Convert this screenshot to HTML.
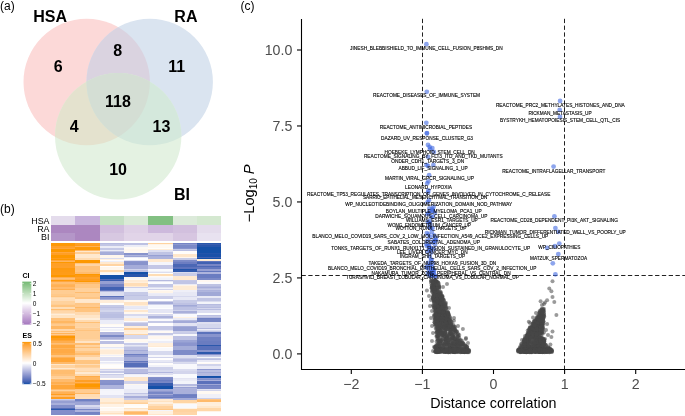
<!DOCTYPE html>
<html><head><meta charset="utf-8"><style>
html,body{margin:0;padding:0;background:#fff;overflow:hidden;}
svg{display:block;}
.wrap{will-change:transform;}
text{font-family:"Liberation Sans",sans-serif;}
</style></head><body>
<div class="wrap"><svg width="685" height="416" viewBox="0 0 685 416">
<text x="0" y="10" font-size="12" text-anchor="start" font-weight="normal" fill="#000" >(a)</text>
<text x="0" y="213" font-size="12" text-anchor="start" font-weight="normal" fill="#000" >(b)</text>
<text x="240.5" y="10" font-size="12" text-anchor="start" font-weight="normal" fill="#000" >(c)</text>
<defs><clipPath id="cR"><circle cx="86.7" cy="82" r="63.2" fill="#000" /></clipPath><clipPath id="cB"><circle cx="149.7" cy="82" r="63.2" fill="#000" /></clipPath></defs>
<circle cx="86.7" cy="82" r="63.2" fill="rgb(252,217,216)" />
<circle cx="149.7" cy="82" r="63.2" fill="rgb(218,228,240)" />
<circle cx="118.2" cy="136.3" r="63.2" fill="rgb(228,242,226)" />
<circle cx="149.7" cy="82" r="63.2" fill="rgb(218,211,224)" clip-path="url(#cR)"/>
<circle cx="118.2" cy="136.3" r="63.2" fill="rgb(228,226,206)" clip-path="url(#cR)"/>
<circle cx="118.2" cy="136.3" r="63.2" fill="rgb(212,232,220)" clip-path="url(#cB)"/>
<g clip-path="url(#cB)"><circle cx="118.2" cy="136.3" r="63.2" fill="rgb(212,222,212)" clip-path="url(#cR)"/></g>
<text x="50.2" y="22.3" font-size="16" text-anchor="middle" font-weight="bold" fill="#000" >HSA</text>
<text x="185.9" y="22.3" font-size="16" text-anchor="middle" font-weight="bold" fill="#000" >RA</text>
<text x="182" y="200.1" font-size="16" text-anchor="middle" font-weight="bold" fill="#000" >BI</text>
<text x="58.3" y="72.1" font-size="16" text-anchor="middle" font-weight="bold" fill="#000" >6</text>
<text x="117.6" y="56.2" font-size="16" text-anchor="middle" font-weight="bold" fill="#000" >8</text>
<text x="176.8" y="72" font-size="16" text-anchor="middle" font-weight="bold" fill="#000" >11</text>
<text x="118" y="106.6" font-size="16" text-anchor="middle" font-weight="bold" fill="#000" >118</text>
<text x="74.1" y="131.9" font-size="16" text-anchor="middle" font-weight="bold" fill="#000" >4</text>
<text x="161.5" y="131.9" font-size="16" text-anchor="middle" font-weight="bold" fill="#000" >13</text>
<text x="118.1" y="174.8" font-size="16" text-anchor="middle" font-weight="bold" fill="#000" >10</text>
<g shape-rendering="crispEdges">
<rect x="51" y="216" width="24.30" height="8.50" fill="rgb(228, 220, 236)"/>
<rect x="75.3" y="216" width="24.40" height="8.50" fill="rgb(200, 180, 220)"/>
<rect x="99.7" y="216" width="24.30" height="8.50" fill="rgb(198, 226, 196)"/>
<rect x="124" y="216" width="24.40" height="8.50" fill="rgb(218, 234, 215)"/>
<rect x="148.4" y="216" width="24.40" height="8.50" fill="rgb(130, 192, 130)"/>
<rect x="172.8" y="216" width="24.20" height="8.50" fill="rgb(220, 234, 218)"/>
<rect x="197" y="216" width="24.20" height="8.50" fill="rgb(212, 232, 208)"/>
<rect x="51" y="224.5" width="24.30" height="8.00" fill="rgb(172, 135, 192)"/>
<rect x="75.3" y="224.5" width="24.40" height="8.00" fill="rgb(172, 135, 192)"/>
<rect x="99.7" y="224.5" width="24.30" height="8.00" fill="rgb(210, 192, 222)"/>
<rect x="124" y="224.5" width="24.40" height="8.00" fill="rgb(222, 208, 230)"/>
<rect x="148.4" y="224.5" width="24.40" height="8.00" fill="rgb(205, 185, 220)"/>
<rect x="172.8" y="224.5" width="24.20" height="8.00" fill="rgb(210, 192, 222)"/>
<rect x="197" y="224.5" width="24.20" height="8.00" fill="rgb(228, 220, 236)"/>
<rect x="51" y="232.5" width="24.30" height="8.50" fill="rgb(180, 150, 200)"/>
<rect x="75.3" y="232.5" width="24.40" height="8.50" fill="rgb(172, 135, 192)"/>
<rect x="99.7" y="232.5" width="24.30" height="8.50" fill="rgb(215, 200, 225)"/>
<rect x="124" y="232.5" width="24.40" height="8.50" fill="rgb(225, 212, 232)"/>
<rect x="148.4" y="232.5" width="24.40" height="8.50" fill="rgb(225, 212, 232)"/>
<rect x="172.8" y="232.5" width="24.20" height="8.50" fill="rgb(215, 198, 225)"/>
<rect x="197" y="232.5" width="24.20" height="8.50" fill="rgb(232, 226, 240)"/>
</g>
<text x="49.5" y="223.6" font-size="8.9" text-anchor="end" font-weight="normal" fill="#000" >HSA</text>
<text x="49.5" y="231.6" font-size="8.9" text-anchor="end" font-weight="normal" fill="#000" >RA</text>
<text x="49.5" y="239.6" font-size="8.9" text-anchor="end" font-weight="normal" fill="#000" >BI</text>
<g shape-rendering="crispEdges">
<rect x="51" y="243" width="24.30" height="1" fill="rgb(253, 153, 7)"/>
<rect x="51" y="244" width="24.30" height="1" fill="rgb(253, 153, 7)"/>
<rect x="51" y="245" width="24.30" height="1" fill="rgb(253, 153, 7)"/>
<rect x="51" y="246" width="24.30" height="1" fill="rgb(255, 160, 42)"/>
<rect x="51" y="247" width="24.30" height="1" fill="rgb(255, 160, 42)"/>
<rect x="51" y="248" width="24.30" height="1" fill="rgb(255, 166, 58)"/>
<rect x="51" y="249" width="24.30" height="1" fill="rgb(253, 152, 0)"/>
<rect x="51" y="250" width="24.30" height="1" fill="rgb(253, 152, 0)"/>
<rect x="51" y="251" width="24.30" height="1" fill="rgb(253, 152, 0)"/>
<rect x="51" y="252" width="24.30" height="1" fill="rgb(255, 167, 62)"/>
<rect x="51" y="253" width="24.30" height="1" fill="rgb(255, 159, 38)"/>
<rect x="51" y="254" width="24.30" height="1" fill="rgb(255, 159, 38)"/>
<rect x="51" y="255" width="24.30" height="1" fill="rgb(253, 152, 0)"/>
<rect x="51" y="256" width="24.30" height="1" fill="rgb(253, 152, 0)"/>
<rect x="51" y="257" width="24.30" height="1" fill="rgb(253, 152, 0)"/>
<rect x="51" y="258" width="24.30" height="1" fill="rgb(255, 157, 29)"/>
<rect x="51" y="259" width="24.30" height="1" fill="rgb(253, 152, 0)"/>
<rect x="51" y="260" width="24.30" height="1" fill="rgb(255, 167, 62)"/>
<rect x="51" y="261" width="24.30" height="1" fill="rgb(255, 181, 94)"/>
<rect x="51" y="262" width="24.30" height="1" fill="rgb(253, 152, 0)"/>
<rect x="51" y="263" width="24.30" height="1" fill="rgb(255, 159, 38)"/>
<rect x="51" y="264" width="24.30" height="1" fill="rgb(255, 159, 38)"/>
<rect x="51" y="265" width="24.30" height="1" fill="rgb(255, 159, 38)"/>
<rect x="51" y="266" width="24.30" height="1" fill="rgb(255, 160, 41)"/>
<rect x="51" y="267" width="24.30" height="1" fill="rgb(255, 160, 41)"/>
<rect x="51" y="268" width="24.30" height="1" fill="rgb(254, 154, 15)"/>
<rect x="51" y="269" width="24.30" height="1" fill="rgb(254, 154, 15)"/>
<rect x="51" y="270" width="24.30" height="1" fill="rgb(254, 155, 20)"/>
<rect x="51" y="271" width="24.30" height="1" fill="rgb(254, 155, 20)"/>
<rect x="51" y="272" width="24.30" height="1" fill="rgb(254, 156, 24)"/>
<rect x="51" y="273" width="24.30" height="1" fill="rgb(254, 156, 24)"/>
<rect x="51" y="274" width="24.30" height="1" fill="rgb(255, 156, 26)"/>
<rect x="51" y="275" width="24.30" height="1" fill="rgb(253, 152, 0)"/>
<rect x="51" y="276" width="24.30" height="1" fill="rgb(253, 152, 0)"/>
<rect x="51" y="277" width="24.30" height="1" fill="rgb(255, 174, 79)"/>
<rect x="51" y="278" width="24.30" height="1" fill="rgb(255, 192, 120)"/>
<rect x="51" y="279" width="24.30" height="1" fill="rgb(255, 184, 102)"/>
<rect x="51" y="280" width="24.30" height="1" fill="rgb(254, 154, 13)"/>
<rect x="51" y="281" width="24.30" height="1" fill="rgb(255, 167, 62)"/>
<rect x="51" y="282" width="24.30" height="1" fill="rgb(255, 190, 115)"/>
<rect x="51" y="283" width="24.30" height="1" fill="rgb(255, 190, 115)"/>
<rect x="51" y="284" width="24.30" height="1" fill="rgb(255, 181, 94)"/>
<rect x="51" y="285" width="24.30" height="1" fill="rgb(255, 177, 86)"/>
<rect x="51" y="286" width="24.30" height="1" fill="rgb(255, 177, 86)"/>
<rect x="51" y="287" width="24.30" height="1" fill="rgb(255, 187, 109)"/>
<rect x="51" y="288" width="24.30" height="1" fill="rgb(255, 187, 109)"/>
<rect x="51" y="289" width="24.30" height="1" fill="rgb(255, 175, 80)"/>
<rect x="51" y="290" width="24.30" height="1" fill="rgb(255, 205, 147)"/>
<rect x="51" y="291" width="24.30" height="1" fill="rgb(255, 205, 147)"/>
<rect x="51" y="292" width="24.30" height="1" fill="rgb(255, 205, 147)"/>
<rect x="51" y="293" width="24.30" height="1" fill="rgb(255, 205, 147)"/>
<rect x="51" y="294" width="24.30" height="1" fill="rgb(255, 201, 138)"/>
<rect x="51" y="295" width="24.30" height="1" fill="rgb(255, 201, 138)"/>
<rect x="51" y="296" width="24.30" height="1" fill="rgb(255, 196, 128)"/>
<rect x="51" y="297" width="24.30" height="1" fill="rgb(255, 217, 172)"/>
<rect x="51" y="298" width="24.30" height="1" fill="rgb(255, 223, 186)"/>
<rect x="51" y="299" width="24.30" height="1" fill="rgb(255, 221, 183)"/>
<rect x="51" y="300" width="24.30" height="1" fill="rgb(255, 221, 183)"/>
<rect x="51" y="301" width="24.30" height="1" fill="rgb(255, 210, 157)"/>
<rect x="51" y="302" width="24.30" height="1" fill="rgb(255, 210, 157)"/>
<rect x="51" y="303" width="24.30" height="1" fill="rgb(255, 210, 157)"/>
<rect x="51" y="304" width="24.30" height="1" fill="rgb(255, 206, 149)"/>
<rect x="51" y="305" width="24.30" height="1" fill="rgb(255, 196, 127)"/>
<rect x="51" y="306" width="24.30" height="1" fill="rgb(255, 196, 127)"/>
<rect x="51" y="307" width="24.30" height="1" fill="rgb(255, 221, 181)"/>
<rect x="51" y="308" width="24.30" height="1" fill="rgb(255, 221, 181)"/>
<rect x="51" y="309" width="24.30" height="1" fill="rgb(255, 190, 114)"/>
<rect x="51" y="310" width="24.30" height="1" fill="rgb(255, 210, 159)"/>
<rect x="51" y="311" width="24.30" height="1" fill="rgb(255, 215, 170)"/>
<rect x="51" y="312" width="24.30" height="1" fill="rgb(255, 215, 170)"/>
<rect x="51" y="313" width="24.30" height="1" fill="rgb(255, 224, 189)"/>
<rect x="51" y="314" width="24.30" height="1" fill="rgb(255, 237, 216)"/>
<rect x="51" y="315" width="24.30" height="1" fill="rgb(255, 227, 194)"/>
<rect x="51" y="316" width="24.30" height="1" fill="rgb(255, 227, 194)"/>
<rect x="51" y="317" width="24.30" height="1" fill="rgb(255, 227, 194)"/>
<rect x="51" y="318" width="24.30" height="1" fill="rgb(255, 194, 123)"/>
<rect x="51" y="319" width="24.30" height="1" fill="rgb(255, 194, 123)"/>
<rect x="51" y="320" width="24.30" height="1" fill="rgb(255, 195, 125)"/>
<rect x="51" y="321" width="24.30" height="1" fill="rgb(255, 183, 98)"/>
<rect x="51" y="322" width="24.30" height="1" fill="rgb(255, 183, 98)"/>
<rect x="51" y="323" width="24.30" height="1" fill="rgb(255, 195, 125)"/>
<rect x="51" y="324" width="24.30" height="1" fill="rgb(255, 202, 141)"/>
<rect x="51" y="325" width="24.30" height="1" fill="rgb(255, 202, 141)"/>
<rect x="51" y="326" width="24.30" height="1" fill="rgb(255, 183, 99)"/>
<rect x="51" y="327" width="24.30" height="1" fill="rgb(255, 183, 99)"/>
<rect x="51" y="328" width="24.30" height="1" fill="rgb(255, 183, 99)"/>
<rect x="51" y="329" width="24.30" height="1" fill="rgb(255, 215, 170)"/>
<rect x="51" y="330" width="24.30" height="1" fill="rgb(255, 215, 170)"/>
<rect x="51" y="331" width="24.30" height="1" fill="rgb(255, 192, 118)"/>
<rect x="51" y="332" width="24.30" height="1" fill="rgb(255, 212, 163)"/>
<rect x="51" y="333" width="24.30" height="1" fill="rgb(255, 179, 90)"/>
<rect x="51" y="334" width="24.30" height="1" fill="rgb(255, 203, 143)"/>
<rect x="51" y="335" width="24.30" height="1" fill="rgb(255, 174, 80)"/>
<rect x="51" y="336" width="24.30" height="1" fill="rgb(253, 152, 2)"/>
<rect x="51" y="337" width="24.30" height="1" fill="rgb(253, 152, 2)"/>
<rect x="51" y="338" width="24.30" height="1" fill="rgb(255, 157, 30)"/>
<rect x="51" y="339" width="24.30" height="1" fill="rgb(255, 157, 30)"/>
<rect x="51" y="340" width="24.30" height="1" fill="rgb(255, 165, 54)"/>
<rect x="51" y="341" width="24.30" height="1" fill="rgb(255, 174, 78)"/>
<rect x="51" y="342" width="24.30" height="1" fill="rgb(255, 174, 78)"/>
<rect x="51" y="343" width="24.30" height="1" fill="rgb(255, 191, 118)"/>
<rect x="51" y="344" width="24.30" height="1" fill="rgb(255, 184, 102)"/>
<rect x="51" y="345" width="24.30" height="1" fill="rgb(255, 168, 63)"/>
<rect x="51" y="346" width="24.30" height="1" fill="rgb(255, 168, 63)"/>
<rect x="51" y="347" width="24.30" height="1" fill="rgb(255, 168, 63)"/>
<rect x="51" y="348" width="24.30" height="1" fill="rgb(255, 179, 89)"/>
<rect x="51" y="349" width="24.30" height="1" fill="rgb(255, 170, 70)"/>
<rect x="51" y="350" width="24.30" height="1" fill="rgb(255, 170, 70)"/>
<rect x="51" y="351" width="24.30" height="1" fill="rgb(255, 170, 70)"/>
<rect x="51" y="352" width="24.30" height="1" fill="rgb(255, 170, 70)"/>
<rect x="51" y="353" width="24.30" height="1" fill="rgb(255, 175, 80)"/>
<rect x="51" y="354" width="24.30" height="1" fill="rgb(255, 175, 80)"/>
<rect x="51" y="355" width="24.30" height="1" fill="rgb(255, 196, 127)"/>
<rect x="51" y="356" width="24.30" height="1" fill="rgb(255, 196, 127)"/>
<rect x="51" y="357" width="24.30" height="1" fill="rgb(255, 177, 86)"/>
<rect x="51" y="358" width="24.30" height="1" fill="rgb(255, 165, 54)"/>
<rect x="51" y="359" width="24.30" height="1" fill="rgb(255, 165, 54)"/>
<rect x="51" y="360" width="24.30" height="1" fill="rgb(255, 165, 54)"/>
<rect x="51" y="361" width="24.30" height="1" fill="rgb(255, 165, 54)"/>
<rect x="51" y="362" width="24.30" height="1" fill="rgb(255, 186, 106)"/>
<rect x="51" y="363" width="24.30" height="1" fill="rgb(255, 186, 106)"/>
<rect x="51" y="364" width="24.30" height="1" fill="rgb(255, 231, 202)"/>
<rect x="51" y="365" width="24.30" height="1" fill="rgb(255, 212, 162)"/>
<rect x="51" y="366" width="24.30" height="1" fill="rgb(255, 212, 162)"/>
<rect x="51" y="367" width="24.30" height="1" fill="rgb(255, 212, 162)"/>
<rect x="51" y="368" width="24.30" height="1" fill="rgb(255, 233, 207)"/>
<rect x="51" y="369" width="24.30" height="1" fill="rgb(255, 212, 162)"/>
<rect x="51" y="370" width="24.30" height="1" fill="rgb(255, 189, 112)"/>
<rect x="51" y="371" width="24.30" height="1" fill="rgb(255, 189, 112)"/>
<rect x="51" y="372" width="24.30" height="1" fill="rgb(255, 189, 112)"/>
<rect x="51" y="373" width="24.30" height="1" fill="rgb(255, 189, 112)"/>
<rect x="51" y="374" width="24.30" height="1" fill="rgb(255, 194, 124)"/>
<rect x="51" y="375" width="24.30" height="1" fill="rgb(255, 194, 124)"/>
<rect x="51" y="376" width="24.30" height="1" fill="rgb(255, 207, 152)"/>
<rect x="51" y="377" width="24.30" height="1" fill="rgb(255, 207, 152)"/>
<rect x="51" y="378" width="24.30" height="1" fill="rgb(255, 212, 162)"/>
<rect x="51" y="379" width="24.30" height="1" fill="rgb(255, 187, 109)"/>
<rect x="51" y="380" width="24.30" height="1" fill="rgb(255, 187, 109)"/>
<rect x="51" y="381" width="24.30" height="1" fill="rgb(255, 187, 109)"/>
<rect x="51" y="382" width="24.30" height="1" fill="rgb(255, 175, 80)"/>
<rect x="51" y="383" width="24.30" height="1" fill="rgb(255, 175, 80)"/>
<rect x="51" y="384" width="24.30" height="1" fill="rgb(255, 183, 100)"/>
<rect x="51" y="385" width="24.30" height="1" fill="rgb(255, 166, 57)"/>
<rect x="51" y="386" width="24.30" height="1" fill="rgb(255, 166, 57)"/>
<rect x="51" y="387" width="24.30" height="1" fill="rgb(255, 166, 57)"/>
<rect x="51" y="388" width="24.30" height="1" fill="rgb(255, 166, 57)"/>
<rect x="51" y="389" width="24.30" height="1" fill="rgb(255, 187, 109)"/>
<rect x="51" y="390" width="24.30" height="1" fill="rgb(255, 209, 155)"/>
<rect x="51" y="391" width="24.30" height="1" fill="rgb(255, 188, 111)"/>
<rect x="51" y="392" width="24.30" height="1" fill="rgb(255, 177, 86)"/>
<rect x="51" y="393" width="24.30" height="1" fill="rgb(255, 177, 86)"/>
<rect x="51" y="394" width="24.30" height="1" fill="rgb(255, 158, 35)"/>
<rect x="51" y="395" width="24.30" height="1" fill="rgb(255, 187, 108)"/>
<rect x="51" y="396" width="24.30" height="1" fill="rgb(255, 187, 108)"/>
<rect x="51" y="397" width="24.30" height="1" fill="rgb(255, 158, 34)"/>
<rect x="51" y="398" width="24.30" height="1" fill="rgb(255, 158, 34)"/>
<rect x="51" y="399" width="24.30" height="1" fill="rgb(203, 206, 233)"/>
<rect x="51" y="400" width="24.30" height="1" fill="rgb(171, 177, 219)"/>
<rect x="51" y="401" width="24.30" height="1" fill="rgb(150, 159, 210)"/>
<rect x="51" y="402" width="24.30" height="1" fill="rgb(150, 159, 210)"/>
<rect x="51" y="403" width="24.30" height="1" fill="rgb(169, 176, 219)"/>
<rect x="51" y="404" width="24.30" height="1" fill="rgb(169, 176, 219)"/>
<rect x="51" y="405" width="24.30" height="1" fill="rgb(131, 143, 202)"/>
<rect x="51" y="406" width="24.30" height="1" fill="rgb(131, 143, 202)"/>
<rect x="51" y="407" width="24.30" height="1" fill="rgb(130, 143, 202)"/>
<rect x="51" y="408" width="24.30" height="1" fill="rgb(85, 109, 185)"/>
<rect x="51" y="409" width="24.30" height="1" fill="rgb(43, 87, 172)"/>
<rect x="51" y="410" width="24.30" height="1" fill="rgb(130, 142, 202)"/>
<rect x="51" y="411" width="24.30" height="1" fill="rgb(130, 142, 202)"/>
<rect x="51" y="412" width="24.30" height="1" fill="rgb(130, 142, 202)"/>
<rect x="51" y="413" width="24.30" height="1" fill="rgb(128, 141, 201)"/>
<rect x="51" y="414" width="24.30" height="1" fill="rgb(128, 141, 201)"/>
<rect x="75.3" y="243" width="24.40" height="1" fill="rgb(255, 159, 37)"/>
<rect x="75.3" y="244" width="24.40" height="1" fill="rgb(255, 159, 37)"/>
<rect x="75.3" y="245" width="24.40" height="1" fill="rgb(255, 156, 27)"/>
<rect x="75.3" y="246" width="24.40" height="1" fill="rgb(255, 177, 86)"/>
<rect x="75.3" y="247" width="24.40" height="1" fill="rgb(254, 153, 10)"/>
<rect x="75.3" y="248" width="24.40" height="1" fill="rgb(254, 153, 10)"/>
<rect x="75.3" y="249" width="24.40" height="1" fill="rgb(254, 153, 10)"/>
<rect x="75.3" y="250" width="24.40" height="1" fill="rgb(255, 186, 106)"/>
<rect x="75.3" y="251" width="24.40" height="1" fill="rgb(255, 231, 204)"/>
<rect x="75.3" y="252" width="24.40" height="1" fill="rgb(255, 205, 148)"/>
<rect x="75.3" y="253" width="24.40" height="1" fill="rgb(255, 205, 148)"/>
<rect x="75.3" y="254" width="24.40" height="1" fill="rgb(255, 232, 206)"/>
<rect x="75.3" y="255" width="24.40" height="1" fill="rgb(255, 232, 206)"/>
<rect x="75.3" y="256" width="24.40" height="1" fill="rgb(255, 232, 206)"/>
<rect x="75.3" y="257" width="24.40" height="1" fill="rgb(255, 232, 206)"/>
<rect x="75.3" y="258" width="24.40" height="1" fill="rgb(255, 219, 177)"/>
<rect x="75.3" y="259" width="24.40" height="1" fill="rgb(255, 219, 177)"/>
<rect x="75.3" y="260" width="24.40" height="1" fill="rgb(253, 152, 0)"/>
<rect x="75.3" y="261" width="24.40" height="1" fill="rgb(253, 152, 0)"/>
<rect x="75.3" y="262" width="24.40" height="1" fill="rgb(253, 152, 0)"/>
<rect x="75.3" y="263" width="24.40" height="1" fill="rgb(255, 196, 128)"/>
<rect x="75.3" y="264" width="24.40" height="1" fill="rgb(255, 212, 164)"/>
<rect x="75.3" y="265" width="24.40" height="1" fill="rgb(255, 212, 164)"/>
<rect x="75.3" y="266" width="24.40" height="1" fill="rgb(255, 194, 124)"/>
<rect x="75.3" y="267" width="24.40" height="1" fill="rgb(255, 194, 124)"/>
<rect x="75.3" y="268" width="24.40" height="1" fill="rgb(255, 194, 124)"/>
<rect x="75.3" y="269" width="24.40" height="1" fill="rgb(255, 194, 124)"/>
<rect x="75.3" y="270" width="24.40" height="1" fill="rgb(255, 197, 129)"/>
<rect x="75.3" y="271" width="24.40" height="1" fill="rgb(255, 197, 129)"/>
<rect x="75.3" y="272" width="24.40" height="1" fill="rgb(255, 188, 111)"/>
<rect x="75.3" y="273" width="24.40" height="1" fill="rgb(255, 188, 111)"/>
<rect x="75.3" y="274" width="24.40" height="1" fill="rgb(253, 152, 0)"/>
<rect x="75.3" y="275" width="24.40" height="1" fill="rgb(254, 155, 19)"/>
<rect x="75.3" y="276" width="24.40" height="1" fill="rgb(254, 155, 19)"/>
<rect x="75.3" y="277" width="24.40" height="1" fill="rgb(255, 161, 44)"/>
<rect x="75.3" y="278" width="24.40" height="1" fill="rgb(255, 161, 44)"/>
<rect x="75.3" y="279" width="24.40" height="1" fill="rgb(255, 157, 30)"/>
<rect x="75.3" y="280" width="24.40" height="1" fill="rgb(255, 157, 30)"/>
<rect x="75.3" y="281" width="24.40" height="1" fill="rgb(253, 152, 0)"/>
<rect x="75.3" y="282" width="24.40" height="1" fill="rgb(255, 187, 107)"/>
<rect x="75.3" y="283" width="24.40" height="1" fill="rgb(255, 187, 107)"/>
<rect x="75.3" y="284" width="24.40" height="1" fill="rgb(255, 199, 134)"/>
<rect x="75.3" y="285" width="24.40" height="1" fill="rgb(255, 199, 134)"/>
<rect x="75.3" y="286" width="24.40" height="1" fill="rgb(255, 199, 134)"/>
<rect x="75.3" y="287" width="24.40" height="1" fill="rgb(255, 199, 134)"/>
<rect x="75.3" y="288" width="24.40" height="1" fill="rgb(255, 209, 156)"/>
<rect x="75.3" y="289" width="24.40" height="1" fill="rgb(255, 209, 156)"/>
<rect x="75.3" y="290" width="24.40" height="1" fill="rgb(255, 209, 156)"/>
<rect x="75.3" y="291" width="24.40" height="1" fill="rgb(255, 209, 156)"/>
<rect x="75.3" y="292" width="24.40" height="1" fill="rgb(255, 188, 110)"/>
<rect x="75.3" y="293" width="24.40" height="1" fill="rgb(255, 205, 147)"/>
<rect x="75.3" y="294" width="24.40" height="1" fill="rgb(255, 205, 147)"/>
<rect x="75.3" y="295" width="24.40" height="1" fill="rgb(255, 205, 147)"/>
<rect x="75.3" y="296" width="24.40" height="1" fill="rgb(255, 205, 147)"/>
<rect x="75.3" y="297" width="24.40" height="1" fill="rgb(255, 198, 133)"/>
<rect x="75.3" y="298" width="24.40" height="1" fill="rgb(255, 198, 133)"/>
<rect x="75.3" y="299" width="24.40" height="1" fill="rgb(255, 232, 206)"/>
<rect x="75.3" y="300" width="24.40" height="1" fill="rgb(255, 232, 206)"/>
<rect x="75.3" y="301" width="24.40" height="1" fill="rgb(255, 232, 206)"/>
<rect x="75.3" y="302" width="24.40" height="1" fill="rgb(255, 230, 201)"/>
<rect x="75.3" y="303" width="24.40" height="1" fill="rgb(255, 199, 135)"/>
<rect x="75.3" y="304" width="24.40" height="1" fill="rgb(255, 199, 135)"/>
<rect x="75.3" y="305" width="24.40" height="1" fill="rgb(255, 201, 140)"/>
<rect x="75.3" y="306" width="24.40" height="1" fill="rgb(255, 201, 140)"/>
<rect x="75.3" y="307" width="24.40" height="1" fill="rgb(255, 184, 101)"/>
<rect x="75.3" y="308" width="24.40" height="1" fill="rgb(255, 196, 128)"/>
<rect x="75.3" y="309" width="24.40" height="1" fill="rgb(255, 196, 128)"/>
<rect x="75.3" y="310" width="24.40" height="1" fill="rgb(255, 196, 128)"/>
<rect x="75.3" y="311" width="24.40" height="1" fill="rgb(255, 196, 128)"/>
<rect x="75.3" y="312" width="24.40" height="1" fill="rgb(255, 218, 176)"/>
<rect x="75.3" y="313" width="24.40" height="1" fill="rgb(255, 218, 176)"/>
<rect x="75.3" y="314" width="24.40" height="1" fill="rgb(255, 218, 176)"/>
<rect x="75.3" y="315" width="24.40" height="1" fill="rgb(255, 229, 199)"/>
<rect x="75.3" y="316" width="24.40" height="1" fill="rgb(255, 229, 199)"/>
<rect x="75.3" y="317" width="24.40" height="1" fill="rgb(255, 229, 199)"/>
<rect x="75.3" y="318" width="24.40" height="1" fill="rgb(255, 238, 218)"/>
<rect x="75.3" y="319" width="24.40" height="1" fill="rgb(255, 238, 218)"/>
<rect x="75.3" y="320" width="24.40" height="1" fill="rgb(255, 218, 176)"/>
<rect x="75.3" y="321" width="24.40" height="1" fill="rgb(255, 218, 176)"/>
<rect x="75.3" y="322" width="24.40" height="1" fill="rgb(255, 192, 118)"/>
<rect x="75.3" y="323" width="24.40" height="1" fill="rgb(255, 212, 163)"/>
<rect x="75.3" y="324" width="24.40" height="1" fill="rgb(255, 212, 163)"/>
<rect x="75.3" y="325" width="24.40" height="1" fill="rgb(255, 212, 163)"/>
<rect x="75.3" y="326" width="24.40" height="1" fill="rgb(255, 212, 163)"/>
<rect x="75.3" y="327" width="24.40" height="1" fill="rgb(255, 215, 170)"/>
<rect x="75.3" y="328" width="24.40" height="1" fill="rgb(255, 205, 148)"/>
<rect x="75.3" y="329" width="24.40" height="1" fill="rgb(255, 205, 148)"/>
<rect x="75.3" y="330" width="24.40" height="1" fill="rgb(255, 195, 126)"/>
<rect x="75.3" y="331" width="24.40" height="1" fill="rgb(255, 206, 149)"/>
<rect x="75.3" y="332" width="24.40" height="1" fill="rgb(255, 206, 149)"/>
<rect x="75.3" y="333" width="24.40" height="1" fill="rgb(255, 206, 149)"/>
<rect x="75.3" y="334" width="24.40" height="1" fill="rgb(255, 206, 149)"/>
<rect x="75.3" y="335" width="24.40" height="1" fill="rgb(255, 206, 149)"/>
<rect x="75.3" y="336" width="24.40" height="1" fill="rgb(255, 206, 149)"/>
<rect x="75.3" y="337" width="24.40" height="1" fill="rgb(255, 206, 149)"/>
<rect x="75.3" y="338" width="24.40" height="1" fill="rgb(255, 206, 149)"/>
<rect x="75.3" y="339" width="24.40" height="1" fill="rgb(255, 211, 161)"/>
<rect x="75.3" y="340" width="24.40" height="1" fill="rgb(255, 211, 161)"/>
<rect x="75.3" y="341" width="24.40" height="1" fill="rgb(255, 228, 197)"/>
<rect x="75.3" y="342" width="24.40" height="1" fill="rgb(255, 228, 197)"/>
<rect x="75.3" y="343" width="24.40" height="1" fill="rgb(255, 189, 113)"/>
<rect x="75.3" y="344" width="24.40" height="1" fill="rgb(255, 189, 113)"/>
<rect x="75.3" y="345" width="24.40" height="1" fill="rgb(255, 211, 160)"/>
<rect x="75.3" y="346" width="24.40" height="1" fill="rgb(255, 209, 155)"/>
<rect x="75.3" y="347" width="24.40" height="1" fill="rgb(255, 193, 122)"/>
<rect x="75.3" y="348" width="24.40" height="1" fill="rgb(255, 212, 162)"/>
<rect x="75.3" y="349" width="24.40" height="1" fill="rgb(255, 212, 162)"/>
<rect x="75.3" y="350" width="24.40" height="1" fill="rgb(255, 212, 162)"/>
<rect x="75.3" y="351" width="24.40" height="1" fill="rgb(255, 199, 134)"/>
<rect x="75.3" y="352" width="24.40" height="1" fill="rgb(255, 199, 134)"/>
<rect x="75.3" y="353" width="24.40" height="1" fill="rgb(255, 188, 110)"/>
<rect x="75.3" y="354" width="24.40" height="1" fill="rgb(255, 188, 110)"/>
<rect x="75.3" y="355" width="24.40" height="1" fill="rgb(255, 208, 155)"/>
<rect x="75.3" y="356" width="24.40" height="1" fill="rgb(255, 208, 155)"/>
<rect x="75.3" y="357" width="24.40" height="1" fill="rgb(255, 225, 191)"/>
<rect x="75.3" y="358" width="24.40" height="1" fill="rgb(255, 225, 191)"/>
<rect x="75.3" y="359" width="24.40" height="1" fill="rgb(255, 225, 191)"/>
<rect x="75.3" y="360" width="24.40" height="1" fill="rgb(255, 197, 129)"/>
<rect x="75.3" y="361" width="24.40" height="1" fill="rgb(255, 197, 129)"/>
<rect x="75.3" y="362" width="24.40" height="1" fill="rgb(255, 197, 129)"/>
<rect x="75.3" y="363" width="24.40" height="1" fill="rgb(255, 197, 129)"/>
<rect x="75.3" y="364" width="24.40" height="1" fill="rgb(255, 219, 178)"/>
<rect x="75.3" y="365" width="24.40" height="1" fill="rgb(255, 203, 142)"/>
<rect x="75.3" y="366" width="24.40" height="1" fill="rgb(255, 203, 142)"/>
<rect x="75.3" y="367" width="24.40" height="1" fill="rgb(255, 209, 157)"/>
<rect x="75.3" y="368" width="24.40" height="1" fill="rgb(255, 222, 185)"/>
<rect x="75.3" y="369" width="24.40" height="1" fill="rgb(255, 222, 185)"/>
<rect x="75.3" y="370" width="24.40" height="1" fill="rgb(255, 222, 185)"/>
<rect x="75.3" y="371" width="24.40" height="1" fill="rgb(255, 215, 169)"/>
<rect x="75.3" y="372" width="24.40" height="1" fill="rgb(255, 234, 210)"/>
<rect x="75.3" y="373" width="24.40" height="1" fill="rgb(255, 234, 210)"/>
<rect x="75.3" y="374" width="24.40" height="1" fill="rgb(255, 217, 173)"/>
<rect x="75.3" y="375" width="24.40" height="1" fill="rgb(255, 217, 173)"/>
<rect x="75.3" y="376" width="24.40" height="1" fill="rgb(255, 172, 73)"/>
<rect x="75.3" y="377" width="24.40" height="1" fill="rgb(255, 181, 94)"/>
<rect x="75.3" y="378" width="24.40" height="1" fill="rgb(255, 181, 94)"/>
<rect x="75.3" y="379" width="24.40" height="1" fill="rgb(255, 181, 94)"/>
<rect x="75.3" y="380" width="24.40" height="1" fill="rgb(255, 159, 38)"/>
<rect x="75.3" y="381" width="24.40" height="1" fill="rgb(255, 159, 38)"/>
<rect x="75.3" y="382" width="24.40" height="1" fill="rgb(255, 176, 83)"/>
<rect x="75.3" y="383" width="24.40" height="1" fill="rgb(255, 159, 36)"/>
<rect x="75.3" y="384" width="24.40" height="1" fill="rgb(253, 152, 0)"/>
<rect x="75.3" y="385" width="24.40" height="1" fill="rgb(253, 152, 0)"/>
<rect x="75.3" y="386" width="24.40" height="1" fill="rgb(253, 152, 0)"/>
<rect x="75.3" y="387" width="24.40" height="1" fill="rgb(255, 157, 30)"/>
<rect x="75.3" y="388" width="24.40" height="1" fill="rgb(255, 157, 30)"/>
<rect x="75.3" y="389" width="24.40" height="1" fill="rgb(255, 199, 134)"/>
<rect x="75.3" y="390" width="24.40" height="1" fill="rgb(255, 204, 145)"/>
<rect x="75.3" y="391" width="24.40" height="1" fill="rgb(255, 204, 145)"/>
<rect x="75.3" y="392" width="24.40" height="1" fill="rgb(255, 204, 145)"/>
<rect x="75.3" y="393" width="24.40" height="1" fill="rgb(255, 184, 101)"/>
<rect x="75.3" y="394" width="24.40" height="1" fill="rgb(255, 220, 179)"/>
<rect x="75.3" y="395" width="24.40" height="1" fill="rgb(255, 220, 179)"/>
<rect x="75.3" y="396" width="24.40" height="1" fill="rgb(255, 220, 179)"/>
<rect x="75.3" y="397" width="24.40" height="1" fill="rgb(255, 223, 187)"/>
<rect x="75.3" y="398" width="24.40" height="1" fill="rgb(255, 223, 187)"/>
<rect x="75.3" y="399" width="24.40" height="1" fill="rgb(111, 128, 195)"/>
<rect x="75.3" y="400" width="24.40" height="1" fill="rgb(111, 128, 195)"/>
<rect x="75.3" y="401" width="24.40" height="1" fill="rgb(139, 150, 206)"/>
<rect x="75.3" y="402" width="24.40" height="1" fill="rgb(157, 165, 213)"/>
<rect x="75.3" y="403" width="24.40" height="1" fill="rgb(157, 165, 213)"/>
<rect x="75.3" y="404" width="24.40" height="1" fill="rgb(157, 165, 213)"/>
<rect x="75.3" y="405" width="24.40" height="1" fill="rgb(217, 219, 239)"/>
<rect x="75.3" y="406" width="24.40" height="1" fill="rgb(217, 219, 239)"/>
<rect x="75.3" y="407" width="24.40" height="1" fill="rgb(197, 200, 230)"/>
<rect x="75.3" y="408" width="24.40" height="1" fill="rgb(197, 200, 230)"/>
<rect x="75.3" y="409" width="24.40" height="1" fill="rgb(122, 136, 199)"/>
<rect x="75.3" y="410" width="24.40" height="1" fill="rgb(172, 179, 220)"/>
<rect x="75.3" y="411" width="24.40" height="1" fill="rgb(172, 179, 220)"/>
<rect x="75.3" y="412" width="24.40" height="1" fill="rgb(115, 131, 196)"/>
<rect x="75.3" y="413" width="24.40" height="1" fill="rgb(115, 131, 196)"/>
<rect x="75.3" y="414" width="24.40" height="1" fill="rgb(123, 137, 199)"/>
<rect x="99.7" y="243" width="24.30" height="1" fill="rgb(182, 187, 224)"/>
<rect x="99.7" y="244" width="24.30" height="1" fill="rgb(194, 198, 229)"/>
<rect x="99.7" y="245" width="24.30" height="1" fill="rgb(194, 198, 229)"/>
<rect x="99.7" y="246" width="24.30" height="1" fill="rgb(235, 236, 246)"/>
<rect x="99.7" y="247" width="24.30" height="1" fill="rgb(235, 236, 246)"/>
<rect x="99.7" y="248" width="24.30" height="1" fill="rgb(196, 200, 230)"/>
<rect x="99.7" y="249" width="24.30" height="1" fill="rgb(196, 200, 230)"/>
<rect x="99.7" y="250" width="24.30" height="1" fill="rgb(234, 235, 246)"/>
<rect x="99.7" y="251" width="24.30" height="1" fill="rgb(194, 198, 229)"/>
<rect x="99.7" y="252" width="24.30" height="1" fill="rgb(166, 173, 217)"/>
<rect x="99.7" y="253" width="24.30" height="1" fill="rgb(166, 173, 217)"/>
<rect x="99.7" y="254" width="24.30" height="1" fill="rgb(164, 171, 216)"/>
<rect x="99.7" y="255" width="24.30" height="1" fill="rgb(255, 246, 236)"/>
<rect x="99.7" y="256" width="24.30" height="1" fill="rgb(255, 246, 236)"/>
<rect x="99.7" y="257" width="24.30" height="1" fill="rgb(255, 246, 236)"/>
<rect x="99.7" y="258" width="24.30" height="1" fill="rgb(218, 220, 239)"/>
<rect x="99.7" y="259" width="24.30" height="1" fill="rgb(255, 241, 225)"/>
<rect x="99.7" y="260" width="24.30" height="1" fill="rgb(253, 253, 254)"/>
<rect x="99.7" y="261" width="24.30" height="1" fill="rgb(237, 238, 247)"/>
<rect x="99.7" y="262" width="24.30" height="1" fill="rgb(255, 233, 207)"/>
<rect x="99.7" y="263" width="24.30" height="1" fill="rgb(255, 233, 207)"/>
<rect x="99.7" y="264" width="24.30" height="1" fill="rgb(255, 212, 162)"/>
<rect x="99.7" y="265" width="24.30" height="1" fill="rgb(255, 212, 162)"/>
<rect x="99.7" y="266" width="24.30" height="1" fill="rgb(254, 254, 255)"/>
<rect x="99.7" y="267" width="24.30" height="1" fill="rgb(255, 246, 235)"/>
<rect x="99.7" y="268" width="24.30" height="1" fill="rgb(255, 247, 237)"/>
<rect x="99.7" y="269" width="24.30" height="1" fill="rgb(255, 247, 237)"/>
<rect x="99.7" y="270" width="24.30" height="1" fill="rgb(255, 218, 174)"/>
<rect x="99.7" y="271" width="24.30" height="1" fill="rgb(255, 218, 174)"/>
<rect x="99.7" y="272" width="24.30" height="1" fill="rgb(255, 245, 233)"/>
<rect x="99.7" y="273" width="24.30" height="1" fill="rgb(247, 247, 251)"/>
<rect x="99.7" y="274" width="24.30" height="1" fill="rgb(247, 247, 251)"/>
<rect x="99.7" y="275" width="24.30" height="1" fill="rgb(20, 80, 168)"/>
<rect x="99.7" y="276" width="24.30" height="1" fill="rgb(20, 80, 168)"/>
<rect x="99.7" y="277" width="24.30" height="1" fill="rgb(20, 80, 168)"/>
<rect x="99.7" y="278" width="24.30" height="1" fill="rgb(20, 80, 168)"/>
<rect x="99.7" y="279" width="24.30" height="1" fill="rgb(82, 107, 184)"/>
<rect x="99.7" y="280" width="24.30" height="1" fill="rgb(60, 95, 176)"/>
<rect x="99.7" y="281" width="24.30" height="1" fill="rgb(150, 159, 210)"/>
<rect x="99.7" y="282" width="24.30" height="1" fill="rgb(150, 159, 210)"/>
<rect x="99.7" y="283" width="24.30" height="1" fill="rgb(150, 159, 210)"/>
<rect x="99.7" y="284" width="24.30" height="1" fill="rgb(116, 131, 196)"/>
<rect x="99.7" y="285" width="24.30" height="1" fill="rgb(116, 131, 196)"/>
<rect x="99.7" y="286" width="24.30" height="1" fill="rgb(116, 131, 196)"/>
<rect x="99.7" y="287" width="24.30" height="1" fill="rgb(65, 97, 178)"/>
<rect x="99.7" y="288" width="24.30" height="1" fill="rgb(65, 97, 178)"/>
<rect x="99.7" y="289" width="24.30" height="1" fill="rgb(65, 97, 178)"/>
<rect x="99.7" y="290" width="24.30" height="1" fill="rgb(99, 119, 190)"/>
<rect x="99.7" y="291" width="24.30" height="1" fill="rgb(183, 188, 224)"/>
<rect x="99.7" y="292" width="24.30" height="1" fill="rgb(220, 222, 240)"/>
<rect x="99.7" y="293" width="24.30" height="1" fill="rgb(220, 222, 240)"/>
<rect x="99.7" y="294" width="24.30" height="1" fill="rgb(220, 222, 240)"/>
<rect x="99.7" y="295" width="24.30" height="1" fill="rgb(220, 222, 240)"/>
<rect x="99.7" y="296" width="24.30" height="1" fill="rgb(92, 114, 187)"/>
<rect x="99.7" y="297" width="24.30" height="1" fill="rgb(138, 149, 205)"/>
<rect x="99.7" y="298" width="24.30" height="1" fill="rgb(138, 149, 205)"/>
<rect x="99.7" y="299" width="24.30" height="1" fill="rgb(168, 174, 218)"/>
<rect x="99.7" y="300" width="24.30" height="1" fill="rgb(255, 237, 217)"/>
<rect x="99.7" y="301" width="24.30" height="1" fill="rgb(255, 237, 217)"/>
<rect x="99.7" y="302" width="24.30" height="1" fill="rgb(255, 237, 217)"/>
<rect x="99.7" y="303" width="24.30" height="1" fill="rgb(255, 253, 251)"/>
<rect x="99.7" y="304" width="24.30" height="1" fill="rgb(255, 253, 251)"/>
<rect x="99.7" y="305" width="24.30" height="1" fill="rgb(198, 202, 231)"/>
<rect x="99.7" y="306" width="24.30" height="1" fill="rgb(198, 202, 231)"/>
<rect x="99.7" y="307" width="24.30" height="1" fill="rgb(189, 193, 227)"/>
<rect x="99.7" y="308" width="24.30" height="1" fill="rgb(202, 205, 233)"/>
<rect x="99.7" y="309" width="24.30" height="1" fill="rgb(202, 205, 233)"/>
<rect x="99.7" y="310" width="24.30" height="1" fill="rgb(211, 214, 236)"/>
<rect x="99.7" y="311" width="24.30" height="1" fill="rgb(211, 214, 236)"/>
<rect x="99.7" y="312" width="24.30" height="1" fill="rgb(191, 195, 228)"/>
<rect x="99.7" y="313" width="24.30" height="1" fill="rgb(191, 195, 228)"/>
<rect x="99.7" y="314" width="24.30" height="1" fill="rgb(186, 191, 226)"/>
<rect x="99.7" y="315" width="24.30" height="1" fill="rgb(186, 191, 226)"/>
<rect x="99.7" y="316" width="24.30" height="1" fill="rgb(186, 191, 226)"/>
<rect x="99.7" y="317" width="24.30" height="1" fill="rgb(186, 191, 226)"/>
<rect x="99.7" y="318" width="24.30" height="1" fill="rgb(205, 208, 234)"/>
<rect x="99.7" y="319" width="24.30" height="1" fill="rgb(205, 208, 234)"/>
<rect x="99.7" y="320" width="24.30" height="1" fill="rgb(235, 236, 247)"/>
<rect x="99.7" y="321" width="24.30" height="1" fill="rgb(235, 236, 247)"/>
<rect x="99.7" y="322" width="24.30" height="1" fill="rgb(235, 236, 247)"/>
<rect x="99.7" y="323" width="24.30" height="1" fill="rgb(235, 236, 247)"/>
<rect x="99.7" y="324" width="24.30" height="1" fill="rgb(255, 249, 241)"/>
<rect x="99.7" y="325" width="24.30" height="1" fill="rgb(255, 252, 248)"/>
<rect x="99.7" y="326" width="24.30" height="1" fill="rgb(255, 252, 248)"/>
<rect x="99.7" y="327" width="24.30" height="1" fill="rgb(219, 221, 240)"/>
<rect x="99.7" y="328" width="24.30" height="1" fill="rgb(251, 251, 253)"/>
<rect x="99.7" y="329" width="24.30" height="1" fill="rgb(241, 242, 249)"/>
<rect x="99.7" y="330" width="24.30" height="1" fill="rgb(241, 242, 249)"/>
<rect x="99.7" y="331" width="24.30" height="1" fill="rgb(255, 254, 252)"/>
<rect x="99.7" y="332" width="24.30" height="1" fill="rgb(177, 182, 222)"/>
<rect x="99.7" y="333" width="24.30" height="1" fill="rgb(177, 182, 222)"/>
<rect x="99.7" y="334" width="24.30" height="1" fill="rgb(177, 182, 222)"/>
<rect x="99.7" y="335" width="24.30" height="1" fill="rgb(124, 138, 199)"/>
<rect x="99.7" y="336" width="24.30" height="1" fill="rgb(124, 138, 199)"/>
<rect x="99.7" y="337" width="24.30" height="1" fill="rgb(170, 176, 219)"/>
<rect x="99.7" y="338" width="24.30" height="1" fill="rgb(170, 176, 219)"/>
<rect x="99.7" y="339" width="24.30" height="1" fill="rgb(192, 196, 228)"/>
<rect x="99.7" y="340" width="24.30" height="1" fill="rgb(253, 253, 254)"/>
<rect x="99.7" y="341" width="24.30" height="1" fill="rgb(187, 191, 226)"/>
<rect x="99.7" y="342" width="24.30" height="1" fill="rgb(187, 191, 226)"/>
<rect x="99.7" y="343" width="24.30" height="1" fill="rgb(187, 191, 226)"/>
<rect x="99.7" y="344" width="24.30" height="1" fill="rgb(255, 249, 242)"/>
<rect x="99.7" y="345" width="24.30" height="1" fill="rgb(255, 249, 242)"/>
<rect x="99.7" y="346" width="24.30" height="1" fill="rgb(255, 249, 242)"/>
<rect x="99.7" y="347" width="24.30" height="1" fill="rgb(228, 230, 244)"/>
<rect x="99.7" y="348" width="24.30" height="1" fill="rgb(244, 245, 250)"/>
<rect x="99.7" y="349" width="24.30" height="1" fill="rgb(255, 243, 228)"/>
<rect x="99.7" y="350" width="24.30" height="1" fill="rgb(255, 236, 215)"/>
<rect x="99.7" y="351" width="24.30" height="1" fill="rgb(255, 236, 215)"/>
<rect x="99.7" y="352" width="24.30" height="1" fill="rgb(255, 236, 215)"/>
<rect x="99.7" y="353" width="24.30" height="1" fill="rgb(255, 236, 215)"/>
<rect x="99.7" y="354" width="24.30" height="1" fill="rgb(255, 246, 235)"/>
<rect x="99.7" y="355" width="24.30" height="1" fill="rgb(241, 241, 249)"/>
<rect x="99.7" y="356" width="24.30" height="1" fill="rgb(255, 251, 246)"/>
<rect x="99.7" y="357" width="24.30" height="1" fill="rgb(222, 223, 241)"/>
<rect x="99.7" y="358" width="24.30" height="1" fill="rgb(222, 223, 241)"/>
<rect x="99.7" y="359" width="24.30" height="1" fill="rgb(222, 223, 241)"/>
<rect x="99.7" y="360" width="24.30" height="1" fill="rgb(222, 223, 241)"/>
<rect x="99.7" y="361" width="24.30" height="1" fill="rgb(250, 251, 253)"/>
<rect x="99.7" y="362" width="24.30" height="1" fill="rgb(232, 233, 245)"/>
<rect x="99.7" y="363" width="24.30" height="1" fill="rgb(240, 241, 249)"/>
<rect x="99.7" y="364" width="24.30" height="1" fill="rgb(255, 251, 246)"/>
<rect x="99.7" y="365" width="24.30" height="1" fill="rgb(255, 254, 253)"/>
<rect x="99.7" y="366" width="24.30" height="1" fill="rgb(255, 254, 253)"/>
<rect x="99.7" y="367" width="24.30" height="1" fill="rgb(255, 254, 253)"/>
<rect x="99.7" y="368" width="24.30" height="1" fill="rgb(255, 248, 240)"/>
<rect x="99.7" y="369" width="24.30" height="1" fill="rgb(209, 212, 236)"/>
<rect x="99.7" y="370" width="24.30" height="1" fill="rgb(228, 229, 244)"/>
<rect x="99.7" y="371" width="24.30" height="1" fill="rgb(200, 203, 232)"/>
<rect x="99.7" y="372" width="24.30" height="1" fill="rgb(198, 202, 231)"/>
<rect x="99.7" y="373" width="24.30" height="1" fill="rgb(248, 248, 252)"/>
<rect x="99.7" y="374" width="24.30" height="1" fill="rgb(200, 204, 232)"/>
<rect x="99.7" y="375" width="24.30" height="1" fill="rgb(221, 222, 240)"/>
<rect x="99.7" y="376" width="24.30" height="1" fill="rgb(221, 222, 240)"/>
<rect x="99.7" y="377" width="24.30" height="1" fill="rgb(221, 222, 240)"/>
<rect x="99.7" y="378" width="24.30" height="1" fill="rgb(255, 252, 248)"/>
<rect x="99.7" y="379" width="24.30" height="1" fill="rgb(255, 245, 233)"/>
<rect x="99.7" y="380" width="24.30" height="1" fill="rgb(136, 147, 204)"/>
<rect x="99.7" y="381" width="24.30" height="1" fill="rgb(136, 147, 204)"/>
<rect x="99.7" y="382" width="24.30" height="1" fill="rgb(136, 147, 204)"/>
<rect x="99.7" y="383" width="24.30" height="1" fill="rgb(132, 144, 203)"/>
<rect x="99.7" y="384" width="24.30" height="1" fill="rgb(132, 144, 203)"/>
<rect x="99.7" y="385" width="24.30" height="1" fill="rgb(174, 180, 221)"/>
<rect x="99.7" y="386" width="24.30" height="1" fill="rgb(174, 180, 221)"/>
<rect x="99.7" y="387" width="24.30" height="1" fill="rgb(174, 180, 221)"/>
<rect x="99.7" y="388" width="24.30" height="1" fill="rgb(174, 180, 221)"/>
<rect x="99.7" y="389" width="24.30" height="1" fill="rgb(243, 244, 250)"/>
<rect x="99.7" y="390" width="24.30" height="1" fill="rgb(243, 244, 250)"/>
<rect x="99.7" y="391" width="24.30" height="1" fill="rgb(245, 245, 251)"/>
<rect x="99.7" y="392" width="24.30" height="1" fill="rgb(245, 245, 251)"/>
<rect x="99.7" y="393" width="24.30" height="1" fill="rgb(245, 245, 251)"/>
<rect x="99.7" y="394" width="24.30" height="1" fill="rgb(245, 245, 251)"/>
<rect x="99.7" y="395" width="24.30" height="1" fill="rgb(226, 227, 243)"/>
<rect x="99.7" y="396" width="24.30" height="1" fill="rgb(227, 228, 243)"/>
<rect x="99.7" y="397" width="24.30" height="1" fill="rgb(227, 228, 243)"/>
<rect x="99.7" y="398" width="24.30" height="1" fill="rgb(255, 237, 216)"/>
<rect x="99.7" y="399" width="24.30" height="1" fill="rgb(255, 237, 216)"/>
<rect x="99.7" y="400" width="24.30" height="1" fill="rgb(255, 237, 216)"/>
<rect x="99.7" y="401" width="24.30" height="1" fill="rgb(255, 237, 216)"/>
<rect x="99.7" y="402" width="24.30" height="1" fill="rgb(255, 227, 195)"/>
<rect x="99.7" y="403" width="24.30" height="1" fill="rgb(255, 227, 195)"/>
<rect x="99.7" y="404" width="24.30" height="1" fill="rgb(255, 242, 228)"/>
<rect x="99.7" y="405" width="24.30" height="1" fill="rgb(255, 242, 228)"/>
<rect x="99.7" y="406" width="24.30" height="1" fill="rgb(255, 242, 228)"/>
<rect x="99.7" y="407" width="24.30" height="1" fill="rgb(255, 254, 254)"/>
<rect x="99.7" y="408" width="24.30" height="1" fill="rgb(255, 249, 243)"/>
<rect x="99.7" y="409" width="24.30" height="1" fill="rgb(255, 249, 243)"/>
<rect x="99.7" y="410" width="24.30" height="1" fill="rgb(255, 249, 243)"/>
<rect x="99.7" y="411" width="24.30" height="1" fill="rgb(255, 237, 217)"/>
<rect x="99.7" y="412" width="24.30" height="1" fill="rgb(255, 237, 217)"/>
<rect x="99.7" y="413" width="24.30" height="1" fill="rgb(255, 225, 191)"/>
<rect x="99.7" y="414" width="24.30" height="1" fill="rgb(255, 240, 223)"/>
<rect x="124" y="243" width="24.40" height="1" fill="rgb(189, 193, 227)"/>
<rect x="124" y="244" width="24.40" height="1" fill="rgb(189, 193, 227)"/>
<rect x="124" y="245" width="24.40" height="1" fill="rgb(236, 237, 247)"/>
<rect x="124" y="246" width="24.40" height="1" fill="rgb(236, 237, 247)"/>
<rect x="124" y="247" width="24.40" height="1" fill="rgb(255, 250, 244)"/>
<rect x="124" y="248" width="24.40" height="1" fill="rgb(255, 250, 244)"/>
<rect x="124" y="249" width="24.40" height="1" fill="rgb(255, 247, 238)"/>
<rect x="124" y="250" width="24.40" height="1" fill="rgb(255, 247, 238)"/>
<rect x="124" y="251" width="24.40" height="1" fill="rgb(255, 249, 243)"/>
<rect x="124" y="252" width="24.40" height="1" fill="rgb(255, 249, 243)"/>
<rect x="124" y="253" width="24.40" height="1" fill="rgb(136, 147, 204)"/>
<rect x="124" y="254" width="24.40" height="1" fill="rgb(136, 147, 204)"/>
<rect x="124" y="255" width="24.40" height="1" fill="rgb(175, 181, 221)"/>
<rect x="124" y="256" width="24.40" height="1" fill="rgb(153, 162, 212)"/>
<rect x="124" y="257" width="24.40" height="1" fill="rgb(234, 235, 246)"/>
<rect x="124" y="258" width="24.40" height="1" fill="rgb(253, 253, 254)"/>
<rect x="124" y="259" width="24.40" height="1" fill="rgb(253, 253, 254)"/>
<rect x="124" y="260" width="24.40" height="1" fill="rgb(223, 225, 242)"/>
<rect x="124" y="261" width="24.40" height="1" fill="rgb(142, 152, 207)"/>
<rect x="124" y="262" width="24.40" height="1" fill="rgb(136, 147, 204)"/>
<rect x="124" y="263" width="24.40" height="1" fill="rgb(136, 147, 204)"/>
<rect x="124" y="264" width="24.40" height="1" fill="rgb(136, 147, 204)"/>
<rect x="124" y="265" width="24.40" height="1" fill="rgb(165, 172, 217)"/>
<rect x="124" y="266" width="24.40" height="1" fill="rgb(165, 172, 217)"/>
<rect x="124" y="267" width="24.40" height="1" fill="rgb(165, 172, 217)"/>
<rect x="124" y="268" width="24.40" height="1" fill="rgb(165, 172, 217)"/>
<rect x="124" y="269" width="24.40" height="1" fill="rgb(210, 213, 236)"/>
<rect x="124" y="270" width="24.40" height="1" fill="rgb(189, 193, 227)"/>
<rect x="124" y="271" width="24.40" height="1" fill="rgb(189, 193, 227)"/>
<rect x="124" y="272" width="24.40" height="1" fill="rgb(20, 80, 168)"/>
<rect x="124" y="273" width="24.40" height="1" fill="rgb(20, 80, 168)"/>
<rect x="124" y="274" width="24.40" height="1" fill="rgb(42, 86, 172)"/>
<rect x="124" y="275" width="24.40" height="1" fill="rgb(42, 86, 172)"/>
<rect x="124" y="276" width="24.40" height="1" fill="rgb(42, 86, 172)"/>
<rect x="124" y="277" width="24.40" height="1" fill="rgb(255, 245, 233)"/>
<rect x="124" y="278" width="24.40" height="1" fill="rgb(246, 247, 251)"/>
<rect x="124" y="279" width="24.40" height="1" fill="rgb(255, 250, 243)"/>
<rect x="124" y="280" width="24.40" height="1" fill="rgb(255, 235, 212)"/>
<rect x="124" y="281" width="24.40" height="1" fill="rgb(255, 235, 212)"/>
<rect x="124" y="282" width="24.40" height="1" fill="rgb(255, 239, 220)"/>
<rect x="124" y="283" width="24.40" height="1" fill="rgb(255, 221, 182)"/>
<rect x="124" y="284" width="24.40" height="1" fill="rgb(255, 221, 182)"/>
<rect x="124" y="285" width="24.40" height="1" fill="rgb(255, 221, 182)"/>
<rect x="124" y="286" width="24.40" height="1" fill="rgb(255, 235, 212)"/>
<rect x="124" y="287" width="24.40" height="1" fill="rgb(205, 208, 234)"/>
<rect x="124" y="288" width="24.40" height="1" fill="rgb(241, 242, 249)"/>
<rect x="124" y="289" width="24.40" height="1" fill="rgb(241, 242, 249)"/>
<rect x="124" y="290" width="24.40" height="1" fill="rgb(241, 242, 249)"/>
<rect x="124" y="291" width="24.40" height="1" fill="rgb(241, 242, 249)"/>
<rect x="124" y="292" width="24.40" height="1" fill="rgb(198, 202, 231)"/>
<rect x="124" y="293" width="24.40" height="1" fill="rgb(198, 202, 231)"/>
<rect x="124" y="294" width="24.40" height="1" fill="rgb(198, 202, 231)"/>
<rect x="124" y="295" width="24.40" height="1" fill="rgb(190, 194, 227)"/>
<rect x="124" y="296" width="24.40" height="1" fill="rgb(201, 205, 232)"/>
<rect x="124" y="297" width="24.40" height="1" fill="rgb(201, 205, 232)"/>
<rect x="124" y="298" width="24.40" height="1" fill="rgb(201, 205, 232)"/>
<rect x="124" y="299" width="24.40" height="1" fill="rgb(201, 205, 232)"/>
<rect x="124" y="300" width="24.40" height="1" fill="rgb(255, 248, 240)"/>
<rect x="124" y="301" width="24.40" height="1" fill="rgb(255, 248, 240)"/>
<rect x="124" y="302" width="24.40" height="1" fill="rgb(255, 228, 197)"/>
<rect x="124" y="303" width="24.40" height="1" fill="rgb(255, 228, 197)"/>
<rect x="124" y="304" width="24.40" height="1" fill="rgb(255, 228, 197)"/>
<rect x="124" y="305" width="24.40" height="1" fill="rgb(255, 239, 219)"/>
<rect x="124" y="306" width="24.40" height="1" fill="rgb(232, 233, 245)"/>
<rect x="124" y="307" width="24.40" height="1" fill="rgb(232, 233, 245)"/>
<rect x="124" y="308" width="24.40" height="1" fill="rgb(229, 231, 244)"/>
<rect x="124" y="309" width="24.40" height="1" fill="rgb(243, 243, 250)"/>
<rect x="124" y="310" width="24.40" height="1" fill="rgb(255, 232, 206)"/>
<rect x="124" y="311" width="24.40" height="1" fill="rgb(255, 232, 206)"/>
<rect x="124" y="312" width="24.40" height="1" fill="rgb(255, 248, 240)"/>
<rect x="124" y="313" width="24.40" height="1" fill="rgb(255, 248, 240)"/>
<rect x="124" y="314" width="24.40" height="1" fill="rgb(215, 217, 238)"/>
<rect x="124" y="315" width="24.40" height="1" fill="rgb(215, 217, 238)"/>
<rect x="124" y="316" width="24.40" height="1" fill="rgb(239, 240, 248)"/>
<rect x="124" y="317" width="24.40" height="1" fill="rgb(239, 240, 248)"/>
<rect x="124" y="318" width="24.40" height="1" fill="rgb(255, 237, 217)"/>
<rect x="124" y="319" width="24.40" height="1" fill="rgb(255, 237, 217)"/>
<rect x="124" y="320" width="24.40" height="1" fill="rgb(255, 237, 217)"/>
<rect x="124" y="321" width="24.40" height="1" fill="rgb(252, 252, 254)"/>
<rect x="124" y="322" width="24.40" height="1" fill="rgb(212, 214, 237)"/>
<rect x="124" y="323" width="24.40" height="1" fill="rgb(190, 194, 227)"/>
<rect x="124" y="324" width="24.40" height="1" fill="rgb(187, 192, 226)"/>
<rect x="124" y="325" width="24.40" height="1" fill="rgb(187, 192, 226)"/>
<rect x="124" y="326" width="24.40" height="1" fill="rgb(255, 238, 218)"/>
<rect x="124" y="327" width="24.40" height="1" fill="rgb(255, 238, 218)"/>
<rect x="124" y="328" width="24.40" height="1" fill="rgb(255, 208, 154)"/>
<rect x="124" y="329" width="24.40" height="1" fill="rgb(255, 208, 154)"/>
<rect x="124" y="330" width="24.40" height="1" fill="rgb(255, 238, 218)"/>
<rect x="124" y="331" width="24.40" height="1" fill="rgb(255, 238, 218)"/>
<rect x="124" y="332" width="24.40" height="1" fill="rgb(255, 240, 222)"/>
<rect x="124" y="333" width="24.40" height="1" fill="rgb(255, 240, 222)"/>
<rect x="124" y="334" width="24.40" height="1" fill="rgb(255, 213, 165)"/>
<rect x="124" y="335" width="24.40" height="1" fill="rgb(214, 216, 237)"/>
<rect x="124" y="336" width="24.40" height="1" fill="rgb(214, 216, 237)"/>
<rect x="124" y="337" width="24.40" height="1" fill="rgb(214, 216, 237)"/>
<rect x="124" y="338" width="24.40" height="1" fill="rgb(214, 216, 237)"/>
<rect x="124" y="339" width="24.40" height="1" fill="rgb(255, 249, 242)"/>
<rect x="124" y="340" width="24.40" height="1" fill="rgb(255, 249, 242)"/>
<rect x="124" y="341" width="24.40" height="1" fill="rgb(255, 248, 239)"/>
<rect x="124" y="342" width="24.40" height="1" fill="rgb(249, 249, 252)"/>
<rect x="124" y="343" width="24.40" height="1" fill="rgb(200, 203, 232)"/>
<rect x="124" y="344" width="24.40" height="1" fill="rgb(200, 203, 232)"/>
<rect x="124" y="345" width="24.40" height="1" fill="rgb(230, 231, 244)"/>
<rect x="124" y="346" width="24.40" height="1" fill="rgb(211, 214, 236)"/>
<rect x="124" y="347" width="24.40" height="1" fill="rgb(191, 195, 228)"/>
<rect x="124" y="348" width="24.40" height="1" fill="rgb(191, 195, 228)"/>
<rect x="124" y="349" width="24.40" height="1" fill="rgb(191, 195, 228)"/>
<rect x="124" y="350" width="24.40" height="1" fill="rgb(164, 171, 216)"/>
<rect x="124" y="351" width="24.40" height="1" fill="rgb(180, 186, 223)"/>
<rect x="124" y="352" width="24.40" height="1" fill="rgb(180, 186, 223)"/>
<rect x="124" y="353" width="24.40" height="1" fill="rgb(180, 186, 223)"/>
<rect x="124" y="354" width="24.40" height="1" fill="rgb(109, 126, 194)"/>
<rect x="124" y="355" width="24.40" height="1" fill="rgb(139, 150, 206)"/>
<rect x="124" y="356" width="24.40" height="1" fill="rgb(139, 150, 206)"/>
<rect x="124" y="357" width="24.40" height="1" fill="rgb(166, 173, 217)"/>
<rect x="124" y="358" width="24.40" height="1" fill="rgb(166, 173, 217)"/>
<rect x="124" y="359" width="24.40" height="1" fill="rgb(166, 173, 217)"/>
<rect x="124" y="360" width="24.40" height="1" fill="rgb(166, 173, 217)"/>
<rect x="124" y="361" width="24.40" height="1" fill="rgb(98, 118, 189)"/>
<rect x="124" y="362" width="24.40" height="1" fill="rgb(131, 143, 202)"/>
<rect x="124" y="363" width="24.40" height="1" fill="rgb(86, 110, 185)"/>
<rect x="124" y="364" width="24.40" height="1" fill="rgb(86, 110, 185)"/>
<rect x="124" y="365" width="24.40" height="1" fill="rgb(86, 110, 185)"/>
<rect x="124" y="366" width="24.40" height="1" fill="rgb(86, 110, 185)"/>
<rect x="124" y="367" width="24.40" height="1" fill="rgb(159, 167, 214)"/>
<rect x="124" y="368" width="24.40" height="1" fill="rgb(228, 229, 243)"/>
<rect x="124" y="369" width="24.40" height="1" fill="rgb(184, 188, 225)"/>
<rect x="124" y="370" width="24.40" height="1" fill="rgb(184, 188, 225)"/>
<rect x="124" y="371" width="24.40" height="1" fill="rgb(184, 188, 225)"/>
<rect x="124" y="372" width="24.40" height="1" fill="rgb(184, 188, 225)"/>
<rect x="124" y="373" width="24.40" height="1" fill="rgb(169, 175, 218)"/>
<rect x="124" y="374" width="24.40" height="1" fill="rgb(238, 238, 248)"/>
<rect x="124" y="375" width="24.40" height="1" fill="rgb(246, 246, 251)"/>
<rect x="124" y="376" width="24.40" height="1" fill="rgb(246, 246, 251)"/>
<rect x="124" y="377" width="24.40" height="1" fill="rgb(255, 230, 201)"/>
<rect x="124" y="378" width="24.40" height="1" fill="rgb(255, 230, 201)"/>
<rect x="124" y="379" width="24.40" height="1" fill="rgb(255, 230, 201)"/>
<rect x="124" y="380" width="24.40" height="1" fill="rgb(255, 230, 201)"/>
<rect x="124" y="381" width="24.40" height="1" fill="rgb(208, 210, 235)"/>
<rect x="124" y="382" width="24.40" height="1" fill="rgb(208, 210, 235)"/>
<rect x="124" y="383" width="24.40" height="1" fill="rgb(209, 211, 235)"/>
<rect x="124" y="384" width="24.40" height="1" fill="rgb(255, 247, 238)"/>
<rect x="124" y="385" width="24.40" height="1" fill="rgb(244, 244, 250)"/>
<rect x="124" y="386" width="24.40" height="1" fill="rgb(244, 244, 250)"/>
<rect x="124" y="387" width="24.40" height="1" fill="rgb(244, 244, 250)"/>
<rect x="124" y="388" width="24.40" height="1" fill="rgb(244, 244, 250)"/>
<rect x="124" y="389" width="24.40" height="1" fill="rgb(233, 234, 246)"/>
<rect x="124" y="390" width="24.40" height="1" fill="rgb(233, 234, 246)"/>
<rect x="124" y="391" width="24.40" height="1" fill="rgb(233, 234, 246)"/>
<rect x="124" y="392" width="24.40" height="1" fill="rgb(233, 234, 246)"/>
<rect x="124" y="393" width="24.40" height="1" fill="rgb(192, 196, 228)"/>
<rect x="124" y="394" width="24.40" height="1" fill="rgb(217, 219, 239)"/>
<rect x="124" y="395" width="24.40" height="1" fill="rgb(217, 219, 239)"/>
<rect x="124" y="396" width="24.40" height="1" fill="rgb(168, 174, 218)"/>
<rect x="124" y="397" width="24.40" height="1" fill="rgb(168, 174, 218)"/>
<rect x="124" y="398" width="24.40" height="1" fill="rgb(199, 202, 231)"/>
<rect x="124" y="399" width="24.40" height="1" fill="rgb(200, 203, 232)"/>
<rect x="124" y="400" width="24.40" height="1" fill="rgb(255, 221, 181)"/>
<rect x="124" y="401" width="24.40" height="1" fill="rgb(255, 221, 181)"/>
<rect x="124" y="402" width="24.40" height="1" fill="rgb(255, 214, 168)"/>
<rect x="124" y="403" width="24.40" height="1" fill="rgb(255, 207, 152)"/>
<rect x="124" y="404" width="24.40" height="1" fill="rgb(255, 251, 247)"/>
<rect x="124" y="405" width="24.40" height="1" fill="rgb(255, 251, 247)"/>
<rect x="124" y="406" width="24.40" height="1" fill="rgb(255, 253, 250)"/>
<rect x="124" y="407" width="24.40" height="1" fill="rgb(255, 253, 250)"/>
<rect x="124" y="408" width="24.40" height="1" fill="rgb(255, 228, 197)"/>
<rect x="124" y="409" width="24.40" height="1" fill="rgb(255, 238, 219)"/>
<rect x="124" y="410" width="24.40" height="1" fill="rgb(255, 238, 219)"/>
<rect x="124" y="411" width="24.40" height="1" fill="rgb(255, 201, 138)"/>
<rect x="124" y="412" width="24.40" height="1" fill="rgb(255, 185, 103)"/>
<rect x="124" y="413" width="24.40" height="1" fill="rgb(255, 185, 103)"/>
<rect x="124" y="414" width="24.40" height="1" fill="rgb(255, 201, 138)"/>
<rect x="148.4" y="243" width="24.40" height="1" fill="rgb(255, 211, 160)"/>
<rect x="148.4" y="244" width="24.40" height="1" fill="rgb(255, 243, 230)"/>
<rect x="148.4" y="245" width="24.40" height="1" fill="rgb(255, 249, 242)"/>
<rect x="148.4" y="246" width="24.40" height="1" fill="rgb(255, 249, 242)"/>
<rect x="148.4" y="247" width="24.40" height="1" fill="rgb(255, 249, 242)"/>
<rect x="148.4" y="248" width="24.40" height="1" fill="rgb(255, 254, 252)"/>
<rect x="148.4" y="249" width="24.40" height="1" fill="rgb(255, 237, 216)"/>
<rect x="148.4" y="250" width="24.40" height="1" fill="rgb(222, 223, 241)"/>
<rect x="148.4" y="251" width="24.40" height="1" fill="rgb(223, 224, 241)"/>
<rect x="148.4" y="252" width="24.40" height="1" fill="rgb(192, 196, 228)"/>
<rect x="148.4" y="253" width="24.40" height="1" fill="rgb(192, 196, 228)"/>
<rect x="148.4" y="254" width="24.40" height="1" fill="rgb(192, 196, 228)"/>
<rect x="148.4" y="255" width="24.40" height="1" fill="rgb(151, 160, 211)"/>
<rect x="148.4" y="256" width="24.40" height="1" fill="rgb(170, 176, 219)"/>
<rect x="148.4" y="257" width="24.40" height="1" fill="rgb(173, 179, 220)"/>
<rect x="148.4" y="258" width="24.40" height="1" fill="rgb(173, 179, 220)"/>
<rect x="148.4" y="259" width="24.40" height="1" fill="rgb(255, 233, 208)"/>
<rect x="148.4" y="260" width="24.40" height="1" fill="rgb(255, 233, 208)"/>
<rect x="148.4" y="261" width="24.40" height="1" fill="rgb(255, 233, 208)"/>
<rect x="148.4" y="262" width="24.40" height="1" fill="rgb(245, 245, 251)"/>
<rect x="148.4" y="263" width="24.40" height="1" fill="rgb(245, 245, 251)"/>
<rect x="148.4" y="264" width="24.40" height="1" fill="rgb(245, 245, 251)"/>
<rect x="148.4" y="265" width="24.40" height="1" fill="rgb(196, 199, 230)"/>
<rect x="148.4" y="266" width="24.40" height="1" fill="rgb(196, 199, 230)"/>
<rect x="148.4" y="267" width="24.40" height="1" fill="rgb(196, 199, 230)"/>
<rect x="148.4" y="268" width="24.40" height="1" fill="rgb(196, 199, 230)"/>
<rect x="148.4" y="269" width="24.40" height="1" fill="rgb(250, 250, 253)"/>
<rect x="148.4" y="270" width="24.40" height="1" fill="rgb(250, 250, 253)"/>
<rect x="148.4" y="271" width="24.40" height="1" fill="rgb(239, 240, 248)"/>
<rect x="148.4" y="272" width="24.40" height="1" fill="rgb(220, 222, 240)"/>
<rect x="148.4" y="273" width="24.40" height="1" fill="rgb(255, 254, 252)"/>
<rect x="148.4" y="274" width="24.40" height="1" fill="rgb(255, 221, 181)"/>
<rect x="148.4" y="275" width="24.40" height="1" fill="rgb(255, 221, 181)"/>
<rect x="148.4" y="276" width="24.40" height="1" fill="rgb(255, 249, 243)"/>
<rect x="148.4" y="277" width="24.40" height="1" fill="rgb(246, 246, 251)"/>
<rect x="148.4" y="278" width="24.40" height="1" fill="rgb(241, 242, 249)"/>
<rect x="148.4" y="279" width="24.40" height="1" fill="rgb(241, 242, 249)"/>
<rect x="148.4" y="280" width="24.40" height="1" fill="rgb(181, 186, 223)"/>
<rect x="148.4" y="281" width="24.40" height="1" fill="rgb(231, 232, 245)"/>
<rect x="148.4" y="282" width="24.40" height="1" fill="rgb(252, 253, 254)"/>
<rect x="148.4" y="283" width="24.40" height="1" fill="rgb(252, 253, 254)"/>
<rect x="148.4" y="284" width="24.40" height="1" fill="rgb(194, 198, 229)"/>
<rect x="148.4" y="285" width="24.40" height="1" fill="rgb(194, 198, 229)"/>
<rect x="148.4" y="286" width="24.40" height="1" fill="rgb(194, 198, 229)"/>
<rect x="148.4" y="287" width="24.40" height="1" fill="rgb(222, 224, 241)"/>
<rect x="148.4" y="288" width="24.40" height="1" fill="rgb(242, 243, 250)"/>
<rect x="148.4" y="289" width="24.40" height="1" fill="rgb(207, 209, 234)"/>
<rect x="148.4" y="290" width="24.40" height="1" fill="rgb(255, 249, 242)"/>
<rect x="148.4" y="291" width="24.40" height="1" fill="rgb(255, 245, 233)"/>
<rect x="148.4" y="292" width="24.40" height="1" fill="rgb(255, 245, 233)"/>
<rect x="148.4" y="293" width="24.40" height="1" fill="rgb(237, 237, 247)"/>
<rect x="148.4" y="294" width="24.40" height="1" fill="rgb(233, 234, 246)"/>
<rect x="148.4" y="295" width="24.40" height="1" fill="rgb(233, 234, 246)"/>
<rect x="148.4" y="296" width="24.40" height="1" fill="rgb(203, 206, 233)"/>
<rect x="148.4" y="297" width="24.40" height="1" fill="rgb(203, 206, 233)"/>
<rect x="148.4" y="298" width="24.40" height="1" fill="rgb(203, 206, 233)"/>
<rect x="148.4" y="299" width="24.40" height="1" fill="rgb(255, 255, 255)"/>
<rect x="148.4" y="300" width="24.40" height="1" fill="rgb(255, 255, 255)"/>
<rect x="148.4" y="301" width="24.40" height="1" fill="rgb(201, 204, 232)"/>
<rect x="148.4" y="302" width="24.40" height="1" fill="rgb(166, 173, 217)"/>
<rect x="148.4" y="303" width="24.40" height="1" fill="rgb(166, 173, 217)"/>
<rect x="148.4" y="304" width="24.40" height="1" fill="rgb(207, 210, 235)"/>
<rect x="148.4" y="305" width="24.40" height="1" fill="rgb(247, 248, 252)"/>
<rect x="148.4" y="306" width="24.40" height="1" fill="rgb(247, 248, 252)"/>
<rect x="148.4" y="307" width="24.40" height="1" fill="rgb(247, 248, 252)"/>
<rect x="148.4" y="308" width="24.40" height="1" fill="rgb(253, 253, 254)"/>
<rect x="148.4" y="309" width="24.40" height="1" fill="rgb(229, 230, 244)"/>
<rect x="148.4" y="310" width="24.40" height="1" fill="rgb(229, 230, 244)"/>
<rect x="148.4" y="311" width="24.40" height="1" fill="rgb(229, 230, 244)"/>
<rect x="148.4" y="312" width="24.40" height="1" fill="rgb(229, 230, 244)"/>
<rect x="148.4" y="313" width="24.40" height="1" fill="rgb(255, 252, 249)"/>
<rect x="148.4" y="314" width="24.40" height="1" fill="rgb(212, 214, 237)"/>
<rect x="148.4" y="315" width="24.40" height="1" fill="rgb(212, 214, 237)"/>
<rect x="148.4" y="316" width="24.40" height="1" fill="rgb(172, 178, 219)"/>
<rect x="148.4" y="317" width="24.40" height="1" fill="rgb(172, 178, 219)"/>
<rect x="148.4" y="318" width="24.40" height="1" fill="rgb(206, 209, 234)"/>
<rect x="148.4" y="319" width="24.40" height="1" fill="rgb(249, 249, 252)"/>
<rect x="148.4" y="320" width="24.40" height="1" fill="rgb(249, 249, 252)"/>
<rect x="148.4" y="321" width="24.40" height="1" fill="rgb(197, 201, 230)"/>
<rect x="148.4" y="322" width="24.40" height="1" fill="rgb(197, 201, 230)"/>
<rect x="148.4" y="323" width="24.40" height="1" fill="rgb(255, 254, 254)"/>
<rect x="148.4" y="324" width="24.40" height="1" fill="rgb(255, 254, 254)"/>
<rect x="148.4" y="325" width="24.40" height="1" fill="rgb(255, 254, 254)"/>
<rect x="148.4" y="326" width="24.40" height="1" fill="rgb(197, 200, 230)"/>
<rect x="148.4" y="327" width="24.40" height="1" fill="rgb(197, 200, 230)"/>
<rect x="148.4" y="328" width="24.40" height="1" fill="rgb(197, 200, 230)"/>
<rect x="148.4" y="329" width="24.40" height="1" fill="rgb(199, 202, 231)"/>
<rect x="148.4" y="330" width="24.40" height="1" fill="rgb(233, 234, 246)"/>
<rect x="148.4" y="331" width="24.40" height="1" fill="rgb(255, 250, 245)"/>
<rect x="148.4" y="332" width="24.40" height="1" fill="rgb(255, 250, 245)"/>
<rect x="148.4" y="333" width="24.40" height="1" fill="rgb(196, 200, 230)"/>
<rect x="148.4" y="334" width="24.40" height="1" fill="rgb(196, 200, 230)"/>
<rect x="148.4" y="335" width="24.40" height="1" fill="rgb(236, 237, 247)"/>
<rect x="148.4" y="336" width="24.40" height="1" fill="rgb(255, 247, 239)"/>
<rect x="148.4" y="337" width="24.40" height="1" fill="rgb(255, 247, 239)"/>
<rect x="148.4" y="338" width="24.40" height="1" fill="rgb(255, 247, 239)"/>
<rect x="148.4" y="339" width="24.40" height="1" fill="rgb(251, 251, 253)"/>
<rect x="148.4" y="340" width="24.40" height="1" fill="rgb(251, 251, 253)"/>
<rect x="148.4" y="341" width="24.40" height="1" fill="rgb(236, 237, 247)"/>
<rect x="148.4" y="342" width="24.40" height="1" fill="rgb(236, 237, 247)"/>
<rect x="148.4" y="343" width="24.40" height="1" fill="rgb(255, 239, 221)"/>
<rect x="148.4" y="344" width="24.40" height="1" fill="rgb(255, 239, 221)"/>
<rect x="148.4" y="345" width="24.40" height="1" fill="rgb(255, 239, 221)"/>
<rect x="148.4" y="346" width="24.40" height="1" fill="rgb(255, 235, 212)"/>
<rect x="148.4" y="347" width="24.40" height="1" fill="rgb(255, 254, 253)"/>
<rect x="148.4" y="348" width="24.40" height="1" fill="rgb(249, 249, 252)"/>
<rect x="148.4" y="349" width="24.40" height="1" fill="rgb(249, 249, 252)"/>
<rect x="148.4" y="350" width="24.40" height="1" fill="rgb(249, 249, 252)"/>
<rect x="148.4" y="351" width="24.40" height="1" fill="rgb(214, 217, 238)"/>
<rect x="148.4" y="352" width="24.40" height="1" fill="rgb(214, 217, 238)"/>
<rect x="148.4" y="353" width="24.40" height="1" fill="rgb(214, 217, 238)"/>
<rect x="148.4" y="354" width="24.40" height="1" fill="rgb(214, 217, 238)"/>
<rect x="148.4" y="355" width="24.40" height="1" fill="rgb(247, 247, 251)"/>
<rect x="148.4" y="356" width="24.40" height="1" fill="rgb(247, 247, 251)"/>
<rect x="148.4" y="357" width="24.40" height="1" fill="rgb(209, 212, 236)"/>
<rect x="148.4" y="358" width="24.40" height="1" fill="rgb(255, 254, 254)"/>
<rect x="148.4" y="359" width="24.40" height="1" fill="rgb(255, 254, 254)"/>
<rect x="148.4" y="360" width="24.40" height="1" fill="rgb(231, 232, 245)"/>
<rect x="148.4" y="361" width="24.40" height="1" fill="rgb(231, 232, 245)"/>
<rect x="148.4" y="362" width="24.40" height="1" fill="rgb(218, 220, 239)"/>
<rect x="148.4" y="363" width="24.40" height="1" fill="rgb(255, 253, 252)"/>
<rect x="148.4" y="364" width="24.40" height="1" fill="rgb(255, 253, 252)"/>
<rect x="148.4" y="365" width="24.40" height="1" fill="rgb(242, 242, 249)"/>
<rect x="148.4" y="366" width="24.40" height="1" fill="rgb(242, 242, 249)"/>
<rect x="148.4" y="367" width="24.40" height="1" fill="rgb(205, 208, 234)"/>
<rect x="148.4" y="368" width="24.40" height="1" fill="rgb(205, 208, 234)"/>
<rect x="148.4" y="369" width="24.40" height="1" fill="rgb(205, 208, 234)"/>
<rect x="148.4" y="370" width="24.40" height="1" fill="rgb(214, 217, 238)"/>
<rect x="148.4" y="371" width="24.40" height="1" fill="rgb(214, 217, 238)"/>
<rect x="148.4" y="372" width="24.40" height="1" fill="rgb(177, 182, 222)"/>
<rect x="148.4" y="373" width="24.40" height="1" fill="rgb(222, 223, 241)"/>
<rect x="148.4" y="374" width="24.40" height="1" fill="rgb(222, 223, 241)"/>
<rect x="148.4" y="375" width="24.40" height="1" fill="rgb(245, 246, 251)"/>
<rect x="148.4" y="376" width="24.40" height="1" fill="rgb(240, 240, 248)"/>
<rect x="148.4" y="377" width="24.40" height="1" fill="rgb(132, 144, 203)"/>
<rect x="148.4" y="378" width="24.40" height="1" fill="rgb(124, 138, 199)"/>
<rect x="148.4" y="379" width="24.40" height="1" fill="rgb(124, 138, 199)"/>
<rect x="148.4" y="380" width="24.40" height="1" fill="rgb(107, 125, 193)"/>
<rect x="148.4" y="381" width="24.40" height="1" fill="rgb(116, 132, 196)"/>
<rect x="148.4" y="382" width="24.40" height="1" fill="rgb(121, 135, 198)"/>
<rect x="148.4" y="383" width="24.40" height="1" fill="rgb(55, 92, 175)"/>
<rect x="148.4" y="384" width="24.40" height="1" fill="rgb(55, 92, 175)"/>
<rect x="148.4" y="385" width="24.40" height="1" fill="rgb(54, 92, 175)"/>
<rect x="148.4" y="386" width="24.40" height="1" fill="rgb(20, 80, 168)"/>
<rect x="148.4" y="387" width="24.40" height="1" fill="rgb(20, 80, 168)"/>
<rect x="148.4" y="388" width="24.40" height="1" fill="rgb(20, 80, 168)"/>
<rect x="148.4" y="389" width="24.40" height="1" fill="rgb(161, 169, 215)"/>
<rect x="148.4" y="390" width="24.40" height="1" fill="rgb(161, 169, 215)"/>
<rect x="148.4" y="391" width="24.40" height="1" fill="rgb(143, 153, 207)"/>
<rect x="148.4" y="392" width="24.40" height="1" fill="rgb(120, 135, 198)"/>
<rect x="148.4" y="393" width="24.40" height="1" fill="rgb(120, 135, 198)"/>
<rect x="148.4" y="394" width="24.40" height="1" fill="rgb(161, 168, 215)"/>
<rect x="148.4" y="395" width="24.40" height="1" fill="rgb(123, 137, 199)"/>
<rect x="148.4" y="396" width="24.40" height="1" fill="rgb(123, 137, 199)"/>
<rect x="148.4" y="397" width="24.40" height="1" fill="rgb(104, 123, 192)"/>
<rect x="148.4" y="398" width="24.40" height="1" fill="rgb(154, 163, 212)"/>
<rect x="148.4" y="399" width="24.40" height="1" fill="rgb(255, 234, 210)"/>
<rect x="148.4" y="400" width="24.40" height="1" fill="rgb(255, 234, 210)"/>
<rect x="148.4" y="401" width="24.40" height="1" fill="rgb(255, 226, 192)"/>
<rect x="148.4" y="402" width="24.40" height="1" fill="rgb(255, 239, 221)"/>
<rect x="148.4" y="403" width="24.40" height="1" fill="rgb(255, 239, 221)"/>
<rect x="148.4" y="404" width="24.40" height="1" fill="rgb(255, 223, 186)"/>
<rect x="148.4" y="405" width="24.40" height="1" fill="rgb(255, 223, 186)"/>
<rect x="148.4" y="406" width="24.40" height="1" fill="rgb(255, 209, 157)"/>
<rect x="148.4" y="407" width="24.40" height="1" fill="rgb(255, 209, 157)"/>
<rect x="148.4" y="408" width="24.40" height="1" fill="rgb(255, 209, 157)"/>
<rect x="148.4" y="409" width="24.40" height="1" fill="rgb(255, 198, 132)"/>
<rect x="148.4" y="410" width="24.40" height="1" fill="rgb(243, 244, 250)"/>
<rect x="148.4" y="411" width="24.40" height="1" fill="rgb(255, 241, 224)"/>
<rect x="148.4" y="412" width="24.40" height="1" fill="rgb(255, 241, 224)"/>
<rect x="148.4" y="413" width="24.40" height="1" fill="rgb(255, 241, 224)"/>
<rect x="148.4" y="414" width="24.40" height="1" fill="rgb(255, 231, 204)"/>
<rect x="172.8" y="243" width="24.20" height="1" fill="rgb(117, 132, 197)"/>
<rect x="172.8" y="244" width="24.20" height="1" fill="rgb(142, 153, 207)"/>
<rect x="172.8" y="245" width="24.20" height="1" fill="rgb(123, 137, 199)"/>
<rect x="172.8" y="246" width="24.20" height="1" fill="rgb(123, 137, 199)"/>
<rect x="172.8" y="247" width="24.20" height="1" fill="rgb(123, 137, 199)"/>
<rect x="172.8" y="248" width="24.20" height="1" fill="rgb(137, 148, 205)"/>
<rect x="172.8" y="249" width="24.20" height="1" fill="rgb(198, 202, 231)"/>
<rect x="172.8" y="250" width="24.20" height="1" fill="rgb(186, 191, 226)"/>
<rect x="172.8" y="251" width="24.20" height="1" fill="rgb(255, 253, 251)"/>
<rect x="172.8" y="252" width="24.20" height="1" fill="rgb(255, 253, 251)"/>
<rect x="172.8" y="253" width="24.20" height="1" fill="rgb(255, 253, 251)"/>
<rect x="172.8" y="254" width="24.20" height="1" fill="rgb(255, 231, 203)"/>
<rect x="172.8" y="255" width="24.20" height="1" fill="rgb(255, 231, 203)"/>
<rect x="172.8" y="256" width="24.20" height="1" fill="rgb(255, 231, 203)"/>
<rect x="172.8" y="257" width="24.20" height="1" fill="rgb(255, 246, 236)"/>
<rect x="172.8" y="258" width="24.20" height="1" fill="rgb(199, 203, 231)"/>
<rect x="172.8" y="259" width="24.20" height="1" fill="rgb(199, 203, 231)"/>
<rect x="172.8" y="260" width="24.20" height="1" fill="rgb(125, 139, 200)"/>
<rect x="172.8" y="261" width="24.20" height="1" fill="rgb(123, 137, 199)"/>
<rect x="172.8" y="262" width="24.20" height="1" fill="rgb(108, 125, 193)"/>
<rect x="172.8" y="263" width="24.20" height="1" fill="rgb(108, 125, 193)"/>
<rect x="172.8" y="264" width="24.20" height="1" fill="rgb(75, 103, 181)"/>
<rect x="172.8" y="265" width="24.20" height="1" fill="rgb(75, 103, 181)"/>
<rect x="172.8" y="266" width="24.20" height="1" fill="rgb(75, 103, 181)"/>
<rect x="172.8" y="267" width="24.20" height="1" fill="rgb(94, 115, 188)"/>
<rect x="172.8" y="268" width="24.20" height="1" fill="rgb(94, 115, 188)"/>
<rect x="172.8" y="269" width="24.20" height="1" fill="rgb(33, 83, 170)"/>
<rect x="172.8" y="270" width="24.20" height="1" fill="rgb(48, 89, 173)"/>
<rect x="172.8" y="271" width="24.20" height="1" fill="rgb(48, 89, 173)"/>
<rect x="172.8" y="272" width="24.20" height="1" fill="rgb(217, 219, 239)"/>
<rect x="172.8" y="273" width="24.20" height="1" fill="rgb(201, 204, 232)"/>
<rect x="172.8" y="274" width="24.20" height="1" fill="rgb(201, 204, 232)"/>
<rect x="172.8" y="275" width="24.20" height="1" fill="rgb(201, 204, 232)"/>
<rect x="172.8" y="276" width="24.20" height="1" fill="rgb(255, 233, 208)"/>
<rect x="172.8" y="277" width="24.20" height="1" fill="rgb(255, 233, 208)"/>
<rect x="172.8" y="278" width="24.20" height="1" fill="rgb(255, 233, 208)"/>
<rect x="172.8" y="279" width="24.20" height="1" fill="rgb(255, 233, 208)"/>
<rect x="172.8" y="280" width="24.20" height="1" fill="rgb(197, 200, 230)"/>
<rect x="172.8" y="281" width="24.20" height="1" fill="rgb(193, 197, 229)"/>
<rect x="172.8" y="282" width="24.20" height="1" fill="rgb(193, 197, 229)"/>
<rect x="172.8" y="283" width="24.20" height="1" fill="rgb(193, 197, 229)"/>
<rect x="172.8" y="284" width="24.20" height="1" fill="rgb(234, 235, 246)"/>
<rect x="172.8" y="285" width="24.20" height="1" fill="rgb(255, 244, 232)"/>
<rect x="172.8" y="286" width="24.20" height="1" fill="rgb(255, 236, 213)"/>
<rect x="172.8" y="287" width="24.20" height="1" fill="rgb(255, 236, 213)"/>
<rect x="172.8" y="288" width="24.20" height="1" fill="rgb(255, 236, 213)"/>
<rect x="172.8" y="289" width="24.20" height="1" fill="rgb(255, 236, 213)"/>
<rect x="172.8" y="290" width="24.20" height="1" fill="rgb(239, 239, 248)"/>
<rect x="172.8" y="291" width="24.20" height="1" fill="rgb(239, 239, 248)"/>
<rect x="172.8" y="292" width="24.20" height="1" fill="rgb(231, 232, 245)"/>
<rect x="172.8" y="293" width="24.20" height="1" fill="rgb(231, 232, 245)"/>
<rect x="172.8" y="294" width="24.20" height="1" fill="rgb(231, 232, 245)"/>
<rect x="172.8" y="295" width="24.20" height="1" fill="rgb(231, 232, 245)"/>
<rect x="172.8" y="296" width="24.20" height="1" fill="rgb(215, 217, 238)"/>
<rect x="172.8" y="297" width="24.20" height="1" fill="rgb(231, 232, 245)"/>
<rect x="172.8" y="298" width="24.20" height="1" fill="rgb(231, 232, 245)"/>
<rect x="172.8" y="299" width="24.20" height="1" fill="rgb(231, 232, 245)"/>
<rect x="172.8" y="300" width="24.20" height="1" fill="rgb(199, 203, 231)"/>
<rect x="172.8" y="301" width="24.20" height="1" fill="rgb(199, 203, 231)"/>
<rect x="172.8" y="302" width="24.20" height="1" fill="rgb(199, 203, 231)"/>
<rect x="172.8" y="303" width="24.20" height="1" fill="rgb(190, 194, 227)"/>
<rect x="172.8" y="304" width="24.20" height="1" fill="rgb(190, 194, 227)"/>
<rect x="172.8" y="305" width="24.20" height="1" fill="rgb(161, 169, 215)"/>
<rect x="172.8" y="306" width="24.20" height="1" fill="rgb(173, 179, 220)"/>
<rect x="172.8" y="307" width="24.20" height="1" fill="rgb(188, 193, 227)"/>
<rect x="172.8" y="308" width="24.20" height="1" fill="rgb(188, 193, 227)"/>
<rect x="172.8" y="309" width="24.20" height="1" fill="rgb(188, 193, 227)"/>
<rect x="172.8" y="310" width="24.20" height="1" fill="rgb(208, 211, 235)"/>
<rect x="172.8" y="311" width="24.20" height="1" fill="rgb(169, 175, 218)"/>
<rect x="172.8" y="312" width="24.20" height="1" fill="rgb(169, 175, 218)"/>
<rect x="172.8" y="313" width="24.20" height="1" fill="rgb(197, 201, 230)"/>
<rect x="172.8" y="314" width="24.20" height="1" fill="rgb(249, 249, 253)"/>
<rect x="172.8" y="315" width="24.20" height="1" fill="rgb(249, 249, 253)"/>
<rect x="172.8" y="316" width="24.20" height="1" fill="rgb(249, 249, 253)"/>
<rect x="172.8" y="317" width="24.20" height="1" fill="rgb(255, 242, 227)"/>
<rect x="172.8" y="318" width="24.20" height="1" fill="rgb(233, 234, 245)"/>
<rect x="172.8" y="319" width="24.20" height="1" fill="rgb(233, 234, 245)"/>
<rect x="172.8" y="320" width="24.20" height="1" fill="rgb(180, 185, 223)"/>
<rect x="172.8" y="321" width="24.20" height="1" fill="rgb(163, 170, 216)"/>
<rect x="172.8" y="322" width="24.20" height="1" fill="rgb(163, 170, 216)"/>
<rect x="172.8" y="323" width="24.20" height="1" fill="rgb(226, 227, 243)"/>
<rect x="172.8" y="324" width="24.20" height="1" fill="rgb(226, 227, 243)"/>
<rect x="172.8" y="325" width="24.20" height="1" fill="rgb(226, 227, 243)"/>
<rect x="172.8" y="326" width="24.20" height="1" fill="rgb(165, 172, 217)"/>
<rect x="172.8" y="327" width="24.20" height="1" fill="rgb(151, 160, 211)"/>
<rect x="172.8" y="328" width="24.20" height="1" fill="rgb(151, 160, 211)"/>
<rect x="172.8" y="329" width="24.20" height="1" fill="rgb(151, 160, 211)"/>
<rect x="172.8" y="330" width="24.20" height="1" fill="rgb(151, 160, 211)"/>
<rect x="172.8" y="331" width="24.20" height="1" fill="rgb(203, 206, 233)"/>
<rect x="172.8" y="332" width="24.20" height="1" fill="rgb(203, 206, 233)"/>
<rect x="172.8" y="333" width="24.20" height="1" fill="rgb(200, 203, 231)"/>
<rect x="172.8" y="334" width="24.20" height="1" fill="rgb(247, 247, 251)"/>
<rect x="172.8" y="335" width="24.20" height="1" fill="rgb(247, 247, 251)"/>
<rect x="172.8" y="336" width="24.20" height="1" fill="rgb(189, 193, 227)"/>
<rect x="172.8" y="337" width="24.20" height="1" fill="rgb(189, 193, 227)"/>
<rect x="172.8" y="338" width="24.20" height="1" fill="rgb(189, 193, 227)"/>
<rect x="172.8" y="339" width="24.20" height="1" fill="rgb(189, 193, 227)"/>
<rect x="172.8" y="340" width="24.20" height="1" fill="rgb(155, 164, 213)"/>
<rect x="172.8" y="341" width="24.20" height="1" fill="rgb(155, 164, 213)"/>
<rect x="172.8" y="342" width="24.20" height="1" fill="rgb(146, 156, 209)"/>
<rect x="172.8" y="343" width="24.20" height="1" fill="rgb(139, 149, 206)"/>
<rect x="172.8" y="344" width="24.20" height="1" fill="rgb(139, 149, 206)"/>
<rect x="172.8" y="345" width="24.20" height="1" fill="rgb(139, 149, 206)"/>
<rect x="172.8" y="346" width="24.20" height="1" fill="rgb(164, 172, 216)"/>
<rect x="172.8" y="347" width="24.20" height="1" fill="rgb(164, 172, 216)"/>
<rect x="172.8" y="348" width="24.20" height="1" fill="rgb(164, 172, 216)"/>
<rect x="172.8" y="349" width="24.20" height="1" fill="rgb(164, 172, 216)"/>
<rect x="172.8" y="350" width="24.20" height="1" fill="rgb(125, 139, 200)"/>
<rect x="172.8" y="351" width="24.20" height="1" fill="rgb(125, 139, 200)"/>
<rect x="172.8" y="352" width="24.20" height="1" fill="rgb(125, 139, 200)"/>
<rect x="172.8" y="353" width="24.20" height="1" fill="rgb(125, 139, 200)"/>
<rect x="172.8" y="354" width="24.20" height="1" fill="rgb(127, 140, 201)"/>
<rect x="172.8" y="355" width="24.20" height="1" fill="rgb(222, 224, 241)"/>
<rect x="172.8" y="356" width="24.20" height="1" fill="rgb(222, 224, 241)"/>
<rect x="172.8" y="357" width="24.20" height="1" fill="rgb(222, 224, 241)"/>
<rect x="172.8" y="358" width="24.20" height="1" fill="rgb(199, 202, 231)"/>
<rect x="172.8" y="359" width="24.20" height="1" fill="rgb(181, 186, 224)"/>
<rect x="172.8" y="360" width="24.20" height="1" fill="rgb(181, 186, 224)"/>
<rect x="172.8" y="361" width="24.20" height="1" fill="rgb(190, 194, 227)"/>
<rect x="172.8" y="362" width="24.20" height="1" fill="rgb(218, 220, 239)"/>
<rect x="172.8" y="363" width="24.20" height="1" fill="rgb(215, 217, 238)"/>
<rect x="172.8" y="364" width="24.20" height="1" fill="rgb(248, 248, 252)"/>
<rect x="172.8" y="365" width="24.20" height="1" fill="rgb(248, 248, 252)"/>
<rect x="172.8" y="366" width="24.20" height="1" fill="rgb(248, 248, 252)"/>
<rect x="172.8" y="367" width="24.20" height="1" fill="rgb(248, 248, 252)"/>
<rect x="172.8" y="368" width="24.20" height="1" fill="rgb(248, 248, 252)"/>
<rect x="172.8" y="369" width="24.20" height="1" fill="rgb(218, 220, 239)"/>
<rect x="172.8" y="370" width="24.20" height="1" fill="rgb(218, 220, 239)"/>
<rect x="172.8" y="371" width="24.20" height="1" fill="rgb(211, 213, 236)"/>
<rect x="172.8" y="372" width="24.20" height="1" fill="rgb(211, 213, 236)"/>
<rect x="172.8" y="373" width="24.20" height="1" fill="rgb(211, 213, 236)"/>
<rect x="172.8" y="374" width="24.20" height="1" fill="rgb(249, 250, 253)"/>
<rect x="172.8" y="375" width="24.20" height="1" fill="rgb(249, 250, 253)"/>
<rect x="172.8" y="376" width="24.20" height="1" fill="rgb(249, 250, 253)"/>
<rect x="172.8" y="377" width="24.20" height="1" fill="rgb(249, 250, 253)"/>
<rect x="172.8" y="378" width="24.20" height="1" fill="rgb(228, 229, 243)"/>
<rect x="172.8" y="379" width="24.20" height="1" fill="rgb(234, 235, 246)"/>
<rect x="172.8" y="380" width="24.20" height="1" fill="rgb(234, 235, 246)"/>
<rect x="172.8" y="381" width="24.20" height="1" fill="rgb(243, 244, 250)"/>
<rect x="172.8" y="382" width="24.20" height="1" fill="rgb(243, 244, 250)"/>
<rect x="172.8" y="383" width="24.20" height="1" fill="rgb(243, 244, 250)"/>
<rect x="172.8" y="384" width="24.20" height="1" fill="rgb(182, 187, 224)"/>
<rect x="172.8" y="385" width="24.20" height="1" fill="rgb(182, 187, 224)"/>
<rect x="172.8" y="386" width="24.20" height="1" fill="rgb(218, 220, 239)"/>
<rect x="172.8" y="387" width="24.20" height="1" fill="rgb(154, 162, 212)"/>
<rect x="172.8" y="388" width="24.20" height="1" fill="rgb(174, 180, 220)"/>
<rect x="172.8" y="389" width="24.20" height="1" fill="rgb(170, 176, 219)"/>
<rect x="172.8" y="390" width="24.20" height="1" fill="rgb(170, 176, 219)"/>
<rect x="172.8" y="391" width="24.20" height="1" fill="rgb(170, 176, 219)"/>
<rect x="172.8" y="392" width="24.20" height="1" fill="rgb(169, 176, 219)"/>
<rect x="172.8" y="393" width="24.20" height="1" fill="rgb(169, 176, 219)"/>
<rect x="172.8" y="394" width="24.20" height="1" fill="rgb(115, 131, 196)"/>
<rect x="172.8" y="395" width="24.20" height="1" fill="rgb(108, 125, 193)"/>
<rect x="172.8" y="396" width="24.20" height="1" fill="rgb(112, 128, 195)"/>
<rect x="172.8" y="397" width="24.20" height="1" fill="rgb(112, 128, 195)"/>
<rect x="172.8" y="398" width="24.20" height="1" fill="rgb(163, 170, 216)"/>
<rect x="172.8" y="399" width="24.20" height="1" fill="rgb(163, 170, 216)"/>
<rect x="172.8" y="400" width="24.20" height="1" fill="rgb(255, 213, 164)"/>
<rect x="172.8" y="401" width="24.20" height="1" fill="rgb(255, 213, 164)"/>
<rect x="172.8" y="402" width="24.20" height="1" fill="rgb(255, 213, 164)"/>
<rect x="172.8" y="403" width="24.20" height="1" fill="rgb(255, 240, 222)"/>
<rect x="172.8" y="404" width="24.20" height="1" fill="rgb(249, 249, 252)"/>
<rect x="172.8" y="405" width="24.20" height="1" fill="rgb(249, 249, 252)"/>
<rect x="172.8" y="406" width="24.20" height="1" fill="rgb(249, 249, 252)"/>
<rect x="172.8" y="407" width="24.20" height="1" fill="rgb(249, 249, 252)"/>
<rect x="172.8" y="408" width="24.20" height="1" fill="rgb(255, 242, 226)"/>
<rect x="172.8" y="409" width="24.20" height="1" fill="rgb(255, 211, 160)"/>
<rect x="172.8" y="410" width="24.20" height="1" fill="rgb(255, 211, 160)"/>
<rect x="172.8" y="411" width="24.20" height="1" fill="rgb(255, 211, 160)"/>
<rect x="172.8" y="412" width="24.20" height="1" fill="rgb(255, 214, 168)"/>
<rect x="172.8" y="413" width="24.20" height="1" fill="rgb(255, 214, 168)"/>
<rect x="172.8" y="414" width="24.20" height="1" fill="rgb(255, 214, 168)"/>
<rect x="197" y="243" width="24.20" height="1" fill="rgb(40, 86, 171)"/>
<rect x="197" y="244" width="24.20" height="1" fill="rgb(57, 93, 176)"/>
<rect x="197" y="245" width="24.20" height="1" fill="rgb(39, 85, 171)"/>
<rect x="197" y="246" width="24.20" height="1" fill="rgb(39, 85, 171)"/>
<rect x="197" y="247" width="24.20" height="1" fill="rgb(20, 80, 168)"/>
<rect x="197" y="248" width="24.20" height="1" fill="rgb(20, 80, 168)"/>
<rect x="197" y="249" width="24.20" height="1" fill="rgb(20, 80, 168)"/>
<rect x="197" y="250" width="24.20" height="1" fill="rgb(20, 80, 168)"/>
<rect x="197" y="251" width="24.20" height="1" fill="rgb(20, 80, 168)"/>
<rect x="197" y="252" width="24.20" height="1" fill="rgb(20, 80, 168)"/>
<rect x="197" y="253" width="24.20" height="1" fill="rgb(35, 84, 170)"/>
<rect x="197" y="254" width="24.20" height="1" fill="rgb(26, 81, 169)"/>
<rect x="197" y="255" width="24.20" height="1" fill="rgb(26, 81, 169)"/>
<rect x="197" y="256" width="24.20" height="1" fill="rgb(26, 81, 169)"/>
<rect x="197" y="257" width="24.20" height="1" fill="rgb(63, 96, 177)"/>
<rect x="197" y="258" width="24.20" height="1" fill="rgb(20, 80, 168)"/>
<rect x="197" y="259" width="24.20" height="1" fill="rgb(255, 236, 213)"/>
<rect x="197" y="260" width="24.20" height="1" fill="rgb(255, 236, 213)"/>
<rect x="197" y="261" width="24.20" height="1" fill="rgb(96, 117, 189)"/>
<rect x="197" y="262" width="24.20" height="1" fill="rgb(65, 97, 178)"/>
<rect x="197" y="263" width="24.20" height="1" fill="rgb(65, 97, 178)"/>
<rect x="197" y="264" width="24.20" height="1" fill="rgb(120, 134, 198)"/>
<rect x="197" y="265" width="24.20" height="1" fill="rgb(120, 134, 198)"/>
<rect x="197" y="266" width="24.20" height="1" fill="rgb(77, 104, 182)"/>
<rect x="197" y="267" width="24.20" height="1" fill="rgb(99, 119, 190)"/>
<rect x="197" y="268" width="24.20" height="1" fill="rgb(99, 119, 190)"/>
<rect x="197" y="269" width="24.20" height="1" fill="rgb(151, 160, 211)"/>
<rect x="197" y="270" width="24.20" height="1" fill="rgb(151, 160, 211)"/>
<rect x="197" y="271" width="24.20" height="1" fill="rgb(99, 119, 190)"/>
<rect x="197" y="272" width="24.20" height="1" fill="rgb(174, 180, 221)"/>
<rect x="197" y="273" width="24.20" height="1" fill="rgb(174, 180, 221)"/>
<rect x="197" y="274" width="24.20" height="1" fill="rgb(106, 124, 193)"/>
<rect x="197" y="275" width="24.20" height="1" fill="rgb(106, 124, 193)"/>
<rect x="197" y="276" width="24.20" height="1" fill="rgb(106, 124, 193)"/>
<rect x="197" y="277" width="24.20" height="1" fill="rgb(106, 124, 193)"/>
<rect x="197" y="278" width="24.20" height="1" fill="rgb(123, 137, 199)"/>
<rect x="197" y="279" width="24.20" height="1" fill="rgb(123, 137, 199)"/>
<rect x="197" y="280" width="24.20" height="1" fill="rgb(255, 248, 241)"/>
<rect x="197" y="281" width="24.20" height="1" fill="rgb(255, 248, 241)"/>
<rect x="197" y="282" width="24.20" height="1" fill="rgb(251, 251, 253)"/>
<rect x="197" y="283" width="24.20" height="1" fill="rgb(251, 251, 253)"/>
<rect x="197" y="284" width="24.20" height="1" fill="rgb(190, 195, 227)"/>
<rect x="197" y="285" width="24.20" height="1" fill="rgb(190, 195, 227)"/>
<rect x="197" y="286" width="24.20" height="1" fill="rgb(181, 186, 223)"/>
<rect x="197" y="287" width="24.20" height="1" fill="rgb(167, 174, 217)"/>
<rect x="197" y="288" width="24.20" height="1" fill="rgb(187, 192, 226)"/>
<rect x="197" y="289" width="24.20" height="1" fill="rgb(196, 200, 230)"/>
<rect x="197" y="290" width="24.20" height="1" fill="rgb(172, 178, 220)"/>
<rect x="197" y="291" width="24.20" height="1" fill="rgb(176, 182, 221)"/>
<rect x="197" y="292" width="24.20" height="1" fill="rgb(160, 168, 214)"/>
<rect x="197" y="293" width="24.20" height="1" fill="rgb(160, 168, 214)"/>
<rect x="197" y="294" width="24.20" height="1" fill="rgb(160, 168, 214)"/>
<rect x="197" y="295" width="24.20" height="1" fill="rgb(160, 168, 214)"/>
<rect x="197" y="296" width="24.20" height="1" fill="rgb(232, 233, 245)"/>
<rect x="197" y="297" width="24.20" height="1" fill="rgb(232, 233, 245)"/>
<rect x="197" y="298" width="24.20" height="1" fill="rgb(193, 197, 228)"/>
<rect x="197" y="299" width="24.20" height="1" fill="rgb(193, 197, 228)"/>
<rect x="197" y="300" width="24.20" height="1" fill="rgb(193, 197, 228)"/>
<rect x="197" y="301" width="24.20" height="1" fill="rgb(218, 220, 239)"/>
<rect x="197" y="302" width="24.20" height="1" fill="rgb(243, 244, 250)"/>
<rect x="197" y="303" width="24.20" height="1" fill="rgb(243, 244, 250)"/>
<rect x="197" y="304" width="24.20" height="1" fill="rgb(182, 187, 224)"/>
<rect x="197" y="305" width="24.20" height="1" fill="rgb(193, 197, 229)"/>
<rect x="197" y="306" width="24.20" height="1" fill="rgb(193, 197, 229)"/>
<rect x="197" y="307" width="24.20" height="1" fill="rgb(183, 188, 224)"/>
<rect x="197" y="308" width="24.20" height="1" fill="rgb(212, 214, 237)"/>
<rect x="197" y="309" width="24.20" height="1" fill="rgb(184, 189, 225)"/>
<rect x="197" y="310" width="24.20" height="1" fill="rgb(219, 221, 240)"/>
<rect x="197" y="311" width="24.20" height="1" fill="rgb(219, 221, 240)"/>
<rect x="197" y="312" width="24.20" height="1" fill="rgb(219, 221, 240)"/>
<rect x="197" y="313" width="24.20" height="1" fill="rgb(252, 253, 254)"/>
<rect x="197" y="314" width="24.20" height="1" fill="rgb(252, 253, 254)"/>
<rect x="197" y="315" width="24.20" height="1" fill="rgb(187, 191, 226)"/>
<rect x="197" y="316" width="24.20" height="1" fill="rgb(198, 202, 231)"/>
<rect x="197" y="317" width="24.20" height="1" fill="rgb(183, 188, 225)"/>
<rect x="197" y="318" width="24.20" height="1" fill="rgb(112, 129, 195)"/>
<rect x="197" y="319" width="24.20" height="1" fill="rgb(119, 134, 197)"/>
<rect x="197" y="320" width="24.20" height="1" fill="rgb(119, 134, 197)"/>
<rect x="197" y="321" width="24.20" height="1" fill="rgb(119, 134, 197)"/>
<rect x="197" y="322" width="24.20" height="1" fill="rgb(223, 224, 241)"/>
<rect x="197" y="323" width="24.20" height="1" fill="rgb(223, 224, 241)"/>
<rect x="197" y="324" width="24.20" height="1" fill="rgb(212, 215, 237)"/>
<rect x="197" y="325" width="24.20" height="1" fill="rgb(212, 215, 237)"/>
<rect x="197" y="326" width="24.20" height="1" fill="rgb(212, 215, 237)"/>
<rect x="197" y="327" width="24.20" height="1" fill="rgb(212, 215, 237)"/>
<rect x="197" y="328" width="24.20" height="1" fill="rgb(179, 184, 222)"/>
<rect x="197" y="329" width="24.20" height="1" fill="rgb(237, 237, 247)"/>
<rect x="197" y="330" width="24.20" height="1" fill="rgb(216, 219, 239)"/>
<rect x="197" y="331" width="24.20" height="1" fill="rgb(189, 194, 227)"/>
<rect x="197" y="332" width="24.20" height="1" fill="rgb(91, 114, 187)"/>
<rect x="197" y="333" width="24.20" height="1" fill="rgb(91, 114, 187)"/>
<rect x="197" y="334" width="24.20" height="1" fill="rgb(136, 148, 205)"/>
<rect x="197" y="335" width="24.20" height="1" fill="rgb(136, 148, 205)"/>
<rect x="197" y="336" width="24.20" height="1" fill="rgb(136, 148, 205)"/>
<rect x="197" y="337" width="24.20" height="1" fill="rgb(111, 128, 194)"/>
<rect x="197" y="338" width="24.20" height="1" fill="rgb(111, 128, 194)"/>
<rect x="197" y="339" width="24.20" height="1" fill="rgb(111, 128, 194)"/>
<rect x="197" y="340" width="24.20" height="1" fill="rgb(111, 128, 194)"/>
<rect x="197" y="341" width="24.20" height="1" fill="rgb(106, 124, 192)"/>
<rect x="197" y="342" width="24.20" height="1" fill="rgb(106, 124, 192)"/>
<rect x="197" y="343" width="24.20" height="1" fill="rgb(106, 124, 192)"/>
<rect x="197" y="344" width="24.20" height="1" fill="rgb(106, 124, 192)"/>
<rect x="197" y="345" width="24.20" height="1" fill="rgb(44, 88, 172)"/>
<rect x="197" y="346" width="24.20" height="1" fill="rgb(89, 112, 186)"/>
<rect x="197" y="347" width="24.20" height="1" fill="rgb(89, 112, 186)"/>
<rect x="197" y="348" width="24.20" height="1" fill="rgb(89, 112, 186)"/>
<rect x="197" y="349" width="24.20" height="1" fill="rgb(89, 112, 186)"/>
<rect x="197" y="350" width="24.20" height="1" fill="rgb(134, 146, 204)"/>
<rect x="197" y="351" width="24.20" height="1" fill="rgb(134, 146, 204)"/>
<rect x="197" y="352" width="24.20" height="1" fill="rgb(43, 87, 172)"/>
<rect x="197" y="353" width="24.20" height="1" fill="rgb(43, 87, 172)"/>
<rect x="197" y="354" width="24.20" height="1" fill="rgb(132, 144, 203)"/>
<rect x="197" y="355" width="24.20" height="1" fill="rgb(191, 195, 228)"/>
<rect x="197" y="356" width="24.20" height="1" fill="rgb(200, 204, 232)"/>
<rect x="197" y="357" width="24.20" height="1" fill="rgb(246, 247, 251)"/>
<rect x="197" y="358" width="24.20" height="1" fill="rgb(198, 202, 231)"/>
<rect x="197" y="359" width="24.20" height="1" fill="rgb(188, 193, 227)"/>
<rect x="197" y="360" width="24.20" height="1" fill="rgb(232, 233, 245)"/>
<rect x="197" y="361" width="24.20" height="1" fill="rgb(232, 233, 245)"/>
<rect x="197" y="362" width="24.20" height="1" fill="rgb(255, 254, 253)"/>
<rect x="197" y="363" width="24.20" height="1" fill="rgb(255, 250, 244)"/>
<rect x="197" y="364" width="24.20" height="1" fill="rgb(209, 212, 235)"/>
<rect x="197" y="365" width="24.20" height="1" fill="rgb(209, 212, 235)"/>
<rect x="197" y="366" width="24.20" height="1" fill="rgb(233, 234, 246)"/>
<rect x="197" y="367" width="24.20" height="1" fill="rgb(233, 234, 246)"/>
<rect x="197" y="368" width="24.20" height="1" fill="rgb(233, 234, 246)"/>
<rect x="197" y="369" width="24.20" height="1" fill="rgb(144, 154, 208)"/>
<rect x="197" y="370" width="24.20" height="1" fill="rgb(185, 190, 225)"/>
<rect x="197" y="371" width="24.20" height="1" fill="rgb(185, 190, 225)"/>
<rect x="197" y="372" width="24.20" height="1" fill="rgb(166, 173, 217)"/>
<rect x="197" y="373" width="24.20" height="1" fill="rgb(181, 186, 223)"/>
<rect x="197" y="374" width="24.20" height="1" fill="rgb(181, 186, 223)"/>
<rect x="197" y="375" width="24.20" height="1" fill="rgb(181, 186, 223)"/>
<rect x="197" y="376" width="24.20" height="1" fill="rgb(20, 80, 168)"/>
<rect x="197" y="377" width="24.20" height="1" fill="rgb(28, 82, 169)"/>
<rect x="197" y="378" width="24.20" height="1" fill="rgb(141, 152, 207)"/>
<rect x="197" y="379" width="24.20" height="1" fill="rgb(130, 143, 202)"/>
<rect x="197" y="380" width="24.20" height="1" fill="rgb(168, 174, 218)"/>
<rect x="197" y="381" width="24.20" height="1" fill="rgb(91, 113, 187)"/>
<rect x="197" y="382" width="24.20" height="1" fill="rgb(91, 113, 187)"/>
<rect x="197" y="383" width="24.20" height="1" fill="rgb(91, 113, 187)"/>
<rect x="197" y="384" width="24.20" height="1" fill="rgb(159, 167, 214)"/>
<rect x="197" y="385" width="24.20" height="1" fill="rgb(113, 129, 195)"/>
<rect x="197" y="386" width="24.20" height="1" fill="rgb(122, 136, 199)"/>
<rect x="197" y="387" width="24.20" height="1" fill="rgb(122, 136, 199)"/>
<rect x="197" y="388" width="24.20" height="1" fill="rgb(122, 136, 199)"/>
<rect x="197" y="389" width="24.20" height="1" fill="rgb(225, 226, 242)"/>
<rect x="197" y="390" width="24.20" height="1" fill="rgb(207, 210, 235)"/>
<rect x="197" y="391" width="24.20" height="1" fill="rgb(255, 249, 242)"/>
<rect x="197" y="392" width="24.20" height="1" fill="rgb(255, 249, 242)"/>
<rect x="197" y="393" width="24.20" height="1" fill="rgb(255, 249, 242)"/>
<rect x="197" y="394" width="24.20" height="1" fill="rgb(240, 240, 248)"/>
<rect x="197" y="395" width="24.20" height="1" fill="rgb(240, 240, 248)"/>
<rect x="197" y="396" width="24.20" height="1" fill="rgb(240, 240, 248)"/>
<rect x="197" y="397" width="24.20" height="1" fill="rgb(240, 240, 248)"/>
<rect x="197" y="398" width="24.20" height="1" fill="rgb(204, 207, 233)"/>
<rect x="197" y="399" width="24.20" height="1" fill="rgb(255, 198, 133)"/>
<rect x="197" y="400" width="24.20" height="1" fill="rgb(255, 186, 107)"/>
<rect x="197" y="401" width="24.20" height="1" fill="rgb(255, 186, 107)"/>
<rect x="197" y="402" width="24.20" height="1" fill="rgb(255, 238, 219)"/>
<rect x="197" y="403" width="24.20" height="1" fill="rgb(255, 238, 219)"/>
<rect x="197" y="404" width="24.20" height="1" fill="rgb(255, 239, 221)"/>
<rect x="197" y="405" width="24.20" height="1" fill="rgb(255, 239, 221)"/>
<rect x="197" y="406" width="24.20" height="1" fill="rgb(255, 232, 205)"/>
<rect x="197" y="407" width="24.20" height="1" fill="rgb(255, 232, 205)"/>
<rect x="197" y="408" width="24.20" height="1" fill="rgb(255, 215, 168)"/>
<rect x="197" y="409" width="24.20" height="1" fill="rgb(255, 215, 168)"/>
<rect x="197" y="410" width="24.20" height="1" fill="rgb(255, 215, 168)"/>
<rect x="197" y="411" width="24.20" height="1" fill="rgb(255, 244, 231)"/>
<rect x="197" y="412" width="24.20" height="1" fill="rgb(255, 254, 254)"/>
<rect x="197" y="413" width="24.20" height="1" fill="rgb(255, 254, 254)"/>
<rect x="197" y="414" width="24.20" height="1" fill="rgb(255, 254, 254)"/>
</g>
<defs><linearGradient id="gci" x1="0" y1="0" x2="0" y2="1"><stop offset="0.00" stop-color="rgb(115, 185, 115)"/><stop offset="0.05" stop-color="rgb(130, 192, 128)"/><stop offset="0.10" stop-color="rgb(144, 199, 142)"/><stop offset="0.15" stop-color="rgb(158, 206, 156)"/><stop offset="0.20" stop-color="rgb(172, 213, 170)"/><stop offset="0.25" stop-color="rgb(186, 220, 183)"/><stop offset="0.30" stop-color="rgb(200, 227, 198)"/><stop offset="0.35" stop-color="rgb(214, 234, 212)"/><stop offset="0.40" stop-color="rgb(227, 241, 226)"/><stop offset="0.45" stop-color="rgb(241, 248, 240)"/><stop offset="0.50" stop-color="rgb(255, 255, 255)"/><stop offset="0.55" stop-color="rgb(246, 241, 249)"/><stop offset="0.60" stop-color="rgb(237, 227, 242)"/><stop offset="0.65" stop-color="rgb(228, 213, 236)"/><stop offset="0.70" stop-color="rgb(220, 200, 229)"/><stop offset="0.75" stop-color="rgb(211, 186, 223)"/><stop offset="0.80" stop-color="rgb(202, 173, 216)"/><stop offset="0.85" stop-color="rgb(192, 159, 210)"/><stop offset="0.90" stop-color="rgb(183, 146, 203)"/><stop offset="0.95" stop-color="rgb(174, 133, 197)"/><stop offset="1.00" stop-color="rgb(165, 120, 190)"/></linearGradient><linearGradient id="ges" x1="0" y1="0" x2="0" y2="1"><stop offset="0.00" stop-color="rgb(253, 152, 0)"/><stop offset="0.05" stop-color="rgb(255, 162, 47)"/><stop offset="0.10" stop-color="rgb(255, 172, 74)"/><stop offset="0.15" stop-color="rgb(255, 182, 98)"/><stop offset="0.20" stop-color="rgb(255, 193, 120)"/><stop offset="0.25" stop-color="rgb(255, 203, 143)"/><stop offset="0.30" stop-color="rgb(255, 213, 165)"/><stop offset="0.35" stop-color="rgb(255, 223, 187)"/><stop offset="0.40" stop-color="rgb(255, 234, 210)"/><stop offset="0.45" stop-color="rgb(255, 244, 232)"/><stop offset="0.50" stop-color="rgb(255, 255, 255)"/><stop offset="0.55" stop-color="rgb(235, 236, 246)"/><stop offset="0.60" stop-color="rgb(215, 217, 238)"/><stop offset="0.65" stop-color="rgb(195, 198, 229)"/><stop offset="0.70" stop-color="rgb(174, 180, 221)"/><stop offset="0.75" stop-color="rgb(154, 162, 212)"/><stop offset="0.80" stop-color="rgb(133, 145, 203)"/><stop offset="0.85" stop-color="rgb(111, 128, 194)"/><stop offset="0.90" stop-color="rgb(88, 111, 186)"/><stop offset="0.95" stop-color="rgb(61, 95, 177)"/><stop offset="1.00" stop-color="rgb(20, 80, 168)"/></linearGradient></defs>
<text x="22.5" y="278" font-size="7" text-anchor="start" font-weight="bold" fill="#000" >CI</text>
<rect x="22.3" y="281.6" width="9" height="43" fill="url(#gci)"/>
<line x1="22.3" y1="283.60" x2="23.8" y2="283.60" stroke="#fff" stroke-width="0.6"/><line x1="29.8" y1="283.60" x2="31.3" y2="283.60" stroke="#fff" stroke-width="0.6"/>
<text x="32.8" y="285.90" font-size="6.5" text-anchor="start" font-weight="normal" fill="#000" >2</text>
<line x1="22.3" y1="293.63" x2="23.8" y2="293.63" stroke="#fff" stroke-width="0.6"/><line x1="29.8" y1="293.63" x2="31.3" y2="293.63" stroke="#fff" stroke-width="0.6"/>
<text x="32.8" y="295.93" font-size="6.5" text-anchor="start" font-weight="normal" fill="#000" >1</text>
<line x1="22.3" y1="303.66" x2="23.8" y2="303.66" stroke="#fff" stroke-width="0.6"/><line x1="29.8" y1="303.66" x2="31.3" y2="303.66" stroke="#fff" stroke-width="0.6"/>
<text x="32.8" y="305.96" font-size="6.5" text-anchor="start" font-weight="normal" fill="#000" >0</text>
<line x1="22.3" y1="313.69" x2="23.8" y2="313.69" stroke="#fff" stroke-width="0.6"/><line x1="29.8" y1="313.69" x2="31.3" y2="313.69" stroke="#fff" stroke-width="0.6"/>
<text x="32.8" y="315.99" font-size="6.5" text-anchor="start" font-weight="normal" fill="#000" >−1</text>
<line x1="22.3" y1="323.72" x2="23.8" y2="323.72" stroke="#fff" stroke-width="0.6"/><line x1="29.8" y1="323.72" x2="31.3" y2="323.72" stroke="#fff" stroke-width="0.6"/>
<text x="32.8" y="326.02" font-size="6.5" text-anchor="start" font-weight="normal" fill="#000" >−2</text>
<text x="22.5" y="338.2" font-size="7" text-anchor="start" font-weight="bold" fill="#000" >ES</text>
<rect x="22.3" y="341.9" width="9" height="42.3" fill="url(#ges)"/>
<line x1="22.3" y1="343.80" x2="23.8" y2="343.80" stroke="#fff" stroke-width="0.6"/><line x1="29.8" y1="343.80" x2="31.3" y2="343.80" stroke="#fff" stroke-width="0.6"/>
<text x="32.8" y="346.10" font-size="6.5" text-anchor="start" font-weight="normal" fill="#000" >0.5</text>
<line x1="22.3" y1="363.55" x2="23.8" y2="363.55" stroke="#fff" stroke-width="0.6"/><line x1="29.8" y1="363.55" x2="31.3" y2="363.55" stroke="#fff" stroke-width="0.6"/>
<text x="32.8" y="365.85" font-size="6.5" text-anchor="start" font-weight="normal" fill="#000" >0</text>
<line x1="22.3" y1="383.30" x2="23.8" y2="383.30" stroke="#fff" stroke-width="0.6"/><line x1="29.8" y1="383.30" x2="31.3" y2="383.30" stroke="#fff" stroke-width="0.6"/>
<text x="32.8" y="385.60" font-size="6.5" text-anchor="start" font-weight="normal" fill="#000" >−0.5</text>
<line x1="422.5" y1="18.8" x2="422.5" y2="369.5" stroke="#222" stroke-width="1" stroke-dasharray="4.3 2.5"/>
<line x1="564.5" y1="18.8" x2="564.5" y2="369.5" stroke="#222" stroke-width="1" stroke-dasharray="4.3 2.5"/>
<line x1="301.5" y1="275.5" x2="685" y2="275.5" stroke="#222" stroke-width="1" stroke-dasharray="4.3 2.5"/>
<line x1="301.5" y1="19" x2="301.5" y2="370.0" stroke="#000" stroke-width="1.1"/>
<line x1="301.0" y1="369.5" x2="685" y2="369.5" stroke="#000" stroke-width="1.1"/>
<line x1="297.0" y1="353.90" x2="301.5" y2="353.90" stroke="#000" stroke-width="1.1"/>
<text x="292.3" y="359.00" font-size="14.2" text-anchor="end" font-weight="normal" fill="#4d4d4d" >0.0</text>
<line x1="297.0" y1="277.92" x2="301.5" y2="277.92" stroke="#000" stroke-width="1.1"/>
<text x="292.3" y="283.02" font-size="14.2" text-anchor="end" font-weight="normal" fill="#4d4d4d" >2.5</text>
<line x1="297.0" y1="201.95" x2="301.5" y2="201.95" stroke="#000" stroke-width="1.1"/>
<text x="292.3" y="207.05" font-size="14.2" text-anchor="end" font-weight="normal" fill="#4d4d4d" >5.0</text>
<line x1="297.0" y1="125.97" x2="301.5" y2="125.97" stroke="#000" stroke-width="1.1"/>
<text x="292.3" y="131.07" font-size="14.2" text-anchor="end" font-weight="normal" fill="#4d4d4d" >7.5</text>
<line x1="297.0" y1="50.00" x2="301.5" y2="50.00" stroke="#000" stroke-width="1.1"/>
<text x="292.3" y="55.10" font-size="14.2" text-anchor="end" font-weight="normal" fill="#4d4d4d" >10.0</text>
<line x1="351.30" y1="369.5" x2="351.30" y2="374.0" stroke="#000" stroke-width="1.1"/>
<text x="351.30" y="389.3" font-size="14.2" text-anchor="middle" font-weight="normal" fill="#4d4d4d" >−2</text>
<line x1="422.40" y1="369.5" x2="422.40" y2="374.0" stroke="#000" stroke-width="1.1"/>
<text x="422.40" y="389.3" font-size="14.2" text-anchor="middle" font-weight="normal" fill="#4d4d4d" >−1</text>
<line x1="493.50" y1="369.5" x2="493.50" y2="374.0" stroke="#000" stroke-width="1.1"/>
<text x="493.50" y="389.3" font-size="14.2" text-anchor="middle" font-weight="normal" fill="#4d4d4d" >0</text>
<line x1="564.60" y1="369.5" x2="564.60" y2="374.0" stroke="#000" stroke-width="1.1"/>
<text x="564.60" y="389.3" font-size="14.2" text-anchor="middle" font-weight="normal" fill="#4d4d4d" >1</text>
<line x1="635.70" y1="369.5" x2="635.70" y2="374.0" stroke="#000" stroke-width="1.1"/>
<text x="635.70" y="389.3" font-size="14.2" text-anchor="middle" font-weight="normal" fill="#4d4d4d" >2</text>
<text x="493.4" y="407.8" font-size="14.3" text-anchor="middle" font-weight="normal" fill="#000" >Distance correlation</text>
<text transform="translate(253.5,222.2) rotate(-90)" font-size="14.6" fill="#000">−Log<tspan font-size="10" dy="3">10</tspan><tspan dy="-3" font-style="italic"> P</tspan></text>
<g fill="#474747" fill-opacity="0.55">
<circle cx="438.3" cy="310.0" r="2"/>
<circle cx="434.7" cy="324.5" r="2"/>
<circle cx="434.6" cy="291.2" r="2"/>
<circle cx="458.4" cy="346.6" r="2"/>
<circle cx="437.2" cy="349.8" r="2"/>
<circle cx="451.9" cy="344.7" r="2"/>
<circle cx="438.5" cy="329.1" r="2"/>
<circle cx="449.1" cy="326.3" r="2"/>
<circle cx="443.5" cy="330.0" r="2"/>
<circle cx="442.4" cy="343.7" r="2"/>
<circle cx="433.9" cy="302.4" r="2"/>
<circle cx="434.4" cy="322.3" r="2"/>
<circle cx="435.7" cy="328.7" r="2"/>
<circle cx="438.5" cy="296.0" r="2"/>
<circle cx="436.2" cy="301.5" r="2"/>
<circle cx="435.6" cy="316.1" r="2"/>
<circle cx="439.4" cy="327.0" r="2"/>
<circle cx="439.3" cy="318.0" r="2"/>
<circle cx="435.0" cy="280.6" r="2"/>
<circle cx="439.4" cy="327.8" r="2"/>
<circle cx="442.7" cy="343.4" r="2"/>
<circle cx="434.6" cy="305.4" r="2"/>
<circle cx="440.6" cy="304.2" r="2"/>
<circle cx="445.7" cy="313.9" r="2"/>
<circle cx="438.2" cy="336.1" r="2"/>
<circle cx="440.9" cy="333.2" r="2"/>
<circle cx="447.6" cy="340.5" r="2"/>
<circle cx="432.5" cy="282.2" r="2"/>
<circle cx="440.4" cy="297.7" r="2"/>
<circle cx="437.9" cy="296.7" r="2"/>
<circle cx="448.6" cy="344.6" r="2"/>
<circle cx="438.0" cy="319.7" r="2"/>
<circle cx="453.6" cy="338.0" r="2"/>
<circle cx="436.5" cy="347.3" r="2"/>
<circle cx="431.7" cy="285.2" r="2"/>
<circle cx="434.0" cy="307.7" r="2"/>
<circle cx="434.2" cy="301.7" r="2"/>
<circle cx="434.3" cy="294.9" r="2"/>
<circle cx="450.0" cy="330.0" r="2"/>
<circle cx="441.1" cy="350.3" r="2"/>
<circle cx="442.9" cy="299.3" r="2"/>
<circle cx="439.0" cy="334.8" r="2"/>
<circle cx="443.9" cy="300.1" r="2"/>
<circle cx="438.8" cy="315.4" r="2"/>
<circle cx="436.4" cy="311.0" r="2"/>
<circle cx="441.9" cy="334.9" r="2"/>
<circle cx="448.8" cy="326.5" r="2"/>
<circle cx="439.5" cy="316.6" r="2"/>
<circle cx="465.5" cy="346.6" r="2"/>
<circle cx="449.0" cy="348.6" r="2"/>
<circle cx="436.6" cy="346.0" r="2"/>
<circle cx="449.8" cy="334.1" r="2"/>
<circle cx="441.8" cy="321.4" r="2"/>
<circle cx="436.1" cy="313.9" r="2"/>
<circle cx="445.9" cy="306.3" r="2"/>
<circle cx="456.7" cy="332.0" r="2"/>
<circle cx="434.3" cy="314.7" r="2"/>
<circle cx="450.3" cy="348.1" r="2"/>
<circle cx="463.0" cy="344.3" r="2"/>
<circle cx="436.5" cy="336.6" r="2"/>
<circle cx="439.7" cy="309.0" r="2"/>
<circle cx="442.5" cy="296.2" r="2"/>
<circle cx="443.3" cy="318.9" r="2"/>
<circle cx="439.2" cy="288.8" r="2"/>
<circle cx="453.6" cy="332.3" r="2"/>
<circle cx="454.9" cy="348.2" r="2"/>
<circle cx="458.3" cy="344.1" r="2"/>
<circle cx="441.6" cy="312.6" r="2"/>
<circle cx="436.0" cy="315.2" r="2"/>
<circle cx="449.8" cy="323.4" r="2"/>
<circle cx="438.6" cy="303.1" r="2"/>
<circle cx="461.8" cy="348.8" r="2"/>
<circle cx="438.7" cy="330.2" r="2"/>
<circle cx="445.0" cy="303.0" r="2"/>
<circle cx="435.1" cy="296.0" r="2"/>
<circle cx="435.8" cy="310.1" r="2"/>
<circle cx="440.9" cy="332.5" r="2"/>
<circle cx="445.8" cy="316.6" r="2"/>
<circle cx="451.9" cy="335.6" r="2"/>
<circle cx="439.1" cy="302.3" r="2"/>
<circle cx="440.5" cy="296.3" r="2"/>
<circle cx="441.3" cy="341.1" r="2"/>
<circle cx="438.5" cy="343.6" r="2"/>
<circle cx="435.2" cy="347.1" r="2"/>
<circle cx="453.5" cy="336.7" r="2"/>
<circle cx="438.3" cy="332.0" r="2"/>
<circle cx="433.4" cy="282.8" r="2"/>
<circle cx="443.9" cy="313.0" r="2"/>
<circle cx="454.7" cy="350.0" r="2"/>
<circle cx="438.2" cy="313.9" r="2"/>
<circle cx="438.7" cy="335.2" r="2"/>
<circle cx="451.2" cy="349.7" r="2"/>
<circle cx="459.5" cy="343.6" r="2"/>
<circle cx="444.5" cy="312.9" r="2"/>
<circle cx="441.1" cy="317.5" r="2"/>
<circle cx="445.8" cy="341.0" r="2"/>
<circle cx="463.0" cy="343.1" r="2"/>
<circle cx="432.8" cy="284.1" r="2"/>
<circle cx="437.3" cy="312.7" r="2"/>
<circle cx="437.7" cy="311.1" r="2"/>
<circle cx="455.1" cy="344.8" r="2"/>
<circle cx="445.4" cy="325.8" r="2"/>
<circle cx="442.2" cy="296.9" r="2"/>
<circle cx="442.7" cy="349.9" r="2"/>
<circle cx="440.7" cy="346.5" r="2"/>
<circle cx="437.2" cy="294.6" r="2"/>
<circle cx="460.6" cy="345.7" r="2"/>
<circle cx="433.9" cy="285.5" r="2"/>
<circle cx="448.0" cy="312.3" r="2"/>
<circle cx="454.8" cy="339.5" r="2"/>
<circle cx="439.0" cy="345.5" r="2"/>
<circle cx="451.9" cy="338.7" r="2"/>
<circle cx="449.0" cy="327.5" r="2"/>
<circle cx="435.5" cy="286.3" r="2"/>
<circle cx="445.2" cy="326.8" r="2"/>
<circle cx="441.7" cy="315.8" r="2"/>
<circle cx="455.6" cy="340.6" r="2"/>
<circle cx="452.4" cy="343.4" r="2"/>
<circle cx="434.4" cy="299.4" r="2"/>
<circle cx="445.7" cy="312.2" r="2"/>
<circle cx="439.3" cy="321.5" r="2"/>
<circle cx="447.8" cy="327.8" r="2"/>
<circle cx="443.9" cy="307.6" r="2"/>
<circle cx="447.9" cy="319.7" r="2"/>
<circle cx="434.8" cy="287.3" r="2"/>
<circle cx="461.6" cy="343.1" r="2"/>
<circle cx="439.4" cy="300.3" r="2"/>
<circle cx="442.2" cy="337.1" r="2"/>
<circle cx="445.5" cy="339.3" r="2"/>
<circle cx="443.5" cy="317.6" r="2"/>
<circle cx="440.8" cy="320.3" r="2"/>
<circle cx="445.4" cy="320.1" r="2"/>
<circle cx="446.6" cy="318.4" r="2"/>
<circle cx="438.7" cy="306.6" r="2"/>
<circle cx="438.0" cy="294.3" r="2"/>
<circle cx="462.8" cy="344.3" r="2"/>
<circle cx="434.3" cy="302.1" r="2"/>
<circle cx="436.7" cy="295.1" r="2"/>
<circle cx="439.7" cy="293.9" r="2"/>
<circle cx="446.6" cy="322.0" r="2"/>
<circle cx="447.6" cy="336.8" r="2"/>
<circle cx="445.8" cy="335.0" r="2"/>
<circle cx="439.1" cy="315.8" r="2"/>
<circle cx="435.5" cy="301.2" r="2"/>
<circle cx="438.3" cy="331.0" r="2"/>
<circle cx="440.3" cy="296.9" r="2"/>
<circle cx="454.5" cy="330.5" r="2"/>
<circle cx="438.3" cy="326.1" r="2"/>
<circle cx="437.8" cy="294.4" r="2"/>
<circle cx="443.3" cy="307.6" r="2"/>
<circle cx="450.1" cy="330.7" r="2"/>
<circle cx="433.0" cy="283.1" r="2"/>
<circle cx="437.2" cy="335.9" r="2"/>
<circle cx="443.7" cy="327.7" r="2"/>
<circle cx="441.5" cy="308.5" r="2"/>
<circle cx="437.0" cy="293.6" r="2"/>
<circle cx="459.3" cy="341.1" r="2"/>
<circle cx="437.2" cy="289.9" r="2"/>
<circle cx="443.3" cy="323.9" r="2"/>
<circle cx="435.2" cy="318.0" r="2"/>
<circle cx="431.4" cy="280.5" r="2"/>
<circle cx="445.9" cy="308.2" r="2"/>
<circle cx="442.8" cy="322.0" r="2"/>
<circle cx="441.1" cy="332.4" r="2"/>
<circle cx="436.6" cy="341.4" r="2"/>
<circle cx="438.1" cy="317.4" r="2"/>
<circle cx="437.2" cy="338.7" r="2"/>
<circle cx="447.1" cy="343.4" r="2"/>
<circle cx="446.2" cy="322.4" r="2"/>
<circle cx="447.3" cy="349.7" r="2"/>
<circle cx="435.2" cy="319.1" r="2"/>
<circle cx="437.3" cy="293.9" r="2"/>
<circle cx="444.9" cy="310.7" r="2"/>
<circle cx="436.6" cy="297.1" r="2"/>
<circle cx="455.8" cy="332.5" r="2"/>
<circle cx="445.3" cy="313.2" r="2"/>
<circle cx="435.9" cy="281.5" r="2"/>
<circle cx="436.4" cy="285.6" r="2"/>
<circle cx="453.1" cy="327.4" r="2"/>
<circle cx="435.8" cy="290.3" r="2"/>
<circle cx="440.5" cy="306.0" r="2"/>
<circle cx="452.6" cy="343.1" r="2"/>
<circle cx="462.8" cy="349.6" r="2"/>
<circle cx="438.9" cy="312.9" r="2"/>
<circle cx="436.6" cy="318.5" r="2"/>
<circle cx="453.5" cy="334.5" r="2"/>
<circle cx="451.5" cy="327.4" r="2"/>
<circle cx="456.3" cy="347.0" r="2"/>
<circle cx="457.5" cy="336.9" r="2"/>
<circle cx="449.6" cy="316.8" r="2"/>
<circle cx="447.2" cy="315.2" r="2"/>
<circle cx="443.7" cy="345.2" r="2"/>
<circle cx="454.4" cy="343.7" r="2"/>
<circle cx="435.9" cy="314.3" r="2"/>
<circle cx="433.1" cy="298.3" r="2"/>
<circle cx="451.8" cy="329.3" r="2"/>
<circle cx="443.1" cy="317.9" r="2"/>
<circle cx="440.3" cy="343.8" r="2"/>
<circle cx="439.8" cy="295.1" r="2"/>
<circle cx="434.9" cy="292.3" r="2"/>
<circle cx="435.9" cy="308.3" r="2"/>
<circle cx="468.6" cy="352.1" r="2"/>
<circle cx="440.6" cy="324.8" r="2"/>
<circle cx="443.8" cy="344.4" r="2"/>
<circle cx="446.7" cy="320.6" r="2"/>
<circle cx="454.1" cy="346.2" r="2"/>
<circle cx="432.2" cy="285.9" r="2"/>
<circle cx="443.2" cy="310.9" r="2"/>
<circle cx="449.7" cy="331.8" r="2"/>
<circle cx="449.7" cy="334.6" r="2"/>
<circle cx="439.0" cy="302.2" r="2"/>
<circle cx="438.6" cy="287.0" r="2"/>
<circle cx="459.2" cy="337.7" r="2"/>
<circle cx="448.6" cy="342.8" r="2"/>
<circle cx="439.8" cy="324.2" r="2"/>
<circle cx="438.2" cy="329.6" r="2"/>
<circle cx="440.0" cy="324.6" r="2"/>
<circle cx="441.9" cy="301.7" r="2"/>
<circle cx="434.6" cy="281.0" r="2"/>
<circle cx="452.0" cy="346.2" r="2"/>
<circle cx="442.0" cy="307.6" r="2"/>
<circle cx="438.4" cy="286.0" r="2"/>
<circle cx="450.7" cy="334.0" r="2"/>
<circle cx="455.0" cy="329.6" r="2"/>
<circle cx="440.3" cy="311.5" r="2"/>
<circle cx="439.7" cy="305.5" r="2"/>
<circle cx="450.7" cy="347.3" r="2"/>
<circle cx="438.1" cy="336.3" r="2"/>
<circle cx="448.2" cy="314.7" r="2"/>
<circle cx="433.9" cy="285.4" r="2"/>
<circle cx="436.8" cy="323.9" r="2"/>
<circle cx="441.5" cy="305.0" r="2"/>
<circle cx="434.5" cy="290.6" r="2"/>
<circle cx="437.8" cy="328.1" r="2"/>
<circle cx="437.3" cy="298.5" r="2"/>
<circle cx="445.4" cy="331.1" r="2"/>
<circle cx="446.5" cy="324.8" r="2"/>
<circle cx="447.8" cy="343.1" r="2"/>
<circle cx="432.4" cy="280.2" r="2"/>
<circle cx="440.1" cy="328.2" r="2"/>
<circle cx="452.8" cy="329.1" r="2"/>
<circle cx="445.4" cy="322.0" r="2"/>
<circle cx="456.7" cy="344.8" r="2"/>
<circle cx="439.5" cy="321.3" r="2"/>
<circle cx="438.3" cy="307.5" r="2"/>
<circle cx="437.5" cy="332.1" r="2"/>
<circle cx="439.5" cy="312.9" r="2"/>
<circle cx="443.2" cy="314.3" r="2"/>
<circle cx="446.1" cy="343.4" r="2"/>
<circle cx="441.8" cy="349.3" r="2"/>
<circle cx="438.2" cy="327.5" r="2"/>
<circle cx="445.3" cy="336.2" r="2"/>
<circle cx="466.8" cy="349.1" r="2"/>
<circle cx="443.7" cy="318.7" r="2"/>
<circle cx="434.3" cy="286.9" r="2"/>
<circle cx="451.5" cy="345.2" r="2"/>
<circle cx="446.6" cy="329.3" r="2"/>
<circle cx="454.5" cy="347.7" r="2"/>
<circle cx="443.3" cy="315.9" r="2"/>
<circle cx="452.5" cy="337.6" r="2"/>
<circle cx="436.8" cy="332.0" r="2"/>
<circle cx="442.1" cy="297.2" r="2"/>
<circle cx="447.0" cy="318.5" r="2"/>
<circle cx="442.5" cy="321.4" r="2"/>
<circle cx="439.5" cy="346.7" r="2"/>
<circle cx="439.5" cy="298.6" r="2"/>
<circle cx="456.0" cy="341.8" r="2"/>
<circle cx="447.9" cy="318.1" r="2"/>
<circle cx="444.0" cy="311.0" r="2"/>
<circle cx="442.1" cy="335.7" r="2"/>
<circle cx="446.9" cy="312.4" r="2"/>
<circle cx="437.6" cy="300.1" r="2"/>
<circle cx="440.5" cy="341.5" r="2"/>
<circle cx="444.5" cy="316.0" r="2"/>
<circle cx="437.0" cy="305.4" r="2"/>
<circle cx="458.7" cy="348.8" r="2"/>
<circle cx="446.5" cy="320.1" r="2"/>
<circle cx="443.9" cy="328.2" r="2"/>
<circle cx="441.3" cy="299.9" r="2"/>
<circle cx="438.3" cy="312.8" r="2"/>
<circle cx="445.3" cy="305.8" r="2"/>
<circle cx="447.2" cy="316.5" r="2"/>
<circle cx="466.9" cy="347.0" r="2"/>
<circle cx="436.4" cy="310.3" r="2"/>
<circle cx="443.2" cy="320.3" r="2"/>
<circle cx="438.6" cy="330.1" r="2"/>
<circle cx="446.6" cy="329.3" r="2"/>
<circle cx="437.3" cy="302.9" r="2"/>
<circle cx="445.6" cy="325.8" r="2"/>
<circle cx="440.4" cy="328.5" r="2"/>
<circle cx="443.8" cy="334.1" r="2"/>
<circle cx="451.3" cy="338.5" r="2"/>
<circle cx="435.0" cy="297.7" r="2"/>
<circle cx="435.5" cy="314.0" r="2"/>
<circle cx="437.4" cy="287.8" r="2"/>
<circle cx="465.4" cy="345.4" r="2"/>
<circle cx="441.0" cy="310.3" r="2"/>
<circle cx="435.9" cy="319.2" r="2"/>
<circle cx="438.3" cy="350.0" r="2"/>
<circle cx="432.9" cy="297.1" r="2"/>
<circle cx="435.7" cy="346.5" r="2"/>
<circle cx="442.3" cy="296.0" r="2"/>
<circle cx="444.0" cy="348.3" r="2"/>
<circle cx="445.8" cy="324.0" r="2"/>
<circle cx="442.2" cy="318.1" r="2"/>
<circle cx="437.9" cy="340.2" r="2"/>
<circle cx="450.3" cy="339.0" r="2"/>
<circle cx="443.8" cy="349.2" r="2"/>
<circle cx="453.4" cy="337.0" r="2"/>
<circle cx="440.0" cy="312.0" r="2"/>
<circle cx="445.5" cy="327.7" r="2"/>
<circle cx="439.0" cy="287.8" r="2"/>
<circle cx="443.2" cy="309.8" r="2"/>
<circle cx="468.9" cy="350.3" r="2"/>
<circle cx="466.9" cy="348.7" r="2"/>
<circle cx="453.8" cy="330.2" r="2"/>
<circle cx="446.3" cy="319.7" r="2"/>
<circle cx="445.0" cy="326.2" r="2"/>
<circle cx="434.7" cy="322.2" r="2"/>
<circle cx="457.9" cy="334.2" r="2"/>
<circle cx="444.8" cy="315.4" r="2"/>
<circle cx="446.9" cy="323.1" r="2"/>
<circle cx="439.1" cy="287.0" r="2"/>
<circle cx="435.3" cy="280.7" r="2"/>
<circle cx="439.7" cy="317.0" r="2"/>
<circle cx="441.8" cy="299.4" r="2"/>
<circle cx="438.2" cy="320.6" r="2"/>
<circle cx="456.4" cy="331.4" r="2"/>
<circle cx="435.5" cy="289.6" r="2"/>
<circle cx="446.2" cy="330.0" r="2"/>
<circle cx="451.4" cy="347.7" r="2"/>
<circle cx="436.0" cy="280.6" r="2"/>
<circle cx="450.4" cy="329.7" r="2"/>
<circle cx="442.0" cy="301.5" r="2"/>
<circle cx="433.9" cy="307.2" r="2"/>
<circle cx="440.6" cy="291.8" r="2"/>
<circle cx="445.5" cy="340.8" r="2"/>
<circle cx="433.8" cy="280.7" r="2"/>
<circle cx="439.2" cy="302.4" r="2"/>
<circle cx="438.8" cy="299.9" r="2"/>
<circle cx="448.0" cy="349.7" r="2"/>
<circle cx="444.4" cy="323.6" r="2"/>
<circle cx="438.1" cy="338.3" r="2"/>
<circle cx="445.1" cy="332.7" r="2"/>
<circle cx="443.3" cy="317.0" r="2"/>
<circle cx="436.8" cy="302.3" r="2"/>
<circle cx="447.2" cy="313.7" r="2"/>
<circle cx="440.3" cy="305.6" r="2"/>
<circle cx="448.7" cy="344.3" r="2"/>
<circle cx="447.6" cy="326.1" r="2"/>
<circle cx="442.6" cy="298.3" r="2"/>
<circle cx="447.3" cy="338.0" r="2"/>
<circle cx="447.6" cy="321.7" r="2"/>
<circle cx="434.9" cy="286.1" r="2"/>
<circle cx="434.5" cy="320.1" r="2"/>
<circle cx="449.5" cy="320.2" r="2"/>
<circle cx="449.4" cy="323.5" r="2"/>
<circle cx="439.3" cy="319.7" r="2"/>
<circle cx="436.6" cy="317.9" r="2"/>
<circle cx="460.3" cy="342.4" r="2"/>
<circle cx="437.6" cy="301.1" r="2"/>
<circle cx="435.7" cy="312.9" r="2"/>
<circle cx="431.6" cy="288.2" r="2"/>
<circle cx="435.4" cy="292.5" r="2"/>
<circle cx="442.9" cy="310.3" r="2"/>
<circle cx="435.9" cy="306.3" r="2"/>
<circle cx="451.2" cy="325.1" r="2"/>
<circle cx="447.3" cy="345.3" r="2"/>
<circle cx="439.6" cy="314.0" r="2"/>
<circle cx="447.3" cy="350.4" r="2"/>
<circle cx="437.1" cy="290.7" r="2"/>
<circle cx="437.2" cy="308.7" r="2"/>
<circle cx="435.4" cy="284.7" r="2"/>
<circle cx="444.0" cy="311.5" r="2"/>
<circle cx="446.6" cy="324.8" r="2"/>
<circle cx="445.5" cy="315.5" r="2"/>
<circle cx="449.8" cy="320.5" r="2"/>
<circle cx="448.0" cy="314.1" r="2"/>
<circle cx="433.0" cy="289.7" r="2"/>
<circle cx="439.8" cy="340.9" r="2"/>
<circle cx="445.7" cy="323.6" r="2"/>
<circle cx="450.1" cy="330.0" r="2"/>
<circle cx="469.2" cy="350.9" r="2"/>
<circle cx="445.4" cy="304.4" r="2"/>
<circle cx="445.6" cy="324.6" r="2"/>
<circle cx="443.4" cy="310.9" r="2"/>
<circle cx="441.0" cy="326.9" r="2"/>
<circle cx="442.3" cy="299.2" r="2"/>
<circle cx="434.4" cy="280.9" r="2"/>
<circle cx="433.2" cy="294.0" r="2"/>
<circle cx="456.2" cy="348.8" r="2"/>
<circle cx="453.9" cy="351.2" r="2"/>
<circle cx="448.7" cy="315.0" r="2"/>
<circle cx="435.7" cy="323.2" r="2"/>
<circle cx="460.0" cy="343.5" r="2"/>
<circle cx="435.6" cy="289.8" r="2"/>
<circle cx="439.3" cy="316.5" r="2"/>
<circle cx="435.9" cy="287.4" r="2"/>
<circle cx="449.7" cy="347.8" r="2"/>
<circle cx="448.1" cy="319.1" r="2"/>
<circle cx="435.2" cy="295.3" r="2"/>
<circle cx="437.6" cy="305.2" r="2"/>
<circle cx="439.0" cy="321.3" r="2"/>
<circle cx="437.5" cy="321.1" r="2"/>
<circle cx="441.3" cy="296.1" r="2"/>
<circle cx="453.7" cy="327.9" r="2"/>
<circle cx="433.5" cy="290.3" r="2"/>
<circle cx="450.2" cy="329.9" r="2"/>
<circle cx="460.7" cy="340.6" r="2"/>
<circle cx="444.2" cy="336.3" r="2"/>
<circle cx="438.9" cy="308.5" r="2"/>
<circle cx="455.1" cy="339.0" r="2"/>
<circle cx="440.8" cy="349.1" r="2"/>
<circle cx="452.2" cy="328.2" r="2"/>
<circle cx="442.6" cy="328.2" r="2"/>
<circle cx="436.2" cy="311.8" r="2"/>
<circle cx="441.8" cy="325.8" r="2"/>
<circle cx="442.0" cy="310.2" r="2"/>
<circle cx="433.1" cy="283.7" r="2"/>
<circle cx="440.2" cy="313.9" r="2"/>
<circle cx="435.4" cy="283.5" r="2"/>
<circle cx="457.0" cy="343.5" r="2"/>
<circle cx="453.3" cy="339.1" r="2"/>
<circle cx="457.3" cy="343.9" r="2"/>
<circle cx="451.6" cy="343.0" r="2"/>
<circle cx="451.8" cy="333.6" r="2"/>
<circle cx="450.7" cy="332.5" r="2"/>
<circle cx="450.2" cy="342.8" r="2"/>
<circle cx="436.3" cy="324.7" r="2"/>
<circle cx="444.3" cy="321.3" r="2"/>
<circle cx="441.4" cy="305.2" r="2"/>
<circle cx="451.8" cy="322.1" r="2"/>
<circle cx="437.9" cy="336.5" r="2"/>
<circle cx="441.0" cy="312.2" r="2"/>
<circle cx="440.4" cy="300.8" r="2"/>
<circle cx="441.3" cy="309.3" r="2"/>
<circle cx="438.3" cy="329.8" r="2"/>
<circle cx="442.9" cy="322.5" r="2"/>
<circle cx="434.1" cy="294.0" r="2"/>
<circle cx="440.7" cy="330.9" r="2"/>
<circle cx="445.6" cy="320.6" r="2"/>
<circle cx="446.3" cy="337.7" r="2"/>
<circle cx="446.0" cy="325.7" r="2"/>
<circle cx="446.0" cy="344.2" r="2"/>
<circle cx="439.1" cy="287.1" r="2"/>
<circle cx="436.6" cy="297.0" r="2"/>
<circle cx="436.4" cy="299.3" r="2"/>
<circle cx="445.7" cy="339.0" r="2"/>
<circle cx="444.7" cy="345.8" r="2"/>
<circle cx="443.1" cy="333.7" r="2"/>
<circle cx="435.8" cy="309.0" r="2"/>
<circle cx="439.8" cy="343.0" r="2"/>
<circle cx="437.3" cy="322.5" r="2"/>
<circle cx="453.5" cy="325.1" r="2"/>
<circle cx="438.5" cy="283.3" r="2"/>
<circle cx="437.8" cy="295.7" r="2"/>
<circle cx="439.4" cy="349.2" r="2"/>
<circle cx="439.7" cy="291.9" r="2"/>
<circle cx="449.4" cy="333.8" r="2"/>
<circle cx="443.5" cy="320.6" r="2"/>
<circle cx="449.2" cy="322.3" r="2"/>
<circle cx="442.4" cy="334.7" r="2"/>
<circle cx="454.1" cy="335.8" r="2"/>
<circle cx="434.8" cy="298.7" r="2"/>
<circle cx="444.7" cy="306.9" r="2"/>
<circle cx="441.6" cy="305.9" r="2"/>
<circle cx="434.6" cy="310.9" r="2"/>
<circle cx="448.5" cy="342.3" r="2"/>
<circle cx="450.9" cy="321.6" r="2"/>
<circle cx="438.8" cy="331.1" r="2"/>
<circle cx="433.5" cy="300.0" r="2"/>
<circle cx="435.3" cy="281.0" r="2"/>
<circle cx="438.3" cy="298.3" r="2"/>
<circle cx="455.6" cy="338.6" r="2"/>
<circle cx="459.7" cy="344.8" r="2"/>
<circle cx="446.2" cy="320.8" r="2"/>
<circle cx="443.5" cy="326.7" r="2"/>
<circle cx="438.4" cy="301.2" r="2"/>
<circle cx="444.2" cy="326.2" r="2"/>
<circle cx="432.4" cy="288.1" r="2"/>
<circle cx="438.9" cy="305.5" r="2"/>
<circle cx="440.5" cy="322.7" r="2"/>
<circle cx="445.0" cy="309.0" r="2"/>
<circle cx="447.4" cy="317.1" r="2"/>
<circle cx="440.3" cy="312.5" r="2"/>
<circle cx="451.8" cy="333.2" r="2"/>
<circle cx="461.3" cy="345.0" r="2"/>
<circle cx="436.9" cy="307.4" r="2"/>
<circle cx="441.8" cy="296.7" r="2"/>
<circle cx="448.1" cy="340.2" r="2"/>
<circle cx="436.0" cy="315.8" r="2"/>
<circle cx="432.8" cy="297.3" r="2"/>
<circle cx="436.1" cy="345.2" r="2"/>
<circle cx="449.7" cy="349.5" r="2"/>
<circle cx="449.5" cy="340.3" r="2"/>
<circle cx="435.7" cy="324.4" r="2"/>
<circle cx="445.4" cy="315.0" r="2"/>
<circle cx="448.9" cy="323.6" r="2"/>
<circle cx="439.9" cy="293.6" r="2"/>
<circle cx="455.2" cy="330.7" r="2"/>
<circle cx="438.8" cy="285.1" r="2"/>
<circle cx="433.4" cy="305.3" r="2"/>
<circle cx="440.9" cy="297.6" r="2"/>
<circle cx="441.8" cy="306.4" r="2"/>
<circle cx="437.6" cy="302.6" r="2"/>
<circle cx="447.6" cy="336.9" r="2"/>
<circle cx="441.8" cy="320.5" r="2"/>
<circle cx="452.2" cy="348.6" r="2"/>
<circle cx="436.9" cy="323.9" r="2"/>
<circle cx="440.9" cy="334.1" r="2"/>
<circle cx="441.4" cy="311.5" r="2"/>
<circle cx="458.5" cy="348.2" r="2"/>
<circle cx="439.3" cy="297.7" r="2"/>
<circle cx="449.7" cy="323.7" r="2"/>
<circle cx="439.8" cy="303.0" r="2"/>
<circle cx="436.9" cy="282.1" r="2"/>
<circle cx="444.5" cy="314.8" r="2"/>
<circle cx="437.8" cy="320.7" r="2"/>
<circle cx="439.9" cy="320.1" r="2"/>
<circle cx="440.0" cy="296.8" r="2"/>
<circle cx="432.9" cy="298.2" r="2"/>
<circle cx="433.5" cy="289.3" r="2"/>
<circle cx="438.0" cy="326.7" r="2"/>
<circle cx="443.7" cy="313.0" r="2"/>
<circle cx="442.4" cy="306.7" r="2"/>
<circle cx="445.1" cy="320.4" r="2"/>
<circle cx="440.8" cy="325.3" r="2"/>
<circle cx="441.3" cy="349.6" r="2"/>
<circle cx="443.3" cy="304.8" r="2"/>
<circle cx="441.6" cy="339.7" r="2"/>
<circle cx="451.2" cy="323.8" r="2"/>
<circle cx="447.3" cy="318.3" r="2"/>
<circle cx="439.8" cy="348.9" r="2"/>
<circle cx="442.9" cy="347.7" r="2"/>
<circle cx="442.3" cy="333.0" r="2"/>
<circle cx="451.3" cy="324.0" r="2"/>
<circle cx="436.9" cy="318.3" r="2"/>
<circle cx="456.3" cy="339.9" r="2"/>
<circle cx="437.8" cy="313.2" r="2"/>
<circle cx="439.6" cy="314.3" r="2"/>
<circle cx="456.9" cy="331.2" r="2"/>
<circle cx="433.9" cy="294.1" r="2"/>
<circle cx="453.1" cy="340.7" r="2"/>
<circle cx="461.0" cy="345.0" r="2"/>
<circle cx="432.4" cy="291.9" r="2"/>
<circle cx="436.6" cy="332.2" r="2"/>
<circle cx="443.7" cy="327.7" r="2"/>
<circle cx="440.5" cy="326.3" r="2"/>
<circle cx="440.4" cy="325.4" r="2"/>
<circle cx="446.2" cy="308.7" r="2"/>
<circle cx="444.0" cy="336.6" r="2"/>
<circle cx="438.1" cy="310.8" r="2"/>
<circle cx="453.3" cy="329.3" r="2"/>
<circle cx="438.5" cy="296.4" r="2"/>
<circle cx="434.1" cy="287.9" r="2"/>
<circle cx="433.0" cy="290.3" r="2"/>
<circle cx="436.8" cy="335.4" r="2"/>
<circle cx="467.2" cy="347.1" r="2"/>
<circle cx="435.4" cy="325.7" r="2"/>
<circle cx="438.5" cy="339.7" r="2"/>
<circle cx="438.9" cy="301.7" r="2"/>
<circle cx="437.6" cy="334.9" r="2"/>
<circle cx="436.9" cy="306.3" r="2"/>
<circle cx="449.7" cy="346.8" r="2"/>
<circle cx="455.3" cy="332.9" r="2"/>
<circle cx="444.3" cy="350.6" r="2"/>
<circle cx="446.5" cy="308.0" r="2"/>
<circle cx="466.9" cy="346.7" r="2"/>
<circle cx="442.2" cy="325.2" r="2"/>
<circle cx="438.3" cy="318.0" r="2"/>
<circle cx="435.5" cy="281.2" r="2"/>
<circle cx="445.3" cy="303.9" r="2"/>
<circle cx="436.7" cy="317.3" r="2"/>
<circle cx="453.3" cy="338.0" r="2"/>
<circle cx="461.8" cy="344.5" r="2"/>
<circle cx="443.8" cy="303.8" r="2"/>
<circle cx="438.6" cy="314.3" r="2"/>
<circle cx="441.4" cy="320.0" r="2"/>
<circle cx="456.2" cy="344.2" r="2"/>
<circle cx="447.6" cy="323.4" r="2"/>
<circle cx="446.7" cy="323.8" r="2"/>
<circle cx="458.1" cy="336.3" r="2"/>
<circle cx="439.0" cy="303.2" r="2"/>
<circle cx="437.4" cy="347.3" r="2"/>
<circle cx="447.4" cy="333.7" r="2"/>
<circle cx="445.7" cy="339.7" r="2"/>
<circle cx="456.3" cy="348.4" r="2"/>
<circle cx="440.1" cy="348.0" r="2"/>
<circle cx="437.4" cy="344.3" r="2"/>
<circle cx="452.0" cy="338.3" r="2"/>
<circle cx="444.6" cy="339.0" r="2"/>
<circle cx="441.4" cy="304.2" r="2"/>
<circle cx="442.5" cy="313.7" r="2"/>
<circle cx="450.1" cy="317.7" r="2"/>
<circle cx="450.0" cy="320.6" r="2"/>
<circle cx="446.8" cy="342.8" r="2"/>
<circle cx="457.8" cy="336.4" r="2"/>
<circle cx="436.9" cy="316.0" r="2"/>
<circle cx="448.6" cy="325.1" r="2"/>
<circle cx="439.4" cy="350.3" r="2"/>
<circle cx="433.5" cy="299.5" r="2"/>
<circle cx="439.4" cy="314.4" r="2"/>
<circle cx="454.9" cy="345.6" r="2"/>
<circle cx="436.7" cy="293.0" r="2"/>
<circle cx="435.3" cy="347.1" r="2"/>
<circle cx="439.2" cy="346.2" r="2"/>
<circle cx="439.2" cy="301.5" r="2"/>
<circle cx="433.9" cy="284.5" r="2"/>
<circle cx="436.5" cy="307.7" r="2"/>
<circle cx="440.8" cy="307.4" r="2"/>
<circle cx="443.5" cy="334.9" r="2"/>
<circle cx="444.3" cy="316.2" r="2"/>
<circle cx="449.3" cy="339.2" r="2"/>
<circle cx="445.6" cy="334.3" r="2"/>
<circle cx="436.1" cy="297.8" r="2"/>
<circle cx="445.8" cy="316.8" r="2"/>
<circle cx="444.9" cy="320.9" r="2"/>
<circle cx="440.9" cy="323.6" r="2"/>
<circle cx="435.0" cy="291.9" r="2"/>
<circle cx="445.9" cy="339.3" r="2"/>
<circle cx="436.6" cy="301.8" r="2"/>
<circle cx="441.1" cy="294.3" r="2"/>
<circle cx="444.9" cy="312.6" r="2"/>
<circle cx="439.0" cy="325.4" r="2"/>
<circle cx="447.8" cy="326.3" r="2"/>
<circle cx="459.8" cy="347.9" r="2"/>
<circle cx="443.9" cy="333.0" r="2"/>
<circle cx="436.0" cy="291.3" r="2"/>
<circle cx="434.6" cy="307.0" r="2"/>
<circle cx="447.2" cy="335.9" r="2"/>
<circle cx="457.4" cy="335.8" r="2"/>
<circle cx="448.3" cy="313.1" r="2"/>
<circle cx="453.3" cy="326.2" r="2"/>
<circle cx="434.7" cy="286.8" r="2"/>
<circle cx="451.6" cy="332.1" r="2"/>
<circle cx="449.3" cy="327.9" r="2"/>
<circle cx="457.7" cy="340.2" r="2"/>
<circle cx="436.4" cy="332.5" r="2"/>
<circle cx="431.1" cy="280.7" r="2"/>
<circle cx="437.3" cy="290.3" r="2"/>
<circle cx="436.0" cy="320.9" r="2"/>
<circle cx="440.5" cy="301.2" r="2"/>
<circle cx="448.3" cy="313.7" r="2"/>
<circle cx="449.5" cy="319.7" r="2"/>
<circle cx="453.4" cy="336.9" r="2"/>
<circle cx="445.2" cy="347.6" r="2"/>
<circle cx="434.1" cy="315.8" r="2"/>
<circle cx="445.6" cy="323.9" r="2"/>
<circle cx="436.4" cy="304.9" r="2"/>
<circle cx="438.0" cy="340.4" r="2"/>
<circle cx="440.1" cy="296.5" r="2"/>
<circle cx="462.2" cy="342.4" r="2"/>
<circle cx="438.5" cy="323.6" r="2"/>
<circle cx="443.0" cy="314.0" r="2"/>
<circle cx="445.0" cy="312.7" r="2"/>
<circle cx="443.0" cy="314.7" r="2"/>
<circle cx="439.1" cy="286.0" r="2"/>
<circle cx="442.6" cy="316.3" r="2"/>
<circle cx="463.4" cy="343.6" r="2"/>
<circle cx="440.7" cy="296.0" r="2"/>
<circle cx="444.4" cy="330.2" r="2"/>
<circle cx="442.5" cy="349.5" r="2"/>
<circle cx="450.4" cy="319.1" r="2"/>
<circle cx="441.7" cy="345.5" r="2"/>
<circle cx="442.7" cy="324.9" r="2"/>
<circle cx="435.5" cy="348.0" r="2"/>
<circle cx="450.0" cy="349.2" r="2"/>
<circle cx="450.5" cy="321.5" r="2"/>
<circle cx="464.9" cy="345.5" r="2"/>
<circle cx="437.5" cy="306.6" r="2"/>
<circle cx="436.7" cy="294.6" r="2"/>
<circle cx="434.2" cy="297.4" r="2"/>
<circle cx="459.9" cy="344.6" r="2"/>
<circle cx="444.4" cy="340.4" r="2"/>
<circle cx="435.9" cy="314.4" r="2"/>
<circle cx="441.8" cy="299.7" r="2"/>
<circle cx="435.3" cy="322.3" r="2"/>
<circle cx="447.2" cy="312.6" r="2"/>
<circle cx="440.0" cy="328.9" r="2"/>
<circle cx="439.3" cy="296.0" r="2"/>
<circle cx="464.2" cy="346.6" r="2"/>
<circle cx="440.4" cy="329.0" r="2"/>
<circle cx="441.4" cy="340.6" r="2"/>
<circle cx="451.1" cy="326.8" r="2"/>
<circle cx="443.8" cy="301.8" r="2"/>
<circle cx="436.8" cy="281.7" r="2"/>
<circle cx="439.4" cy="330.3" r="2"/>
<circle cx="453.4" cy="343.3" r="2"/>
<circle cx="464.1" cy="346.4" r="2"/>
<circle cx="433.4" cy="296.1" r="2"/>
<circle cx="456.3" cy="343.9" r="2"/>
<circle cx="439.1" cy="314.1" r="2"/>
<circle cx="435.3" cy="351.5" r="2"/>
<circle cx="446.7" cy="328.8" r="2"/>
<circle cx="440.0" cy="330.7" r="2"/>
<circle cx="431.8" cy="287.8" r="2"/>
<circle cx="444.4" cy="343.6" r="2"/>
<circle cx="457.2" cy="345.3" r="2"/>
<circle cx="449.2" cy="349.8" r="2"/>
<circle cx="445.4" cy="351.3" r="2"/>
<circle cx="446.6" cy="326.6" r="2"/>
<circle cx="458.3" cy="341.1" r="2"/>
<circle cx="443.1" cy="317.9" r="2"/>
<circle cx="435.9" cy="304.4" r="2"/>
<circle cx="438.7" cy="308.7" r="2"/>
<circle cx="439.9" cy="349.9" r="2"/>
<circle cx="442.5" cy="311.5" r="2"/>
<circle cx="451.7" cy="327.2" r="2"/>
<circle cx="452.1" cy="344.1" r="2"/>
<circle cx="444.8" cy="325.8" r="2"/>
<circle cx="437.2" cy="306.4" r="2"/>
<circle cx="436.3" cy="281.8" r="2"/>
<circle cx="451.2" cy="327.0" r="2"/>
<circle cx="433.8" cy="299.9" r="2"/>
<circle cx="441.3" cy="330.9" r="2"/>
<circle cx="443.0" cy="303.8" r="2"/>
<circle cx="443.6" cy="300.2" r="2"/>
<circle cx="434.5" cy="305.4" r="2"/>
<circle cx="433.4" cy="286.6" r="2"/>
<circle cx="448.6" cy="348.2" r="2"/>
<circle cx="458.6" cy="346.9" r="2"/>
<circle cx="457.8" cy="339.4" r="2"/>
<circle cx="451.8" cy="326.5" r="2"/>
<circle cx="445.5" cy="333.1" r="2"/>
<circle cx="454.3" cy="344.4" r="2"/>
<circle cx="437.5" cy="345.8" r="2"/>
<circle cx="440.2" cy="330.7" r="2"/>
<circle cx="436.8" cy="348.1" r="2"/>
<circle cx="452.0" cy="340.6" r="2"/>
<circle cx="465.5" cy="345.7" r="2"/>
<circle cx="437.2" cy="281.9" r="2"/>
<circle cx="452.4" cy="345.6" r="2"/>
<circle cx="432.7" cy="287.0" r="2"/>
<circle cx="445.0" cy="342.5" r="2"/>
<circle cx="445.1" cy="332.1" r="2"/>
<circle cx="457.0" cy="341.2" r="2"/>
<circle cx="452.1" cy="345.1" r="2"/>
<circle cx="440.6" cy="318.0" r="2"/>
<circle cx="462.3" cy="351.5" r="2"/>
<circle cx="438.9" cy="312.0" r="2"/>
<circle cx="442.1" cy="307.3" r="2"/>
<circle cx="434.5" cy="298.3" r="2"/>
<circle cx="447.5" cy="345.7" r="2"/>
<circle cx="435.8" cy="283.8" r="2"/>
<circle cx="437.7" cy="296.3" r="2"/>
<circle cx="434.3" cy="291.6" r="2"/>
<circle cx="435.5" cy="301.6" r="2"/>
<circle cx="436.4" cy="324.4" r="2"/>
<circle cx="436.7" cy="311.4" r="2"/>
<circle cx="432.1" cy="287.8" r="2"/>
<circle cx="444.6" cy="345.1" r="2"/>
<circle cx="441.7" cy="303.2" r="2"/>
<circle cx="433.5" cy="299.4" r="2"/>
<circle cx="436.8" cy="306.2" r="2"/>
<circle cx="434.2" cy="316.4" r="2"/>
<circle cx="448.4" cy="345.2" r="2"/>
<circle cx="447.1" cy="336.9" r="2"/>
<circle cx="449.1" cy="344.4" r="2"/>
<circle cx="447.8" cy="337.5" r="2"/>
<circle cx="437.3" cy="326.5" r="2"/>
<circle cx="441.2" cy="346.1" r="2"/>
<circle cx="439.1" cy="349.7" r="2"/>
<circle cx="432.1" cy="291.4" r="2"/>
<circle cx="440.7" cy="303.3" r="2"/>
<circle cx="442.1" cy="303.8" r="2"/>
<circle cx="454.0" cy="327.9" r="2"/>
<circle cx="435.5" cy="346.8" r="2"/>
<circle cx="455.1" cy="329.1" r="2"/>
<circle cx="435.0" cy="293.2" r="2"/>
<circle cx="436.6" cy="294.6" r="2"/>
<circle cx="441.8" cy="320.1" r="2"/>
<circle cx="443.8" cy="319.0" r="2"/>
<circle cx="453.5" cy="328.7" r="2"/>
<circle cx="452.8" cy="329.5" r="2"/>
<circle cx="435.9" cy="314.8" r="2"/>
<circle cx="442.6" cy="305.9" r="2"/>
<circle cx="438.0" cy="292.5" r="2"/>
<circle cx="442.0" cy="332.1" r="2"/>
<circle cx="438.6" cy="342.7" r="2"/>
<circle cx="451.7" cy="334.6" r="2"/>
<circle cx="439.5" cy="295.9" r="2"/>
<circle cx="445.7" cy="315.3" r="2"/>
<circle cx="438.3" cy="282.7" r="2"/>
<circle cx="446.2" cy="342.1" r="2"/>
<circle cx="434.6" cy="299.5" r="2"/>
<circle cx="437.6" cy="310.0" r="2"/>
<circle cx="445.1" cy="335.2" r="2"/>
<circle cx="434.5" cy="288.3" r="2"/>
<circle cx="431.2" cy="281.3" r="2"/>
<circle cx="437.5" cy="320.7" r="2"/>
<circle cx="435.5" cy="308.2" r="2"/>
<circle cx="454.7" cy="326.8" r="2"/>
<circle cx="450.3" cy="325.6" r="2"/>
<circle cx="437.3" cy="329.9" r="2"/>
<circle cx="448.3" cy="316.0" r="2"/>
<circle cx="454.8" cy="326.9" r="2"/>
<circle cx="441.1" cy="297.2" r="2"/>
<circle cx="448.3" cy="317.5" r="2"/>
<circle cx="434.6" cy="280.7" r="2"/>
<circle cx="443.4" cy="311.4" r="2"/>
<circle cx="440.5" cy="319.5" r="2"/>
<circle cx="449.9" cy="339.9" r="2"/>
<circle cx="438.9" cy="311.3" r="2"/>
<circle cx="454.2" cy="341.6" r="2"/>
<circle cx="440.5" cy="333.4" r="2"/>
<circle cx="440.0" cy="298.6" r="2"/>
<circle cx="451.1" cy="334.2" r="2"/>
<circle cx="434.4" cy="301.4" r="2"/>
<circle cx="435.1" cy="347.4" r="2"/>
<circle cx="434.3" cy="308.0" r="2"/>
<circle cx="438.7" cy="327.4" r="2"/>
<circle cx="436.8" cy="299.2" r="2"/>
<circle cx="461.8" cy="340.5" r="2"/>
<circle cx="436.1" cy="310.3" r="2"/>
<circle cx="438.3" cy="306.8" r="2"/>
<circle cx="446.8" cy="338.7" r="2"/>
<circle cx="451.2" cy="336.7" r="2"/>
<circle cx="446.9" cy="328.6" r="2"/>
<circle cx="435.1" cy="311.3" r="2"/>
<circle cx="441.0" cy="324.9" r="2"/>
<circle cx="455.9" cy="339.2" r="2"/>
<circle cx="439.8" cy="338.4" r="2"/>
<circle cx="432.0" cy="285.4" r="2"/>
<circle cx="457.2" cy="346.2" r="2"/>
<circle cx="461.3" cy="343.9" r="2"/>
<circle cx="440.2" cy="293.1" r="2"/>
<circle cx="438.3" cy="343.9" r="2"/>
<circle cx="438.4" cy="309.2" r="2"/>
<circle cx="440.8" cy="340.6" r="2"/>
<circle cx="440.5" cy="324.4" r="2"/>
<circle cx="443.6" cy="323.7" r="2"/>
<circle cx="448.7" cy="315.5" r="2"/>
<circle cx="448.7" cy="314.4" r="2"/>
<circle cx="445.4" cy="350.4" r="2"/>
<circle cx="442.0" cy="312.4" r="2"/>
<circle cx="431.8" cy="287.0" r="2"/>
<circle cx="438.0" cy="310.5" r="2"/>
<circle cx="434.7" cy="319.0" r="2"/>
<circle cx="442.4" cy="300.0" r="2"/>
<circle cx="436.6" cy="328.0" r="2"/>
<circle cx="433.3" cy="305.5" r="2"/>
<circle cx="442.5" cy="307.4" r="2"/>
<circle cx="457.8" cy="346.1" r="2"/>
<circle cx="439.1" cy="294.1" r="2"/>
<circle cx="452.8" cy="328.0" r="2"/>
<circle cx="444.9" cy="305.5" r="2"/>
<circle cx="436.9" cy="328.2" r="2"/>
<circle cx="435.7" cy="348.3" r="2"/>
<circle cx="458.0" cy="334.1" r="2"/>
<circle cx="446.2" cy="319.1" r="2"/>
<circle cx="444.2" cy="320.2" r="2"/>
<circle cx="437.3" cy="317.6" r="2"/>
<circle cx="434.7" cy="292.1" r="2"/>
<circle cx="454.4" cy="343.8" r="2"/>
<circle cx="445.4" cy="322.7" r="2"/>
<circle cx="455.6" cy="350.9" r="2"/>
<circle cx="460.8" cy="343.3" r="2"/>
<circle cx="447.7" cy="311.8" r="2"/>
<circle cx="436.8" cy="300.0" r="2"/>
<circle cx="440.3" cy="303.2" r="2"/>
<circle cx="448.7" cy="326.8" r="2"/>
<circle cx="444.8" cy="329.0" r="2"/>
<circle cx="457.6" cy="341.5" r="2"/>
<circle cx="443.0" cy="333.8" r="2"/>
<circle cx="442.3" cy="339.6" r="2"/>
<circle cx="434.7" cy="296.2" r="2"/>
<circle cx="450.4" cy="324.9" r="2"/>
<circle cx="432.1" cy="290.6" r="2"/>
<circle cx="435.2" cy="315.3" r="2"/>
<circle cx="452.3" cy="336.1" r="2"/>
<circle cx="433.9" cy="283.8" r="2"/>
<circle cx="437.8" cy="301.6" r="2"/>
<circle cx="435.5" cy="294.1" r="2"/>
<circle cx="449.9" cy="325.7" r="2"/>
<circle cx="442.5" cy="318.1" r="2"/>
<circle cx="432.5" cy="282.2" r="2"/>
<circle cx="457.9" cy="340.4" r="2"/>
<circle cx="439.2" cy="311.5" r="2"/>
<circle cx="459.3" cy="335.1" r="2"/>
<circle cx="446.3" cy="317.9" r="2"/>
<circle cx="460.8" cy="348.5" r="2"/>
<circle cx="449.5" cy="326.8" r="2"/>
<circle cx="458.3" cy="342.8" r="2"/>
<circle cx="438.1" cy="332.6" r="2"/>
<circle cx="438.1" cy="282.8" r="2"/>
<circle cx="438.2" cy="310.2" r="2"/>
<circle cx="449.2" cy="335.1" r="2"/>
<circle cx="441.5" cy="333.4" r="2"/>
<circle cx="437.6" cy="346.7" r="2"/>
<circle cx="447.7" cy="313.7" r="2"/>
<circle cx="433.8" cy="296.0" r="2"/>
<circle cx="435.6" cy="295.2" r="2"/>
<circle cx="437.9" cy="292.0" r="2"/>
<circle cx="460.0" cy="339.8" r="2"/>
<circle cx="440.1" cy="342.5" r="2"/>
<circle cx="460.7" cy="350.5" r="2"/>
<circle cx="437.8" cy="323.2" r="2"/>
<circle cx="437.4" cy="295.8" r="2"/>
<circle cx="434.0" cy="288.6" r="2"/>
<circle cx="453.4" cy="342.2" r="2"/>
<circle cx="543.4" cy="321.3" r="2"/>
<circle cx="533.7" cy="329.3" r="2"/>
<circle cx="539.8" cy="316.1" r="2"/>
<circle cx="537.0" cy="318.5" r="2"/>
<circle cx="544.1" cy="341.8" r="2"/>
<circle cx="540.8" cy="329.7" r="2"/>
<circle cx="536.8" cy="334.7" r="2"/>
<circle cx="543.9" cy="314.3" r="2"/>
<circle cx="545.0" cy="347.5" r="2"/>
<circle cx="524.7" cy="350.8" r="2"/>
<circle cx="533.3" cy="348.3" r="2"/>
<circle cx="538.7" cy="325.5" r="2"/>
<circle cx="535.8" cy="335.4" r="2"/>
<circle cx="525.3" cy="342.4" r="2"/>
<circle cx="534.4" cy="332.7" r="2"/>
<circle cx="538.0" cy="320.4" r="2"/>
<circle cx="543.3" cy="315.7" r="2"/>
<circle cx="530.1" cy="337.1" r="2"/>
<circle cx="539.4" cy="343.8" r="2"/>
<circle cx="523.7" cy="345.7" r="2"/>
<circle cx="540.3" cy="331.8" r="2"/>
<circle cx="536.1" cy="333.8" r="2"/>
<circle cx="528.7" cy="348.2" r="2"/>
<circle cx="527.9" cy="351.4" r="2"/>
<circle cx="534.1" cy="321.4" r="2"/>
<circle cx="520.3" cy="346.6" r="2"/>
<circle cx="536.1" cy="345.8" r="2"/>
<circle cx="537.3" cy="341.6" r="2"/>
<circle cx="522.5" cy="346.4" r="2"/>
<circle cx="532.6" cy="336.1" r="2"/>
<circle cx="544.1" cy="344.3" r="2"/>
<circle cx="538.0" cy="331.3" r="2"/>
<circle cx="529.7" cy="343.2" r="2"/>
<circle cx="541.8" cy="332.4" r="2"/>
<circle cx="538.5" cy="315.0" r="2"/>
<circle cx="539.2" cy="340.4" r="2"/>
<circle cx="533.5" cy="350.8" r="2"/>
<circle cx="535.5" cy="347.1" r="2"/>
<circle cx="536.3" cy="339.6" r="2"/>
<circle cx="537.9" cy="335.1" r="2"/>
<circle cx="542.1" cy="348.2" r="2"/>
<circle cx="539.5" cy="345.6" r="2"/>
<circle cx="531.9" cy="346.9" r="2"/>
<circle cx="524.0" cy="341.3" r="2"/>
<circle cx="536.6" cy="321.7" r="2"/>
<circle cx="538.6" cy="338.3" r="2"/>
<circle cx="539.1" cy="322.2" r="2"/>
<circle cx="536.9" cy="338.6" r="2"/>
<circle cx="525.8" cy="346.2" r="2"/>
<circle cx="530.1" cy="335.2" r="2"/>
<circle cx="534.4" cy="338.7" r="2"/>
<circle cx="541.7" cy="317.8" r="2"/>
<circle cx="541.7" cy="311.4" r="2"/>
<circle cx="538.3" cy="320.9" r="2"/>
<circle cx="536.7" cy="325.8" r="2"/>
<circle cx="539.8" cy="352.0" r="2"/>
<circle cx="533.9" cy="344.7" r="2"/>
<circle cx="541.6" cy="309.4" r="2"/>
<circle cx="539.0" cy="322.7" r="2"/>
<circle cx="535.2" cy="326.9" r="2"/>
<circle cx="540.9" cy="315.5" r="2"/>
<circle cx="524.9" cy="338.7" r="2"/>
<circle cx="539.0" cy="317.4" r="2"/>
<circle cx="527.8" cy="335.3" r="2"/>
<circle cx="539.4" cy="317.9" r="2"/>
<circle cx="527.3" cy="345.3" r="2"/>
<circle cx="537.5" cy="334.6" r="2"/>
<circle cx="522.7" cy="346.1" r="2"/>
<circle cx="541.5" cy="315.1" r="2"/>
<circle cx="540.6" cy="348.2" r="2"/>
<circle cx="542.9" cy="345.8" r="2"/>
<circle cx="532.0" cy="334.1" r="2"/>
<circle cx="523.5" cy="346.8" r="2"/>
<circle cx="538.4" cy="322.7" r="2"/>
<circle cx="529.9" cy="351.4" r="2"/>
<circle cx="542.6" cy="344.4" r="2"/>
<circle cx="539.2" cy="343.8" r="2"/>
<circle cx="536.1" cy="345.7" r="2"/>
<circle cx="536.6" cy="321.1" r="2"/>
<circle cx="529.8" cy="339.8" r="2"/>
<circle cx="524.9" cy="340.6" r="2"/>
<circle cx="534.0" cy="323.9" r="2"/>
<circle cx="542.9" cy="346.2" r="2"/>
<circle cx="533.4" cy="337.7" r="2"/>
<circle cx="527.7" cy="333.9" r="2"/>
<circle cx="526.7" cy="341.1" r="2"/>
<circle cx="518.1" cy="349.8" r="2"/>
<circle cx="529.3" cy="330.1" r="2"/>
<circle cx="525.2" cy="338.0" r="2"/>
<circle cx="539.7" cy="338.9" r="2"/>
<circle cx="538.9" cy="349.1" r="2"/>
<circle cx="540.7" cy="350.2" r="2"/>
<circle cx="534.6" cy="326.1" r="2"/>
<circle cx="528.7" cy="348.5" r="2"/>
<circle cx="531.5" cy="352.0" r="2"/>
<circle cx="534.3" cy="347.6" r="2"/>
<circle cx="527.8" cy="345.7" r="2"/>
<circle cx="532.5" cy="324.0" r="2"/>
<circle cx="537.0" cy="317.7" r="2"/>
<circle cx="536.6" cy="341.5" r="2"/>
<circle cx="537.3" cy="331.8" r="2"/>
<circle cx="542.2" cy="339.4" r="2"/>
<circle cx="529.1" cy="329.7" r="2"/>
<circle cx="545.9" cy="345.7" r="2"/>
<circle cx="542.8" cy="319.1" r="2"/>
<circle cx="539.6" cy="312.6" r="2"/>
<circle cx="543.9" cy="308.8" r="2"/>
<circle cx="543.3" cy="345.9" r="2"/>
<circle cx="531.8" cy="327.6" r="2"/>
<circle cx="530.5" cy="338.2" r="2"/>
<circle cx="539.7" cy="330.0" r="2"/>
<circle cx="523.0" cy="348.4" r="2"/>
<circle cx="541.6" cy="322.7" r="2"/>
<circle cx="534.8" cy="326.9" r="2"/>
<circle cx="529.1" cy="329.9" r="2"/>
<circle cx="542.5" cy="333.7" r="2"/>
<circle cx="539.3" cy="345.2" r="2"/>
<circle cx="538.9" cy="328.6" r="2"/>
<circle cx="525.6" cy="345.2" r="2"/>
<circle cx="539.5" cy="333.7" r="2"/>
<circle cx="540.4" cy="322.0" r="2"/>
<circle cx="549.4" cy="352.2" r="2"/>
<circle cx="524.7" cy="345.4" r="2"/>
<circle cx="543.1" cy="323.2" r="2"/>
<circle cx="540.4" cy="349.7" r="2"/>
<circle cx="530.6" cy="336.5" r="2"/>
<circle cx="541.9" cy="327.8" r="2"/>
<circle cx="539.3" cy="331.7" r="2"/>
<circle cx="527.1" cy="336.0" r="2"/>
<circle cx="543.5" cy="339.9" r="2"/>
<circle cx="535.4" cy="350.6" r="2"/>
<circle cx="535.7" cy="349.5" r="2"/>
<circle cx="521.5" cy="344.2" r="2"/>
<circle cx="525.1" cy="346.6" r="2"/>
<circle cx="548.3" cy="350.7" r="2"/>
<circle cx="543.2" cy="310.7" r="2"/>
<circle cx="544.2" cy="316.1" r="2"/>
<circle cx="542.1" cy="330.3" r="2"/>
<circle cx="537.5" cy="350.0" r="2"/>
<circle cx="542.3" cy="327.8" r="2"/>
<circle cx="547.9" cy="351.5" r="2"/>
<circle cx="547.2" cy="351.0" r="2"/>
<circle cx="528.7" cy="335.4" r="2"/>
<circle cx="541.3" cy="313.7" r="2"/>
<circle cx="523.3" cy="342.4" r="2"/>
<circle cx="540.5" cy="322.3" r="2"/>
<circle cx="542.0" cy="325.2" r="2"/>
<circle cx="531.9" cy="338.6" r="2"/>
<circle cx="549.4" cy="349.3" r="2"/>
<circle cx="548.6" cy="350.5" r="2"/>
<circle cx="542.8" cy="310.3" r="2"/>
<circle cx="532.0" cy="347.4" r="2"/>
<circle cx="545.6" cy="349.3" r="2"/>
<circle cx="546.1" cy="350.1" r="2"/>
<circle cx="532.3" cy="328.8" r="2"/>
<circle cx="536.9" cy="319.7" r="2"/>
<circle cx="531.6" cy="326.4" r="2"/>
<circle cx="524.3" cy="343.3" r="2"/>
<circle cx="535.1" cy="321.8" r="2"/>
<circle cx="541.5" cy="322.0" r="2"/>
<circle cx="530.4" cy="337.6" r="2"/>
<circle cx="535.1" cy="343.9" r="2"/>
<circle cx="530.5" cy="346.3" r="2"/>
<circle cx="531.5" cy="329.1" r="2"/>
<circle cx="536.1" cy="341.9" r="2"/>
<circle cx="535.6" cy="330.9" r="2"/>
<circle cx="534.8" cy="330.8" r="2"/>
<circle cx="541.2" cy="323.5" r="2"/>
<circle cx="539.1" cy="326.8" r="2"/>
<circle cx="537.9" cy="337.2" r="2"/>
<circle cx="551.5" cy="350.2" r="2"/>
<circle cx="533.8" cy="334.6" r="2"/>
<circle cx="537.6" cy="321.3" r="2"/>
<circle cx="532.9" cy="332.5" r="2"/>
<circle cx="525.4" cy="346.8" r="2"/>
<circle cx="538.9" cy="326.7" r="2"/>
<circle cx="527.7" cy="341.9" r="2"/>
<circle cx="538.2" cy="330.5" r="2"/>
<circle cx="541.2" cy="333.0" r="2"/>
<circle cx="541.8" cy="327.0" r="2"/>
<circle cx="540.8" cy="345.6" r="2"/>
<circle cx="535.3" cy="336.5" r="2"/>
<circle cx="540.2" cy="341.8" r="2"/>
<circle cx="527.9" cy="337.8" r="2"/>
<circle cx="540.1" cy="317.1" r="2"/>
<circle cx="531.2" cy="330.1" r="2"/>
<circle cx="540.3" cy="339.9" r="2"/>
<circle cx="543.9" cy="311.3" r="2"/>
<circle cx="548.3" cy="347.4" r="2"/>
<circle cx="529.6" cy="341.2" r="2"/>
<circle cx="538.8" cy="325.7" r="2"/>
<circle cx="536.3" cy="326.7" r="2"/>
<circle cx="539.1" cy="316.5" r="2"/>
<circle cx="542.7" cy="319.2" r="2"/>
<circle cx="539.9" cy="344.7" r="2"/>
<circle cx="541.3" cy="338.6" r="2"/>
<circle cx="534.7" cy="328.4" r="2"/>
<circle cx="530.2" cy="333.7" r="2"/>
<circle cx="533.0" cy="324.0" r="2"/>
<circle cx="530.9" cy="335.4" r="2"/>
<circle cx="534.1" cy="328.4" r="2"/>
<circle cx="537.7" cy="324.2" r="2"/>
<circle cx="532.1" cy="330.7" r="2"/>
<circle cx="538.8" cy="343.7" r="2"/>
<circle cx="532.6" cy="343.6" r="2"/>
<circle cx="536.5" cy="318.2" r="2"/>
<circle cx="540.8" cy="332.4" r="2"/>
<circle cx="547.9" cy="347.3" r="2"/>
<circle cx="535.6" cy="344.7" r="2"/>
<circle cx="544.7" cy="349.1" r="2"/>
<circle cx="535.0" cy="335.5" r="2"/>
<circle cx="535.2" cy="332.0" r="2"/>
<circle cx="536.7" cy="329.8" r="2"/>
<circle cx="527.2" cy="340.3" r="2"/>
<circle cx="532.4" cy="327.0" r="2"/>
<circle cx="526.6" cy="335.8" r="2"/>
<circle cx="535.6" cy="351.5" r="2"/>
<circle cx="539.7" cy="349.1" r="2"/>
<circle cx="538.3" cy="323.7" r="2"/>
<circle cx="528.4" cy="350.6" r="2"/>
<circle cx="543.3" cy="317.9" r="2"/>
<circle cx="537.5" cy="325.8" r="2"/>
<circle cx="541.6" cy="324.2" r="2"/>
<circle cx="550.5" cy="350.8" r="2"/>
<circle cx="529.1" cy="335.2" r="2"/>
<circle cx="540.2" cy="343.5" r="2"/>
<circle cx="542.2" cy="312.8" r="2"/>
<circle cx="519.8" cy="350.5" r="2"/>
<circle cx="536.8" cy="326.9" r="2"/>
<circle cx="535.3" cy="335.5" r="2"/>
<circle cx="539.9" cy="347.0" r="2"/>
<circle cx="535.7" cy="330.1" r="2"/>
<circle cx="538.5" cy="336.3" r="2"/>
<circle cx="536.6" cy="329.8" r="2"/>
<circle cx="536.2" cy="332.8" r="2"/>
<circle cx="533.5" cy="336.9" r="2"/>
<circle cx="533.1" cy="337.2" r="2"/>
<circle cx="528.6" cy="336.9" r="2"/>
<circle cx="536.7" cy="336.0" r="2"/>
<circle cx="549.7" cy="348.8" r="2"/>
<circle cx="541.6" cy="337.2" r="2"/>
<circle cx="540.0" cy="332.9" r="2"/>
<circle cx="535.3" cy="336.7" r="2"/>
<circle cx="536.4" cy="321.3" r="2"/>
<circle cx="537.4" cy="324.5" r="2"/>
<circle cx="531.8" cy="331.0" r="2"/>
<circle cx="538.7" cy="326.4" r="2"/>
<circle cx="540.5" cy="337.3" r="2"/>
<circle cx="530.7" cy="351.3" r="2"/>
<circle cx="542.7" cy="314.8" r="2"/>
<circle cx="543.3" cy="309.5" r="2"/>
<circle cx="543.9" cy="345.0" r="2"/>
<circle cx="540.4" cy="349.7" r="2"/>
<circle cx="536.0" cy="340.8" r="2"/>
<circle cx="543.1" cy="344.1" r="2"/>
<circle cx="531.8" cy="342.6" r="2"/>
<circle cx="540.3" cy="333.4" r="2"/>
<circle cx="533.1" cy="344.1" r="2"/>
<circle cx="538.9" cy="347.7" r="2"/>
<circle cx="541.4" cy="343.7" r="2"/>
<circle cx="540.7" cy="328.4" r="2"/>
<circle cx="534.1" cy="339.3" r="2"/>
<circle cx="538.6" cy="317.6" r="2"/>
<circle cx="536.7" cy="335.5" r="2"/>
<circle cx="540.4" cy="330.0" r="2"/>
<circle cx="530.9" cy="346.4" r="2"/>
<circle cx="530.0" cy="338.0" r="2"/>
<circle cx="538.9" cy="333.1" r="2"/>
<circle cx="541.3" cy="318.6" r="2"/>
<circle cx="535.6" cy="336.5" r="2"/>
<circle cx="540.4" cy="332.1" r="2"/>
<circle cx="542.3" cy="328.2" r="2"/>
<circle cx="543.7" cy="348.7" r="2"/>
<circle cx="541.0" cy="313.3" r="2"/>
<circle cx="541.8" cy="327.1" r="2"/>
<circle cx="543.9" cy="342.0" r="2"/>
<circle cx="529.8" cy="332.8" r="2"/>
<circle cx="542.0" cy="324.2" r="2"/>
<circle cx="527.6" cy="342.4" r="2"/>
<circle cx="541.9" cy="319.9" r="2"/>
<circle cx="539.4" cy="339.0" r="2"/>
<circle cx="536.8" cy="328.5" r="2"/>
<circle cx="537.8" cy="347.6" r="2"/>
<circle cx="527.6" cy="340.8" r="2"/>
<circle cx="529.0" cy="332.6" r="2"/>
<circle cx="541.3" cy="344.4" r="2"/>
<circle cx="532.8" cy="348.5" r="2"/>
<circle cx="527.4" cy="335.2" r="2"/>
<circle cx="528.7" cy="339.9" r="2"/>
<circle cx="543.8" cy="351.6" r="2"/>
<circle cx="536.3" cy="343.6" r="2"/>
<circle cx="528.5" cy="335.9" r="2"/>
<circle cx="543.4" cy="315.6" r="2"/>
<circle cx="537.1" cy="325.2" r="2"/>
<circle cx="535.9" cy="331.1" r="2"/>
<circle cx="537.5" cy="346.3" r="2"/>
<circle cx="528.7" cy="334.3" r="2"/>
<circle cx="530.3" cy="330.7" r="2"/>
<circle cx="530.2" cy="327.7" r="2"/>
<circle cx="536.3" cy="326.3" r="2"/>
<circle cx="541.7" cy="332.6" r="2"/>
<circle cx="542.4" cy="312.6" r="2"/>
<circle cx="535.2" cy="347.7" r="2"/>
<circle cx="527.9" cy="342.7" r="2"/>
<circle cx="535.1" cy="327.2" r="2"/>
<circle cx="539.8" cy="319.0" r="2"/>
<circle cx="541.4" cy="315.7" r="2"/>
<circle cx="524.3" cy="340.3" r="2"/>
<circle cx="537.2" cy="320.0" r="2"/>
<circle cx="542.6" cy="339.9" r="2"/>
<circle cx="541.0" cy="341.9" r="2"/>
<circle cx="535.0" cy="349.5" r="2"/>
<circle cx="526.7" cy="345.0" r="2"/>
<circle cx="539.2" cy="342.5" r="2"/>
<circle cx="523.7" cy="343.0" r="2"/>
<circle cx="543.4" cy="321.2" r="2"/>
<circle cx="527.7" cy="334.9" r="2"/>
<circle cx="537.4" cy="343.6" r="2"/>
<circle cx="523.6" cy="345.5" r="2"/>
<circle cx="536.3" cy="350.4" r="2"/>
<circle cx="537.6" cy="340.8" r="2"/>
<circle cx="546.0" cy="345.0" r="2"/>
<circle cx="548.5" cy="350.9" r="2"/>
<circle cx="528.9" cy="339.8" r="2"/>
<circle cx="537.1" cy="327.3" r="2"/>
<circle cx="533.3" cy="341.5" r="2"/>
<circle cx="539.6" cy="337.5" r="2"/>
<circle cx="540.1" cy="318.7" r="2"/>
<circle cx="537.3" cy="321.1" r="2"/>
<circle cx="526.2" cy="348.6" r="2"/>
<circle cx="539.8" cy="313.6" r="2"/>
<circle cx="526.9" cy="341.8" r="2"/>
<circle cx="532.2" cy="342.0" r="2"/>
<circle cx="541.5" cy="345.1" r="2"/>
<circle cx="535.7" cy="341.4" r="2"/>
<circle cx="540.6" cy="324.6" r="2"/>
<circle cx="539.5" cy="346.0" r="2"/>
<circle cx="535.8" cy="336.9" r="2"/>
<circle cx="527.3" cy="346.7" r="2"/>
<circle cx="541.7" cy="321.0" r="2"/>
<circle cx="527.1" cy="338.8" r="2"/>
<circle cx="541.9" cy="338.0" r="2"/>
<circle cx="535.3" cy="344.7" r="2"/>
<circle cx="532.8" cy="350.0" r="2"/>
<circle cx="536.1" cy="348.6" r="2"/>
<circle cx="537.2" cy="347.1" r="2"/>
<circle cx="528.7" cy="334.6" r="2"/>
<circle cx="528.0" cy="334.3" r="2"/>
<circle cx="528.0" cy="342.1" r="2"/>
<circle cx="529.8" cy="338.8" r="2"/>
<circle cx="527.9" cy="336.9" r="2"/>
<circle cx="536.8" cy="347.1" r="2"/>
<circle cx="524.9" cy="341.2" r="2"/>
<circle cx="541.8" cy="309.0" r="2"/>
<circle cx="542.3" cy="350.4" r="2"/>
<circle cx="541.1" cy="349.7" r="2"/>
<circle cx="536.5" cy="322.2" r="2"/>
<circle cx="530.1" cy="351.0" r="2"/>
<circle cx="524.8" cy="350.4" r="2"/>
<circle cx="529.7" cy="337.0" r="2"/>
<circle cx="541.9" cy="342.0" r="2"/>
<circle cx="533.7" cy="327.1" r="2"/>
<circle cx="544.0" cy="313.2" r="2"/>
<circle cx="541.9" cy="346.3" r="2"/>
<circle cx="534.8" cy="332.6" r="2"/>
<circle cx="544.0" cy="341.0" r="2"/>
<circle cx="540.5" cy="318.6" r="2"/>
<circle cx="531.2" cy="332.1" r="2"/>
<circle cx="545.7" cy="350.1" r="2"/>
<circle cx="533.4" cy="325.1" r="2"/>
<circle cx="533.6" cy="328.4" r="2"/>
<circle cx="536.5" cy="337.5" r="2"/>
<circle cx="526.9" cy="344.8" r="2"/>
<circle cx="532.8" cy="329.1" r="2"/>
<circle cx="534.5" cy="329.0" r="2"/>
<circle cx="542.1" cy="324.4" r="2"/>
<circle cx="542.1" cy="347.3" r="2"/>
<circle cx="527.8" cy="336.7" r="2"/>
<circle cx="534.3" cy="330.5" r="2"/>
<circle cx="521.3" cy="343.8" r="2"/>
<circle cx="519.6" cy="348.0" r="2"/>
<circle cx="538.3" cy="340.3" r="2"/>
<circle cx="538.9" cy="327.3" r="2"/>
<circle cx="526.7" cy="335.3" r="2"/>
<circle cx="543.0" cy="327.6" r="2"/>
<circle cx="535.3" cy="335.2" r="2"/>
<circle cx="535.5" cy="350.0" r="2"/>
<circle cx="531.1" cy="344.5" r="2"/>
<circle cx="534.2" cy="325.9" r="2"/>
<circle cx="543.6" cy="311.1" r="2"/>
<circle cx="541.9" cy="325.4" r="2"/>
<circle cx="536.4" cy="330.0" r="2"/>
<circle cx="531.5" cy="332.6" r="2"/>
<circle cx="540.8" cy="322.4" r="2"/>
<circle cx="535.7" cy="320.4" r="2"/>
<circle cx="541.8" cy="318.3" r="2"/>
<circle cx="539.2" cy="314.9" r="2"/>
<circle cx="524.4" cy="340.8" r="2"/>
<circle cx="519.1" cy="349.7" r="2"/>
<circle cx="528.1" cy="350.8" r="2"/>
<circle cx="541.6" cy="333.0" r="2"/>
<circle cx="536.4" cy="339.3" r="2"/>
<circle cx="536.8" cy="338.0" r="2"/>
<circle cx="534.4" cy="324.6" r="2"/>
<circle cx="540.5" cy="317.8" r="2"/>
<circle cx="526.5" cy="343.8" r="2"/>
<circle cx="535.1" cy="325.2" r="2"/>
<circle cx="540.6" cy="335.3" r="2"/>
<circle cx="531.3" cy="327.2" r="2"/>
<circle cx="550.0" cy="348.3" r="2"/>
<circle cx="540.3" cy="350.1" r="2"/>
<circle cx="540.9" cy="324.6" r="2"/>
<circle cx="530.8" cy="350.1" r="2"/>
<circle cx="532.4" cy="330.6" r="2"/>
<circle cx="535.7" cy="336.2" r="2"/>
<circle cx="536.7" cy="323.5" r="2"/>
<circle cx="540.7" cy="325.5" r="2"/>
<circle cx="543.1" cy="325.3" r="2"/>
<circle cx="534.0" cy="322.1" r="2"/>
<circle cx="543.2" cy="318.7" r="2"/>
<circle cx="539.8" cy="323.3" r="2"/>
<circle cx="534.1" cy="329.6" r="2"/>
<circle cx="538.6" cy="333.9" r="2"/>
<circle cx="532.7" cy="326.5" r="2"/>
<circle cx="542.3" cy="314.3" r="2"/>
<circle cx="526.1" cy="352.2" r="2"/>
<circle cx="521.7" cy="346.2" r="2"/>
<circle cx="535.2" cy="346.7" r="2"/>
<circle cx="530.1" cy="327.8" r="2"/>
<circle cx="526.8" cy="343.7" r="2"/>
<circle cx="537.7" cy="344.1" r="2"/>
<circle cx="543.0" cy="309.2" r="2"/>
<circle cx="525.1" cy="338.3" r="2"/>
<circle cx="540.6" cy="338.0" r="2"/>
<circle cx="540.2" cy="338.7" r="2"/>
<circle cx="534.1" cy="335.5" r="2"/>
<circle cx="529.1" cy="341.5" r="2"/>
<circle cx="542.0" cy="343.7" r="2"/>
<circle cx="538.7" cy="329.4" r="2"/>
<circle cx="541.8" cy="347.9" r="2"/>
<circle cx="535.7" cy="329.6" r="2"/>
<circle cx="547.3" cy="349.9" r="2"/>
<circle cx="547.9" cy="347.6" r="2"/>
<circle cx="534.7" cy="327.7" r="2"/>
<circle cx="527.7" cy="341.8" r="2"/>
<circle cx="535.0" cy="349.7" r="2"/>
<circle cx="530.7" cy="337.5" r="2"/>
<circle cx="542.4" cy="330.6" r="2"/>
<circle cx="538.8" cy="323.6" r="2"/>
<circle cx="542.4" cy="310.9" r="2"/>
<circle cx="537.1" cy="319.6" r="2"/>
<circle cx="537.0" cy="346.7" r="2"/>
<circle cx="532.1" cy="328.3" r="2"/>
<circle cx="542.1" cy="324.7" r="2"/>
<circle cx="536.8" cy="339.5" r="2"/>
<circle cx="527.4" cy="337.6" r="2"/>
<circle cx="551.9" cy="350.0" r="2"/>
<circle cx="525.2" cy="340.1" r="2"/>
<circle cx="528.3" cy="345.0" r="2"/>
<circle cx="541.1" cy="317.6" r="2"/>
<circle cx="540.0" cy="318.8" r="2"/>
<circle cx="538.4" cy="349.7" r="2"/>
<circle cx="529.6" cy="338.3" r="2"/>
<circle cx="542.7" cy="339.1" r="2"/>
<circle cx="543.5" cy="323.0" r="2"/>
<circle cx="537.5" cy="326.1" r="2"/>
<circle cx="531.9" cy="350.8" r="2"/>
<circle cx="536.3" cy="320.8" r="2"/>
<circle cx="540.2" cy="342.2" r="2"/>
<circle cx="520.7" cy="348.2" r="2"/>
<circle cx="534.7" cy="322.3" r="2"/>
<circle cx="543.2" cy="338.8" r="2"/>
<circle cx="537.9" cy="325.9" r="2"/>
<circle cx="546.8" cy="349.6" r="2"/>
<circle cx="539.4" cy="347.0" r="2"/>
<circle cx="543.9" cy="346.0" r="2"/>
<circle cx="539.9" cy="325.5" r="2"/>
<circle cx="534.8" cy="323.4" r="2"/>
<circle cx="533.1" cy="332.2" r="2"/>
<circle cx="545.5" cy="344.8" r="2"/>
<circle cx="535.1" cy="327.3" r="2"/>
<circle cx="524.4" cy="351.2" r="2"/>
<circle cx="531.0" cy="331.9" r="2"/>
<circle cx="539.8" cy="319.7" r="2"/>
<circle cx="534.8" cy="329.1" r="2"/>
<circle cx="539.5" cy="346.6" r="2"/>
<circle cx="537.7" cy="319.7" r="2"/>
<circle cx="531.4" cy="342.6" r="2"/>
<circle cx="539.8" cy="325.5" r="2"/>
<circle cx="536.4" cy="334.6" r="2"/>
<circle cx="549.4" cy="350.3" r="2"/>
<circle cx="539.7" cy="315.9" r="2"/>
<circle cx="529.7" cy="350.1" r="2"/>
<circle cx="542.6" cy="339.9" r="2"/>
<circle cx="529.8" cy="351.6" r="2"/>
<circle cx="528.7" cy="335.4" r="2"/>
<circle cx="521.5" cy="345.5" r="2"/>
<circle cx="531.7" cy="346.4" r="2"/>
<circle cx="530.4" cy="347.5" r="2"/>
<circle cx="533.8" cy="324.0" r="2"/>
<circle cx="534.4" cy="336.2" r="2"/>
<circle cx="537.4" cy="337.8" r="2"/>
<circle cx="536.5" cy="337.6" r="2"/>
<circle cx="535.4" cy="320.9" r="2"/>
<circle cx="526.4" cy="340.8" r="2"/>
<circle cx="543.1" cy="328.8" r="2"/>
<circle cx="538.7" cy="337.6" r="2"/>
<circle cx="537.8" cy="319.0" r="2"/>
<circle cx="548.5" cy="349.6" r="2"/>
<circle cx="540.5" cy="319.9" r="2"/>
<circle cx="541.5" cy="318.6" r="2"/>
<circle cx="538.6" cy="342.5" r="2"/>
<circle cx="536.5" cy="336.4" r="2"/>
<circle cx="540.9" cy="310.9" r="2"/>
<circle cx="533.9" cy="325.9" r="2"/>
<circle cx="529.4" cy="329.6" r="2"/>
<circle cx="538.8" cy="335.1" r="2"/>
<circle cx="538.8" cy="348.0" r="2"/>
<circle cx="533.0" cy="345.9" r="2"/>
<circle cx="540.9" cy="319.4" r="2"/>
<circle cx="544.0" cy="340.6" r="2"/>
<circle cx="529.0" cy="343.7" r="2"/>
<circle cx="533.7" cy="327.3" r="2"/>
<circle cx="537.9" cy="346.4" r="2"/>
<circle cx="543.4" cy="339.2" r="2"/>
<circle cx="527.6" cy="333.0" r="2"/>
<circle cx="530.9" cy="328.6" r="2"/>
<circle cx="525.9" cy="338.5" r="2"/>
<circle cx="537.7" cy="345.0" r="2"/>
<circle cx="541.2" cy="323.9" r="2"/>
<circle cx="539.6" cy="312.2" r="2"/>
<circle cx="535.9" cy="328.8" r="2"/>
<circle cx="551.7" cy="351.2" r="2"/>
<circle cx="528.4" cy="332.8" r="2"/>
<circle cx="537.2" cy="323.5" r="2"/>
<circle cx="535.6" cy="325.2" r="2"/>
<circle cx="533.2" cy="334.0" r="2"/>
<circle cx="534.8" cy="345.9" r="2"/>
<circle cx="539.9" cy="348.7" r="2"/>
<circle cx="534.0" cy="339.7" r="2"/>
<circle cx="531.2" cy="339.2" r="2"/>
<circle cx="542.7" cy="345.3" r="2"/>
<circle cx="530.7" cy="332.6" r="2"/>
<circle cx="532.7" cy="323.6" r="2"/>
<circle cx="535.5" cy="324.7" r="2"/>
<circle cx="536.4" cy="328.5" r="2"/>
<circle cx="529.9" cy="328.4" r="2"/>
<circle cx="534.6" cy="333.3" r="2"/>
<circle cx="544.6" cy="344.1" r="2"/>
<circle cx="539.8" cy="312.3" r="2"/>
<circle cx="532.9" cy="347.7" r="2"/>
<circle cx="520.1" cy="348.4" r="2"/>
<circle cx="536.3" cy="334.5" r="2"/>
<circle cx="537.4" cy="323.6" r="2"/>
<circle cx="526.7" cy="343.3" r="2"/>
<circle cx="536.9" cy="341.9" r="2"/>
<circle cx="523.9" cy="340.0" r="2"/>
<circle cx="540.9" cy="327.0" r="2"/>
<circle cx="534.1" cy="328.3" r="2"/>
<circle cx="538.2" cy="319.7" r="2"/>
<circle cx="526.9" cy="337.7" r="2"/>
<circle cx="538.8" cy="344.2" r="2"/>
<circle cx="541.6" cy="317.8" r="2"/>
<circle cx="536.5" cy="342.8" r="2"/>
<circle cx="529.9" cy="347.7" r="2"/>
<circle cx="527.2" cy="343.0" r="2"/>
<circle cx="536.8" cy="334.6" r="2"/>
<circle cx="544.4" cy="341.4" r="2"/>
<circle cx="523.4" cy="351.9" r="2"/>
<circle cx="546.4" cy="348.8" r="2"/>
<circle cx="540.9" cy="327.0" r="2"/>
<circle cx="546.9" cy="349.1" r="2"/>
<circle cx="524.4" cy="343.0" r="2"/>
<circle cx="522.1" cy="351.2" r="2"/>
<circle cx="536.7" cy="342.3" r="2"/>
<circle cx="528.0" cy="349.1" r="2"/>
<circle cx="534.0" cy="329.8" r="2"/>
<circle cx="535.0" cy="320.5" r="2"/>
<circle cx="540.5" cy="340.0" r="2"/>
<circle cx="537.4" cy="316.5" r="2"/>
<circle cx="543.1" cy="316.6" r="2"/>
<circle cx="528.6" cy="333.9" r="2"/>
<circle cx="537.9" cy="329.3" r="2"/>
<circle cx="534.0" cy="324.5" r="2"/>
<circle cx="544.0" cy="343.0" r="2"/>
<circle cx="524.9" cy="343.9" r="2"/>
<circle cx="535.6" cy="339.9" r="2"/>
<circle cx="527.4" cy="346.5" r="2"/>
<circle cx="534.8" cy="334.1" r="2"/>
<circle cx="527.9" cy="345.2" r="2"/>
<circle cx="539.3" cy="332.9" r="2"/>
<circle cx="530.3" cy="336.6" r="2"/>
<circle cx="520.2" cy="349.7" r="2"/>
<circle cx="542.9" cy="312.9" r="2"/>
<circle cx="527.3" cy="341.3" r="2"/>
<circle cx="535.1" cy="352.1" r="2"/>
<circle cx="537.9" cy="329.6" r="2"/>
<circle cx="524.8" cy="340.6" r="2"/>
<circle cx="528.4" cy="334.8" r="2"/>
<circle cx="529.4" cy="333.6" r="2"/>
<circle cx="536.7" cy="322.8" r="2"/>
<circle cx="532.5" cy="342.7" r="2"/>
<circle cx="542.1" cy="311.0" r="2"/>
<circle cx="543.2" cy="318.7" r="2"/>
<circle cx="544.1" cy="339.6" r="2"/>
<circle cx="540.3" cy="315.9" r="2"/>
<circle cx="543.6" cy="341.3" r="2"/>
<circle cx="536.7" cy="350.8" r="2"/>
<circle cx="536.3" cy="326.5" r="2"/>
<circle cx="522.8" cy="349.4" r="2"/>
<circle cx="539.4" cy="340.4" r="2"/>
<circle cx="550.1" cy="351.0" r="2"/>
<circle cx="541.9" cy="342.8" r="2"/>
<circle cx="524.6" cy="341.7" r="2"/>
<circle cx="534.2" cy="341.7" r="2"/>
<circle cx="526.7" cy="342.4" r="2"/>
<circle cx="524.9" cy="345.2" r="2"/>
<circle cx="531.9" cy="333.9" r="2"/>
<circle cx="531.6" cy="347.0" r="2"/>
<circle cx="527.9" cy="348.7" r="2"/>
<circle cx="543.4" cy="344.2" r="2"/>
<circle cx="533.9" cy="343.4" r="2"/>
<circle cx="541.4" cy="309.4" r="2"/>
<circle cx="542.2" cy="346.2" r="2"/>
<circle cx="524.3" cy="341.9" r="2"/>
<circle cx="544.2" cy="316.8" r="2"/>
<circle cx="532.1" cy="333.3" r="2"/>
<circle cx="540.3" cy="327.8" r="2"/>
<circle cx="542.2" cy="329.7" r="2"/>
<circle cx="528.5" cy="346.9" r="2"/>
<circle cx="536.7" cy="329.4" r="2"/>
<circle cx="536.7" cy="334.3" r="2"/>
<circle cx="532.8" cy="346.6" r="2"/>
<circle cx="540.9" cy="330.3" r="2"/>
<circle cx="524.8" cy="340.6" r="2"/>
<circle cx="536.0" cy="337.9" r="2"/>
<circle cx="543.0" cy="320.9" r="2"/>
<circle cx="536.2" cy="340.8" r="2"/>
<circle cx="522.4" cy="351.3" r="2"/>
<circle cx="539.1" cy="322.6" r="2"/>
<circle cx="549.3" cy="349.8" r="2"/>
<circle cx="528.4" cy="344.3" r="2"/>
<circle cx="541.6" cy="322.4" r="2"/>
<circle cx="534.4" cy="325.6" r="2"/>
<circle cx="524.9" cy="347.6" r="2"/>
<circle cx="527.7" cy="350.9" r="2"/>
<circle cx="540.1" cy="320.7" r="2"/>
<circle cx="531.1" cy="328.7" r="2"/>
<circle cx="530.3" cy="341.4" r="2"/>
<circle cx="538.1" cy="318.4" r="2"/>
<circle cx="446.9" cy="349.4" r="2"/>
<circle cx="538.9" cy="351.1" r="2"/>
<circle cx="453.7" cy="351.7" r="2"/>
<circle cx="550.0" cy="351.5" r="2"/>
<circle cx="455.4" cy="352.1" r="2"/>
<circle cx="537.2" cy="350.7" r="2"/>
<circle cx="442.0" cy="350.1" r="2"/>
<circle cx="530.4" cy="349.9" r="2"/>
<circle cx="444.3" cy="349.6" r="2"/>
<circle cx="521.5" cy="350.8" r="2"/>
<circle cx="449.8" cy="351.7" r="2"/>
<circle cx="542.6" cy="352.1" r="2"/>
<circle cx="466.0" cy="349.4" r="2"/>
<circle cx="540.4" cy="352.1" r="2"/>
<circle cx="437.8" cy="349.5" r="2"/>
<circle cx="518.7" cy="349.6" r="2"/>
<circle cx="467.2" cy="351.9" r="2"/>
<circle cx="522.9" cy="349.0" r="2"/>
<circle cx="438.6" cy="351.9" r="2"/>
<circle cx="529.0" cy="350.9" r="2"/>
<circle cx="447.2" cy="350.4" r="2"/>
<circle cx="539.6" cy="352.1" r="2"/>
<circle cx="437.2" cy="350.4" r="2"/>
<circle cx="542.3" cy="351.6" r="2"/>
<circle cx="456.3" cy="349.9" r="2"/>
<circle cx="518.9" cy="349.8" r="2"/>
<circle cx="454.0" cy="352.0" r="2"/>
<circle cx="538.0" cy="351.0" r="2"/>
<circle cx="448.0" cy="351.5" r="2"/>
<circle cx="551.0" cy="350.6" r="2"/>
<circle cx="456.9" cy="350.8" r="2"/>
<circle cx="526.6" cy="352.0" r="2"/>
<circle cx="437.5" cy="350.4" r="2"/>
<circle cx="549.4" cy="350.9" r="2"/>
<circle cx="448.3" cy="349.7" r="2"/>
<circle cx="530.7" cy="351.5" r="2"/>
<circle cx="458.2" cy="351.0" r="2"/>
<circle cx="550.3" cy="350.2" r="2"/>
<circle cx="444.7" cy="351.1" r="2"/>
<circle cx="549.6" cy="351.3" r="2"/>
<circle cx="464.2" cy="351.7" r="2"/>
<circle cx="518.8" cy="351.1" r="2"/>
<circle cx="443.4" cy="351.2" r="2"/>
<circle cx="544.8" cy="351.7" r="2"/>
<circle cx="441.5" cy="350.2" r="2"/>
<circle cx="523.4" cy="351.7" r="2"/>
<circle cx="459.0" cy="350.8" r="2"/>
<circle cx="536.7" cy="351.4" r="2"/>
<circle cx="450.4" cy="349.6" r="2"/>
<circle cx="550.4" cy="351.6" r="2"/>
<circle cx="451.8" cy="350.9" r="2"/>
<circle cx="525.0" cy="349.8" r="2"/>
<circle cx="436.8" cy="351.2" r="2"/>
<circle cx="545.6" cy="349.9" r="2"/>
<circle cx="441.6" cy="350.4" r="2"/>
<circle cx="527.6" cy="351.5" r="2"/>
<circle cx="443.4" cy="349.9" r="2"/>
<circle cx="531.8" cy="351.8" r="2"/>
<circle cx="459.2" cy="349.4" r="2"/>
<circle cx="522.8" cy="349.2" r="2"/>
<circle cx="457.7" cy="351.2" r="2"/>
<circle cx="523.7" cy="349.9" r="2"/>
<circle cx="464.0" cy="349.2" r="2"/>
<circle cx="542.9" cy="351.7" r="2"/>
<circle cx="457.2" cy="350.1" r="2"/>
<circle cx="543.2" cy="352.0" r="2"/>
<circle cx="454.0" cy="351.1" r="2"/>
<circle cx="538.4" cy="352.1" r="2"/>
<circle cx="468.1" cy="351.2" r="2"/>
<circle cx="534.6" cy="349.4" r="2"/>
<circle cx="451.6" cy="350.4" r="2"/>
<circle cx="541.1" cy="350.6" r="2"/>
<circle cx="443.2" cy="349.7" r="2"/>
<circle cx="543.5" cy="350.9" r="2"/>
<circle cx="461.2" cy="349.6" r="2"/>
<circle cx="533.2" cy="349.4" r="2"/>
<circle cx="440.9" cy="350.2" r="2"/>
<circle cx="527.3" cy="352.1" r="2"/>
<circle cx="438.6" cy="350.7" r="2"/>
<circle cx="521.2" cy="351.9" r="2"/>
<circle cx="438.5" cy="351.8" r="2"/>
<circle cx="528.7" cy="350.2" r="2"/>
<circle cx="438.3" cy="351.1" r="2"/>
<circle cx="520.5" cy="351.2" r="2"/>
<circle cx="453.1" cy="349.9" r="2"/>
<circle cx="540.1" cy="351.3" r="2"/>
<circle cx="437.2" cy="352.0" r="2"/>
<circle cx="547.8" cy="351.6" r="2"/>
<circle cx="466.4" cy="350.1" r="2"/>
<circle cx="522.4" cy="350.4" r="2"/>
<circle cx="466.2" cy="351.2" r="2"/>
<circle cx="521.7" cy="351.5" r="2"/>
<circle cx="462.5" cy="350.5" r="2"/>
<circle cx="540.1" cy="351.9" r="2"/>
<circle cx="449.4" cy="351.6" r="2"/>
<circle cx="537.4" cy="351.6" r="2"/>
<circle cx="463.8" cy="349.5" r="2"/>
<circle cx="524.4" cy="350.9" r="2"/>
<circle cx="446.8" cy="350.0" r="2"/>
<circle cx="518.0" cy="350.5" r="2"/>
<circle cx="468.9" cy="350.3" r="2"/>
<circle cx="525.3" cy="350.2" r="2"/>
<circle cx="455.4" cy="349.1" r="2"/>
<circle cx="523.8" cy="350.7" r="2"/>
<circle cx="447.4" cy="351.3" r="2"/>
<circle cx="522.4" cy="349.2" r="2"/>
<circle cx="466.0" cy="351.5" r="2"/>
<circle cx="539.9" cy="351.0" r="2"/>
<circle cx="441.5" cy="349.5" r="2"/>
<circle cx="533.1" cy="351.3" r="2"/>
<circle cx="450.7" cy="350.7" r="2"/>
<circle cx="520.7" cy="352.1" r="2"/>
<circle cx="443.1" cy="350.3" r="2"/>
<circle cx="545.4" cy="352.1" r="2"/>
<circle cx="447.5" cy="350.5" r="2"/>
<circle cx="546.5" cy="350.6" r="2"/>
<circle cx="439.0" cy="349.7" r="2"/>
<circle cx="529.5" cy="349.0" r="2"/>
<circle cx="437.2" cy="351.9" r="2"/>
<circle cx="546.4" cy="351.7" r="2"/>
<circle cx="445.3" cy="350.1" r="2"/>
<circle cx="549.9" cy="349.2" r="2"/>
<circle cx="449.7" cy="350.2" r="2"/>
<circle cx="543.3" cy="351.3" r="2"/>
<circle cx="468.8" cy="352.2" r="2"/>
<circle cx="538.6" cy="352.0" r="2"/>
<circle cx="455.3" cy="349.7" r="2"/>
<circle cx="535.3" cy="349.9" r="2"/>
<circle cx="465.9" cy="351.6" r="2"/>
<circle cx="521.5" cy="351.1" r="2"/>
<circle cx="456.9" cy="351.5" r="2"/>
<circle cx="523.0" cy="350.9" r="2"/>
<circle cx="438.7" cy="350.4" r="2"/>
<circle cx="530.3" cy="350.2" r="2"/>
<circle cx="448.9" cy="350.7" r="2"/>
<circle cx="521.8" cy="350.7" r="2"/>
<circle cx="437.6" cy="351.3" r="2"/>
<circle cx="519.2" cy="350.6" r="2"/>
<circle cx="435.1" cy="351.6" r="2"/>
<circle cx="550.0" cy="351.5" r="2"/>
<circle cx="450.5" cy="350.5" r="2"/>
<circle cx="543.7" cy="349.3" r="2"/>
<circle cx="447.1" cy="350.6" r="2"/>
<circle cx="523.9" cy="350.5" r="2"/>
<circle cx="446.9" cy="349.5" r="2"/>
<circle cx="538.0" cy="350.4" r="2"/>
<circle cx="439.3" cy="350.8" r="2"/>
<circle cx="525.7" cy="350.9" r="2"/>
<circle cx="445.8" cy="351.4" r="2"/>
<circle cx="538.3" cy="349.0" r="2"/>
<circle cx="446.4" cy="351.5" r="2"/>
<circle cx="529.5" cy="351.5" r="2"/>
<circle cx="464.3" cy="352.1" r="2"/>
<circle cx="543.6" cy="350.4" r="2"/>
<circle cx="451.3" cy="349.3" r="2"/>
<circle cx="528.0" cy="349.9" r="2"/>
<circle cx="462.1" cy="351.6" r="2"/>
<circle cx="539.4" cy="351.5" r="2"/>
<circle cx="449.6" cy="351.1" r="2"/>
<circle cx="530.1" cy="349.0" r="2"/>
<circle cx="452.8" cy="351.9" r="2"/>
<circle cx="534.9" cy="352.0" r="2"/>
<circle cx="448.1" cy="349.8" r="2"/>
<circle cx="523.4" cy="350.4" r="2"/>
<circle cx="445.5" cy="349.4" r="2"/>
<circle cx="528.6" cy="352.1" r="2"/>
<circle cx="461.5" cy="350.4" r="2"/>
<circle cx="526.0" cy="350.6" r="2"/>
<circle cx="446.3" cy="351.0" r="2"/>
<circle cx="527.5" cy="351.1" r="2"/>
<circle cx="461.1" cy="349.9" r="2"/>
<circle cx="525.5" cy="350.9" r="2"/>
<circle cx="454.5" cy="351.9" r="2"/>
<circle cx="545.6" cy="350.5" r="2"/>
<circle cx="451.8" cy="351.6" r="2"/>
<circle cx="537.6" cy="349.4" r="2"/>
<circle cx="448.0" cy="349.4" r="2"/>
<circle cx="540.8" cy="351.6" r="2"/>
<circle cx="456.6" cy="349.2" r="2"/>
<circle cx="531.8" cy="349.1" r="2"/>
<circle cx="458.2" cy="351.5" r="2"/>
<circle cx="524.8" cy="351.4" r="2"/>
<circle cx="436.7" cy="349.5" r="2"/>
<circle cx="549.5" cy="349.7" r="2"/>
<circle cx="457.1" cy="352.1" r="2"/>
<circle cx="544.1" cy="350.5" r="2"/>
<circle cx="449.6" cy="350.3" r="2"/>
<circle cx="523.3" cy="351.6" r="2"/>
<circle cx="452.7" cy="351.5" r="2"/>
<circle cx="534.3" cy="349.8" r="2"/>
<circle cx="443.8" cy="349.4" r="2"/>
<circle cx="542.5" cy="350.7" r="2"/>
<circle cx="448.1" cy="352.2" r="2"/>
<circle cx="530.4" cy="350.2" r="2"/>
<circle cx="442.6" cy="349.9" r="2"/>
<circle cx="526.4" cy="350.7" r="2"/>
<circle cx="449.3" cy="350.6" r="2"/>
<circle cx="546.4" cy="350.2" r="2"/>
<circle cx="455.6" cy="350.7" r="2"/>
<circle cx="550.2" cy="351.0" r="2"/>
<circle cx="466.6" cy="350.2" r="2"/>
<circle cx="524.6" cy="349.7" r="2"/>
<circle cx="462.8" cy="349.4" r="2"/>
<circle cx="527.9" cy="351.8" r="2"/>
<circle cx="437.1" cy="351.3" r="2"/>
<circle cx="531.4" cy="349.7" r="2"/>
<circle cx="467.2" cy="351.8" r="2"/>
<circle cx="525.2" cy="349.4" r="2"/>
<circle cx="453.9" cy="349.2" r="2"/>
<circle cx="550.2" cy="350.1" r="2"/>
<circle cx="445.7" cy="349.2" r="2"/>
<circle cx="534.6" cy="350.9" r="2"/>
<circle cx="439.3" cy="351.3" r="2"/>
<circle cx="535.5" cy="351.7" r="2"/>
<circle cx="466.3" cy="351.9" r="2"/>
<circle cx="532.9" cy="350.1" r="2"/>
<circle cx="456.7" cy="350.3" r="2"/>
<circle cx="533.5" cy="349.8" r="2"/>
<circle cx="440.1" cy="349.3" r="2"/>
<circle cx="539.6" cy="352.0" r="2"/>
<circle cx="468.4" cy="349.9" r="2"/>
<circle cx="525.0" cy="349.3" r="2"/>
<circle cx="438.6" cy="351.7" r="2"/>
<circle cx="529.8" cy="350.2" r="2"/>
<circle cx="441.7" cy="351.3" r="2"/>
<circle cx="524.5" cy="352.1" r="2"/>
<circle cx="435.8" cy="352.1" r="2"/>
<circle cx="531.9" cy="350.5" r="2"/>
<circle cx="452.0" cy="349.8" r="2"/>
<circle cx="549.2" cy="350.7" r="2"/>
<circle cx="453.5" cy="351.9" r="2"/>
<circle cx="540.5" cy="351.8" r="2"/>
<circle cx="439.0" cy="350.0" r="2"/>
<circle cx="525.2" cy="350.7" r="2"/>
<circle cx="443.9" cy="352.0" r="2"/>
<circle cx="525.1" cy="350.3" r="2"/>
<circle cx="448.8" cy="350.0" r="2"/>
<circle cx="542.1" cy="350.6" r="2"/>
<circle cx="462.1" cy="350.2" r="2"/>
<circle cx="546.4" cy="351.8" r="2"/>
<circle cx="448.7" cy="352.1" r="2"/>
<circle cx="549.5" cy="349.7" r="2"/>
<circle cx="453.7" cy="351.9" r="2"/>
<circle cx="525.8" cy="351.9" r="2"/>
<circle cx="445.3" cy="351.7" r="2"/>
<circle cx="530.8" cy="352.1" r="2"/>
<circle cx="464.8" cy="350.3" r="2"/>
<circle cx="518.4" cy="351.0" r="2"/>
<circle cx="454.3" cy="350.0" r="2"/>
<circle cx="549.1" cy="350.4" r="2"/>
<circle cx="453.0" cy="349.7" r="2"/>
<circle cx="542.9" cy="350.8" r="2"/>
<circle cx="440.0" cy="352.1" r="2"/>
<circle cx="527.4" cy="349.5" r="2"/>
<circle cx="459.6" cy="350.4" r="2"/>
<circle cx="545.4" cy="350.4" r="2"/>
<circle cx="453.8" cy="351.4" r="2"/>
<circle cx="547.7" cy="349.5" r="2"/>
<circle cx="438.8" cy="350.6" r="2"/>
<circle cx="523.2" cy="351.6" r="2"/>
<circle cx="446.6" cy="350.2" r="2"/>
<circle cx="520.9" cy="349.9" r="2"/>
<circle cx="447.3" cy="349.9" r="2"/>
<circle cx="525.2" cy="349.9" r="2"/>
<circle cx="459.6" cy="349.4" r="2"/>
<circle cx="535.2" cy="351.1" r="2"/>
<circle cx="435.7" cy="351.7" r="2"/>
<circle cx="543.8" cy="349.8" r="2"/>
<circle cx="437.0" cy="349.2" r="2"/>
<circle cx="547.7" cy="349.1" r="2"/>
<circle cx="455.7" cy="350.9" r="2"/>
<circle cx="540.4" cy="350.5" r="2"/>
<circle cx="450.3" cy="350.5" r="2"/>
<circle cx="543.7" cy="349.3" r="2"/>
<circle cx="444.1" cy="350.6" r="2"/>
<circle cx="532.1" cy="351.0" r="2"/>
<circle cx="448.4" cy="352.2" r="2"/>
<circle cx="525.3" cy="352.0" r="2"/>
<circle cx="435.6" cy="351.7" r="2"/>
<circle cx="521.5" cy="350.0" r="2"/>
<circle cx="449.4" cy="352.0" r="2"/>
<circle cx="522.5" cy="350.7" r="2"/>
<circle cx="461.9" cy="350.6" r="2"/>
<circle cx="542.6" cy="352.3" r="2"/>
<circle cx="462.3" cy="349.8" r="2"/>
<circle cx="529.1" cy="350.8" r="2"/>
<circle cx="460.5" cy="352.2" r="2"/>
<circle cx="546.8" cy="351.6" r="2"/>
<circle cx="455.7" cy="351.3" r="2"/>
<circle cx="547.6" cy="351.6" r="2"/>
<circle cx="440.8" cy="349.7" r="2"/>
<circle cx="531.8" cy="352.2" r="2"/>
<circle cx="445.7" cy="351.7" r="2"/>
<circle cx="528.0" cy="351.3" r="2"/>
<circle cx="464.6" cy="352.3" r="2"/>
<circle cx="537.4" cy="351.0" r="2"/>
<circle cx="440.7" cy="351.8" r="2"/>
<circle cx="525.2" cy="349.4" r="2"/>
<circle cx="464.3" cy="350.7" r="2"/>
<circle cx="533.7" cy="349.6" r="2"/>
<circle cx="466.4" cy="351.3" r="2"/>
<circle cx="547.4" cy="350.3" r="2"/>
<circle cx="451.4" cy="350.7" r="2"/>
<circle cx="521.1" cy="349.1" r="2"/>
<circle cx="455.2" cy="350.2" r="2"/>
<circle cx="546.6" cy="351.5" r="2"/>
<circle cx="457.7" cy="350.9" r="2"/>
<circle cx="526.2" cy="350.9" r="2"/>
<circle cx="457.6" cy="349.8" r="2"/>
<circle cx="533.8" cy="349.2" r="2"/>
<circle cx="457.9" cy="350.4" r="2"/>
<circle cx="525.4" cy="351.3" r="2"/>
<circle cx="462.1" cy="349.7" r="2"/>
<circle cx="518.2" cy="350.9" r="2"/>
<circle cx="467.4" cy="349.3" r="2"/>
<circle cx="545.3" cy="351.0" r="2"/>
<circle cx="459.0" cy="349.0" r="2"/>
<circle cx="531.5" cy="349.1" r="2"/>
<circle cx="467.2" cy="352.3" r="2"/>
<circle cx="542.2" cy="351.0" r="2"/>
<circle cx="461.3" cy="349.4" r="2"/>
<circle cx="551.5" cy="350.3" r="2"/>
<circle cx="449.6" cy="349.0" r="2"/>
<circle cx="520.7" cy="352.1" r="2"/>
<circle cx="441.7" cy="350.7" r="2"/>
<circle cx="542.7" cy="351.4" r="2"/>
<circle cx="450.0" cy="351.3" r="2"/>
<circle cx="546.4" cy="349.7" r="2"/>
<circle cx="448.1" cy="350.9" r="2"/>
<circle cx="541.5" cy="350.9" r="2"/>
<circle cx="436.1" cy="349.8" r="2"/>
<circle cx="530.2" cy="351.9" r="2"/>
<circle cx="456.0" cy="349.9" r="2"/>
<circle cx="537.3" cy="350.0" r="2"/>
<circle cx="467.9" cy="351.3" r="2"/>
<circle cx="547.9" cy="350.3" r="2"/>
<circle cx="439.5" cy="351.6" r="2"/>
<circle cx="524.1" cy="351.8" r="2"/>
<circle cx="461.1" cy="351.9" r="2"/>
<circle cx="537.5" cy="351.1" r="2"/>
<circle cx="436.0" cy="349.9" r="2"/>
<circle cx="522.1" cy="349.2" r="2"/>
<circle cx="453.1" cy="349.2" r="2"/>
<circle cx="534.8" cy="349.5" r="2"/>
<circle cx="441.4" cy="351.6" r="2"/>
<circle cx="551.5" cy="351.1" r="2"/>
<circle cx="455.9" cy="349.6" r="2"/>
<circle cx="532.4" cy="351.9" r="2"/>
<circle cx="437.5" cy="350.2" r="2"/>
<circle cx="526.3" cy="349.7" r="2"/>
<circle cx="440.1" cy="351.4" r="2"/>
<circle cx="529.5" cy="352.3" r="2"/>
<circle cx="445.9" cy="351.3" r="2"/>
<circle cx="530.4" cy="351.5" r="2"/>
<circle cx="437.0" cy="352.2" r="2"/>
<circle cx="526.4" cy="351.4" r="2"/>
<circle cx="446.0" cy="349.1" r="2"/>
<circle cx="536.3" cy="349.4" r="2"/>
<circle cx="461.6" cy="349.7" r="2"/>
<circle cx="519.7" cy="350.8" r="2"/>
<circle cx="454.9" cy="351.1" r="2"/>
<circle cx="542.3" cy="349.2" r="2"/>
<circle cx="465.8" cy="351.7" r="2"/>
<circle cx="543.4" cy="349.0" r="2"/>
<circle cx="444.9" cy="349.7" r="2"/>
<circle cx="548.0" cy="349.9" r="2"/>
<circle cx="448.5" cy="349.7" r="2"/>
<circle cx="542.9" cy="349.4" r="2"/>
<circle cx="450.8" cy="351.5" r="2"/>
<circle cx="530.3" cy="349.7" r="2"/>
<circle cx="452.4" cy="349.6" r="2"/>
<circle cx="542.7" cy="351.7" r="2"/>
<circle cx="443.0" cy="349.2" r="2"/>
<circle cx="530.7" cy="349.0" r="2"/>
<circle cx="463.9" cy="352.1" r="2"/>
<circle cx="538.2" cy="350.7" r="2"/>
<circle cx="455.0" cy="350.2" r="2"/>
<circle cx="536.4" cy="351.0" r="2"/>
<circle cx="463.8" cy="350.0" r="2"/>
<circle cx="523.0" cy="350.5" r="2"/>
<circle cx="436.7" cy="350.0" r="2"/>
<circle cx="535.3" cy="351.8" r="2"/>
<circle cx="455.0" cy="352.3" r="2"/>
<circle cx="544.7" cy="352.3" r="2"/>
<circle cx="465.0" cy="350.1" r="2"/>
<circle cx="524.1" cy="351.3" r="2"/>
<circle cx="460.1" cy="350.3" r="2"/>
<circle cx="545.9" cy="351.1" r="2"/>
<circle cx="462.8" cy="349.0" r="2"/>
<circle cx="546.5" cy="351.9" r="2"/>
<circle cx="443.0" cy="351.8" r="2"/>
<circle cx="527.0" cy="351.8" r="2"/>
<circle cx="463.3" cy="351.7" r="2"/>
<circle cx="521.2" cy="349.6" r="2"/>
<circle cx="453.6" cy="349.8" r="2"/>
<circle cx="530.9" cy="352.2" r="2"/>
<circle cx="466.0" cy="349.5" r="2"/>
<circle cx="523.7" cy="351.6" r="2"/>
<circle cx="454.3" cy="349.0" r="2"/>
<circle cx="550.6" cy="349.6" r="2"/>
<circle cx="437.9" cy="351.9" r="2"/>
<circle cx="546.1" cy="349.3" r="2"/>
<circle cx="454.6" cy="352.1" r="2"/>
<circle cx="551.9" cy="352.0" r="2"/>
<circle cx="463.5" cy="352.1" r="2"/>
<circle cx="531.6" cy="351.3" r="2"/>
<circle cx="464.1" cy="351.7" r="2"/>
<circle cx="538.3" cy="351.8" r="2"/>
<circle cx="460.8" cy="352.0" r="2"/>
<circle cx="548.8" cy="351.9" r="2"/>
<circle cx="441.3" cy="350.1" r="2"/>
<circle cx="534.8" cy="349.0" r="2"/>
<circle cx="444.6" cy="351.9" r="2"/>
<circle cx="551.2" cy="350.6" r="2"/>
<circle cx="452.6" cy="349.4" r="2"/>
<circle cx="536.3" cy="352.1" r="2"/>
<circle cx="445.5" cy="351.2" r="2"/>
<circle cx="545.8" cy="350.5" r="2"/>
<circle cx="449.7" cy="351.4" r="2"/>
<circle cx="524.0" cy="350.1" r="2"/>
<circle cx="442.9" cy="349.2" r="2"/>
<circle cx="526.3" cy="351.7" r="2"/>
<circle cx="460.5" cy="350.3" r="2"/>
<circle cx="521.9" cy="350.7" r="2"/>
<circle cx="444.7" cy="351.1" r="2"/>
<circle cx="547.1" cy="350.2" r="2"/>
<circle cx="446.1" cy="351.7" r="2"/>
<circle cx="547.1" cy="351.3" r="2"/>
<circle cx="446.4" cy="352.1" r="2"/>
<circle cx="520.2" cy="352.3" r="2"/>
<circle cx="459.6" cy="349.2" r="2"/>
<circle cx="523.8" cy="351.6" r="2"/>
<circle cx="466.8" cy="349.3" r="2"/>
<circle cx="539.0" cy="351.8" r="2"/>
<circle cx="457.7" cy="352.1" r="2"/>
<circle cx="547.8" cy="349.6" r="2"/>
<circle cx="437.9" cy="351.9" r="2"/>
<circle cx="526.4" cy="351.9" r="2"/>
<circle cx="467.5" cy="350.3" r="2"/>
<circle cx="544.1" cy="349.7" r="2"/>
<circle cx="452.4" cy="349.4" r="2"/>
<circle cx="539.3" cy="349.5" r="2"/>
<circle cx="449.5" cy="349.1" r="2"/>
<circle cx="551.2" cy="351.0" r="2"/>
<circle cx="446.5" cy="349.7" r="2"/>
<circle cx="544.6" cy="350.6" r="2"/>
<circle cx="454.2" cy="349.1" r="2"/>
<circle cx="530.4" cy="350.5" r="2"/>
<circle cx="463.6" cy="349.7" r="2"/>
<circle cx="519.7" cy="350.8" r="2"/>
<circle cx="442.4" cy="349.1" r="2"/>
<circle cx="521.7" cy="350.6" r="2"/>
<circle cx="449.5" cy="349.9" r="2"/>
<circle cx="541.9" cy="349.2" r="2"/>
<circle cx="445.0" cy="350.6" r="2"/>
<circle cx="526.3" cy="352.2" r="2"/>
<circle cx="446.5" cy="350.5" r="2"/>
<circle cx="550.3" cy="350.7" r="2"/>
<circle cx="442.9" cy="350.6" r="2"/>
<circle cx="551.7" cy="351.7" r="2"/>
<circle cx="445.6" cy="349.2" r="2"/>
<circle cx="549.5" cy="350.0" r="2"/>
<circle cx="437.7" cy="350.4" r="2"/>
<circle cx="544.0" cy="350.2" r="2"/>
<circle cx="462.3" cy="352.1" r="2"/>
<circle cx="540.9" cy="351.9" r="2"/>
<circle cx="455.0" cy="349.3" r="2"/>
<circle cx="541.0" cy="349.8" r="2"/>
<circle cx="462.5" cy="352.0" r="2"/>
<circle cx="533.8" cy="351.3" r="2"/>
<circle cx="436.7" cy="350.9" r="2"/>
<circle cx="540.4" cy="352.0" r="2"/>
<circle cx="437.4" cy="349.6" r="2"/>
<circle cx="543.9" cy="351.0" r="2"/>
<circle cx="450.3" cy="352.2" r="2"/>
<circle cx="520.4" cy="351.9" r="2"/>
<circle cx="438.8" cy="349.8" r="2"/>
<circle cx="540.4" cy="349.2" r="2"/>
<circle cx="461.0" cy="350.0" r="2"/>
<circle cx="545.1" cy="351.0" r="2"/>
<circle cx="443.7" cy="351.6" r="2"/>
<circle cx="549.2" cy="351.6" r="2"/>
<circle cx="438.2" cy="350.5" r="2"/>
<circle cx="520.3" cy="350.5" r="2"/>
<circle cx="444.6" cy="350.7" r="2"/>
<circle cx="547.5" cy="351.5" r="2"/>
<circle cx="462.0" cy="349.2" r="2"/>
<circle cx="534.5" cy="350.4" r="2"/>
<circle cx="459.7" cy="351.9" r="2"/>
<circle cx="518.3" cy="351.8" r="2"/>
<circle cx="446.2" cy="349.1" r="2"/>
<circle cx="539.1" cy="350.8" r="2"/>
<circle cx="467.7" cy="351.7" r="2"/>
<circle cx="533.9" cy="351.6" r="2"/>
<circle cx="465.3" cy="350.7" r="2"/>
<circle cx="528.8" cy="351.2" r="2"/>
<circle cx="463.9" cy="351.3" r="2"/>
<circle cx="539.0" cy="349.5" r="2"/>
<circle cx="459.8" cy="351.0" r="2"/>
<circle cx="542.6" cy="350.5" r="2"/>
<circle cx="447.0" cy="284.0" r="2"/>
<circle cx="426.9" cy="290.5" r="2"/>
<circle cx="431.0" cy="283.0" r="2"/>
<circle cx="429.0" cy="296.0" r="2"/>
<circle cx="431.0" cy="300.0" r="2"/>
<circle cx="430.0" cy="306.0" r="2"/>
<circle cx="432.0" cy="311.0" r="2"/>
<circle cx="431.0" cy="318.0" r="2"/>
<circle cx="432.0" cy="326.0" r="2"/>
<circle cx="433.0" cy="333.0" r="2"/>
<circle cx="432.0" cy="341.0" r="2"/>
<circle cx="434.0" cy="347.0" r="2"/>
<circle cx="433.0" cy="351.0" r="2"/>
<circle cx="446.0" cy="303.0" r="2"/>
<circle cx="449.0" cy="308.0" r="2"/>
<circle cx="454.0" cy="318.0" r="2"/>
<circle cx="458.0" cy="326.0" r="2"/>
<circle cx="466.0" cy="338.0" r="2"/>
<circle cx="468.0" cy="343.0" r="2"/>
<circle cx="462.9" cy="329.1" r="2"/>
<circle cx="465.8" cy="339.0" r="2"/>
<circle cx="453.9" cy="320.8" r="2"/>
<circle cx="441.0" cy="293.0" r="2"/>
<circle cx="443.0" cy="287.0" r="2"/>
<circle cx="533.0" cy="317.5" r="2"/>
<circle cx="528.8" cy="321.8" r="2"/>
<circle cx="529.8" cy="327.2" r="2"/>
<circle cx="527.7" cy="330.5" r="2"/>
<circle cx="534.2" cy="320.8" r="2"/>
<circle cx="538.5" cy="316.4" r="2"/>
<circle cx="539.6" cy="311.0" r="2"/>
<circle cx="540.6" cy="301.3" r="2"/>
<circle cx="545.0" cy="302.4" r="2"/>
<circle cx="547.1" cy="324.0" r="2"/>
<circle cx="552.5" cy="331.6" r="2"/>
<circle cx="551.4" cy="337.0" r="2"/>
<circle cx="545.0" cy="339.0" r="2"/>
<circle cx="550.4" cy="344.5" r="2"/>
<circle cx="543.9" cy="332.6" r="2"/>
<circle cx="552.5" cy="281.2" r="2"/>
<circle cx="549.3" cy="288.4" r="2"/>
<circle cx="551.4" cy="291.2" r="2"/>
<circle cx="552.5" cy="297.0" r="2"/>
<circle cx="554.3" cy="302.0" r="2"/>
<circle cx="556.4" cy="315.0" r="2"/>
<circle cx="547.1" cy="300.2" r="2"/>
<circle cx="536.0" cy="313.0" r="2"/>
<circle cx="525.0" cy="336.0" r="2"/>
<circle cx="522.0" cy="340.0" r="2"/>
<circle cx="530.0" cy="323.0" r="2"/>
<circle cx="546.0" cy="330.0" r="2"/>
<circle cx="548.0" cy="335.0" r="2"/>
<circle cx="542.0" cy="305.0" r="2"/>
<circle cx="544.0" cy="304.0" r="2"/>
</g>
<g fill="#4169e1" fill-opacity="0.6">
<circle cx="426.4" cy="44.2" r="2.4"/>
<circle cx="426.8" cy="91.8" r="2.4"/>
<circle cx="426.3" cy="122.8" r="2.4"/>
<circle cx="426.9" cy="133.1" r="2.4"/>
<circle cx="426.9" cy="133.4" r="2.4"/>
<circle cx="428.0" cy="144.9" r="2.4"/>
<circle cx="429.6" cy="147.0" r="2.4"/>
<circle cx="432.3" cy="148.1" r="2.4"/>
<circle cx="430.1" cy="149.2" r="2.4"/>
<circle cx="433.9" cy="151.9" r="2.4"/>
<circle cx="428.0" cy="156.8" r="2.4"/>
<circle cx="426.4" cy="164.9" r="2.4"/>
<circle cx="428.0" cy="166.0" r="2.4"/>
<circle cx="433.4" cy="164.9" r="2.4"/>
<circle cx="429.1" cy="175.2" r="2.4"/>
<circle cx="428.4" cy="181.3" r="2.4"/>
<circle cx="427.2" cy="183.4" r="2.4"/>
<circle cx="428.4" cy="190.5" r="2.4"/>
<circle cx="428.0" cy="192.6" r="2.4"/>
<circle cx="428.9" cy="200.2" r="2.4"/>
<circle cx="427.6" cy="202.3" r="2.4"/>
<circle cx="433.5" cy="206.9" r="2.4"/>
<circle cx="432.2" cy="209.0" r="2.4"/>
<circle cx="429.7" cy="211.5" r="2.4"/>
<circle cx="428.4" cy="213.2" r="2.4"/>
<circle cx="427.4" cy="214.2" r="2.4"/>
<circle cx="431.2" cy="216.9" r="2.4"/>
<circle cx="429.6" cy="221.2" r="2.4"/>
<circle cx="430.1" cy="223.9" r="2.4"/>
<circle cx="429.1" cy="227.2" r="2.4"/>
<circle cx="430.7" cy="228.3" r="2.4"/>
<circle cx="426.9" cy="233.1" r="2.4"/>
<circle cx="431.8" cy="232.0" r="2.4"/>
<circle cx="428.5" cy="234.7" r="2.4"/>
<circle cx="433.9" cy="235.3" r="2.4"/>
<circle cx="430.1" cy="237.5" r="2.4"/>
<circle cx="427.4" cy="240.7" r="2.4"/>
<circle cx="432.3" cy="242.3" r="2.4"/>
<circle cx="426.4" cy="244.0" r="2.4"/>
<circle cx="429.1" cy="246.1" r="2.4"/>
<circle cx="435.0" cy="244.5" r="2.4"/>
<circle cx="431.2" cy="248.3" r="2.4"/>
<circle cx="426.9" cy="246.1" r="2.4"/>
<circle cx="430.1" cy="248.2" r="2.4"/>
<circle cx="427.4" cy="251.5" r="2.4"/>
<circle cx="431.2" cy="252.6" r="2.4"/>
<circle cx="429.6" cy="256.4" r="2.4"/>
<circle cx="431.2" cy="259.6" r="2.4"/>
<circle cx="428.0" cy="262.8" r="2.4"/>
<circle cx="432.8" cy="263.4" r="2.4"/>
<circle cx="430.1" cy="265.6" r="2.4"/>
<circle cx="426.9" cy="267.7" r="2.4"/>
<circle cx="432.3" cy="267.2" r="2.4"/>
<circle cx="429.1" cy="269.9" r="2.4"/>
<circle cx="433.9" cy="271.0" r="2.4"/>
<circle cx="430.7" cy="272.6" r="2.4"/>
<circle cx="428.0" cy="273.1" r="2.4"/>
<circle cx="432.3" cy="275.3" r="2.4"/>
<circle cx="429.6" cy="275.8" r="2.4"/>
<circle cx="434.5" cy="276.4" r="2.4"/>
<circle cx="560.1" cy="101.0" r="2.4"/>
<circle cx="559.7" cy="109.9" r="2.4"/>
<circle cx="560.0" cy="116.9" r="2.4"/>
<circle cx="553.6" cy="166.6" r="2.4"/>
<circle cx="554.4" cy="216.3" r="2.4"/>
<circle cx="555.4" cy="228.1" r="2.4"/>
<circle cx="558.3" cy="231.8" r="2.4"/>
<circle cx="559.3" cy="243.6" r="2.4"/>
<circle cx="547.0" cy="247.8" r="2.4"/>
<circle cx="554.9" cy="246.2" r="2.4"/>
<circle cx="558.3" cy="254.1" r="2.4"/>
<circle cx="552.8" cy="263.3" r="2.4"/>
<circle cx="555.4" cy="274.3" r="2.4"/>
<circle cx="430.0" cy="272.5" r="2.4"/>
<circle cx="433.5" cy="273.0" r="2.4"/>
<circle cx="431.5" cy="275.0" r="2.4"/>
<circle cx="435.5" cy="276.0" r="2.4"/>
<circle cx="428.8" cy="245.7" r="2.4"/>
<circle cx="430.0" cy="250.1" r="2.4"/>
<circle cx="432.4" cy="210.8" r="2.4"/>
<circle cx="426.6" cy="267.1" r="2.4"/>
<circle cx="429.0" cy="223.1" r="2.4"/>
<circle cx="436.0" cy="240.3" r="2.4"/>
<circle cx="434.4" cy="240.8" r="2.4"/>
<circle cx="432.6" cy="217.0" r="2.4"/>
<circle cx="432.5" cy="269.4" r="2.4"/>
<circle cx="431.5" cy="260.1" r="2.4"/>
<circle cx="432.9" cy="210.7" r="2.4"/>
<circle cx="433.7" cy="249.2" r="2.4"/>
<circle cx="429.4" cy="208.3" r="2.4"/>
<circle cx="434.7" cy="240.5" r="2.4"/>
<circle cx="433.3" cy="270.2" r="2.4"/>
<circle cx="433.3" cy="273.2" r="2.4"/>
<circle cx="430.3" cy="264.5" r="2.4"/>
<circle cx="430.7" cy="274.3" r="2.4"/>
<circle cx="434.8" cy="213.1" r="2.4"/>
<circle cx="427.8" cy="221.8" r="2.4"/>
<circle cx="435.7" cy="237.8" r="2.4"/>
<circle cx="432.5" cy="228.0" r="2.4"/>
</g>
<g font-size="4.77" fill="#000" stroke="#000" stroke-width="0.12">
<text x="350.1" y="50.0" textLength="152.7" lengthAdjust="spacingAndGlyphs">JINESH_BLEBBISHIELD_TO_IMMUNE_CELL_FUSION_P8SHMS_DN</text>
<text x="373.1" y="97.4" textLength="107.0" lengthAdjust="spacingAndGlyphs">REACTOME_DISEASES_OF_IMMUNE_SYSTEM</text>
<text x="495.9" y="107.2" textLength="128.9" lengthAdjust="spacingAndGlyphs">REACTOME_PRC2_METHYLATES_HISTONES_AND_DNA</text>
<text x="528.4" y="115.4" textLength="63.3" lengthAdjust="spacingAndGlyphs">RICKMAN_METASTASIS_UP</text>
<text x="499.9" y="122.4" textLength="120.3" lengthAdjust="spacingAndGlyphs">BYSTRYKH_HEMATOPOIESIS_STEM_CELL_QTL_CIS</text>
<text x="379.8" y="128.6" textLength="92.3" lengthAdjust="spacingAndGlyphs">REACTOME_ANTIMICROBIAL_PEPTIDES</text>
<text x="381.0" y="139.7" textLength="92.0" lengthAdjust="spacingAndGlyphs">DAZARD_UV_RESPONSE_CLUSTER_G3</text>
<text x="384.5" y="153.7" textLength="90.3" lengthAdjust="spacingAndGlyphs">HOEBEKE_LYMPHOID_STEM_CELL_DN</text>
<text x="363.9" y="158.0" textLength="138.8" lengthAdjust="spacingAndGlyphs">REACTOME_SIGNALING_BY_FLT3_ITD_AND_TKD_MUTANTS</text>
<text x="391.2" y="163.2" textLength="73.0" lengthAdjust="spacingAndGlyphs">ONDER_CDH1_TARGETS_3_DN</text>
<text x="398.5" y="170.2" textLength="69.2" lengthAdjust="spacingAndGlyphs">ABBUD_LIF_SIGNALING_1_UP</text>
<text x="502.2" y="172.6" textLength="103.2" lengthAdjust="spacingAndGlyphs">REACTOME_INTRAFLAGELLAR_TRANSPORT</text>
<text x="385.0" y="180.4" textLength="89.0" lengthAdjust="spacingAndGlyphs">MARTIN_VIRAL_GPCR_SIGNALING_UP</text>
<text x="405.1" y="188.6" textLength="46.9" lengthAdjust="spacingAndGlyphs">LEONARD_HYPOXIA</text>
<text x="307.0" y="195.8" textLength="243.4" lengthAdjust="spacingAndGlyphs">REACTOME_TP53_REGULATES_TRANSCRIPTION_OF_GENES_INVOLVED_IN_CYTOCHROME_C_RELEASE</text>
<text x="363.0" y="199.3" textLength="124.4" lengthAdjust="spacingAndGlyphs">SARRIO_EPITHELIAL_MESENCHYMAL_TRANSITION_DN</text>
<text x="345.2" y="205.8" textLength="167.1" lengthAdjust="spacingAndGlyphs">WP_NUCLEOTIDEBINDING_OLIGOMERIZATION_DOMAIN_NOD_PATHWAY</text>
<text x="385.8" y="212.8" textLength="95.9" lengthAdjust="spacingAndGlyphs">BOYLAN_MULTIPLE_MYELOMA_PCA1_UP</text>
<text x="375.3" y="218.4" textLength="112.1" lengthAdjust="spacingAndGlyphs">DARWICHE_SQUAMOUS_CELL_CARCINOMA_UP</text>
<text x="490.5" y="221.9" textLength="127.4" lengthAdjust="spacingAndGlyphs">REACTOME_CD28_DEPENDENT_PI3K_AKT_SIGNALING</text>
<text x="406.0" y="222.0" textLength="71.8" lengthAdjust="spacingAndGlyphs">WILLIAMS_ESR1_TARGETS_UP</text>
<text x="387.6" y="227.4" textLength="83.2" lengthAdjust="spacingAndGlyphs">WONG_ENDOMETRIUM_CANCER_UP</text>
<text x="395.5" y="230.4" textLength="70.9" lengthAdjust="spacingAndGlyphs">WOTTON_RUNX_TARGETS_UP</text>
<text x="484.7" y="233.5" textLength="141.1" lengthAdjust="spacingAndGlyphs">RICKMAN_TUMOR_DIFFERENTIATED_WELL_VS_POORLY_UP</text>
<text x="312.3" y="238.3" textLength="236.0" lengthAdjust="spacingAndGlyphs">BLANCO_MELO_COVID19_SARS_COV_2_LOW_MOI_INFECTION_A549_ACE2_EXPRESSING_CELLS_UP</text>
<text x="387.6" y="243.5" textLength="92.4" lengthAdjust="spacingAndGlyphs">SABATES_COLORECTAL_ADENOMA_UP</text>
<text x="331.2" y="249.9" textLength="199.0" lengthAdjust="spacingAndGlyphs">TONKS_TARGETS_OF_RUNX1_RUNX1T1_FUSION_SUSTAINED_IN_GRANULOCYTE_UP</text>
<text x="538.3" y="249.3" textLength="42.1" lengthAdjust="spacingAndGlyphs">WP_CILIOPATHIES</text>
<text x="396.9" y="254.0" textLength="70.8" lengthAdjust="spacingAndGlyphs">LEE_LIVER_CANCER_MYC_DN</text>
<text x="399.9" y="258.4" textLength="65.3" lengthAdjust="spacingAndGlyphs">INGRAM_SHH_TARGETS_UP</text>
<text x="530.0" y="259.6" textLength="57.2" lengthAdjust="spacingAndGlyphs">MATZUK_SPERMATOZOA</text>
<text x="368.4" y="265.3" textLength="127.9" lengthAdjust="spacingAndGlyphs">TAKEDA_TARGETS_OF_NUP98_HOXA9_FUSION_3D_DN</text>
<text x="328.0" y="270.3" textLength="208.5" lengthAdjust="spacingAndGlyphs">BLANCO_MELO_COVID19_BRONCHIAL_EPITHELIAL_CELLS_SARS_COV_2_INFECTION_UP</text>
<text x="371.5" y="274.9" textLength="139.2" lengthAdjust="spacingAndGlyphs">NAKAMURA_TUMOR_ZONE_PERIPHERAL_VS_CENTRAL_DN</text>
<text x="346.0" y="278.6" textLength="172.9" lengthAdjust="spacingAndGlyphs">TURASHVILI_BREAST_LOBULAR_CARCINOMA_VS_LOBULAR_NORMAL_UP</text>
</g>
</svg></div>
</body></html>
